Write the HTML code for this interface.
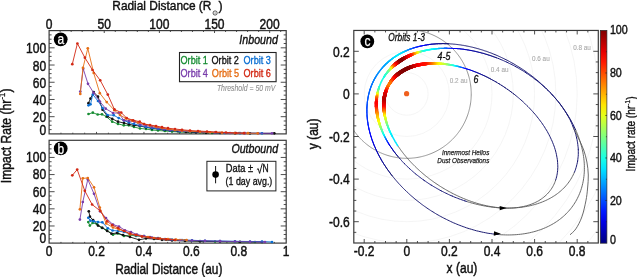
<!DOCTYPE html>
<html><head><meta charset="utf-8"><style>
html,body{margin:0;padding:0;background:#fff;}
svg{display:block;font-family:"Liberation Sans",sans-serif;will-change:transform;}
text{stroke-linejoin:round;}
</style></head><body>
<svg width="637" height="277" viewBox="0 0 637 277">
<rect width="637" height="277" fill="#fff"/>
<line x1="49.10" y1="129.60" x2="51.60" y2="129.60" stroke="#3a3a3a" stroke-width="0.9"/>
<line x1="286.20" y1="129.60" x2="283.70" y2="129.60" stroke="#3a3a3a" stroke-width="0.9"/>
<line x1="49.10" y1="125.29" x2="51.60" y2="125.29" stroke="#3a3a3a" stroke-width="0.9"/>
<line x1="286.20" y1="125.29" x2="283.70" y2="125.29" stroke="#3a3a3a" stroke-width="0.9"/>
<line x1="49.10" y1="120.99" x2="51.60" y2="120.99" stroke="#3a3a3a" stroke-width="0.9"/>
<line x1="286.20" y1="120.99" x2="283.70" y2="120.99" stroke="#3a3a3a" stroke-width="0.9"/>
<line x1="49.10" y1="116.68" x2="54.60" y2="116.68" stroke="#3a3a3a" stroke-width="0.9"/>
<line x1="286.20" y1="116.68" x2="280.70" y2="116.68" stroke="#3a3a3a" stroke-width="0.9"/>
<line x1="49.10" y1="112.38" x2="51.60" y2="112.38" stroke="#3a3a3a" stroke-width="0.9"/>
<line x1="286.20" y1="112.38" x2="283.70" y2="112.38" stroke="#3a3a3a" stroke-width="0.9"/>
<line x1="49.10" y1="108.08" x2="51.60" y2="108.08" stroke="#3a3a3a" stroke-width="0.9"/>
<line x1="286.20" y1="108.08" x2="283.70" y2="108.08" stroke="#3a3a3a" stroke-width="0.9"/>
<line x1="49.10" y1="103.77" x2="51.60" y2="103.77" stroke="#3a3a3a" stroke-width="0.9"/>
<line x1="286.20" y1="103.77" x2="283.70" y2="103.77" stroke="#3a3a3a" stroke-width="0.9"/>
<line x1="49.10" y1="99.47" x2="54.60" y2="99.47" stroke="#3a3a3a" stroke-width="0.9"/>
<line x1="286.20" y1="99.47" x2="280.70" y2="99.47" stroke="#3a3a3a" stroke-width="0.9"/>
<line x1="49.10" y1="95.16" x2="51.60" y2="95.16" stroke="#3a3a3a" stroke-width="0.9"/>
<line x1="286.20" y1="95.16" x2="283.70" y2="95.16" stroke="#3a3a3a" stroke-width="0.9"/>
<line x1="49.10" y1="90.86" x2="51.60" y2="90.86" stroke="#3a3a3a" stroke-width="0.9"/>
<line x1="286.20" y1="90.86" x2="283.70" y2="90.86" stroke="#3a3a3a" stroke-width="0.9"/>
<line x1="49.10" y1="86.55" x2="51.60" y2="86.55" stroke="#3a3a3a" stroke-width="0.9"/>
<line x1="286.20" y1="86.55" x2="283.70" y2="86.55" stroke="#3a3a3a" stroke-width="0.9"/>
<line x1="49.10" y1="82.25" x2="54.60" y2="82.25" stroke="#3a3a3a" stroke-width="0.9"/>
<line x1="286.20" y1="82.25" x2="280.70" y2="82.25" stroke="#3a3a3a" stroke-width="0.9"/>
<line x1="49.10" y1="77.95" x2="51.60" y2="77.95" stroke="#3a3a3a" stroke-width="0.9"/>
<line x1="286.20" y1="77.95" x2="283.70" y2="77.95" stroke="#3a3a3a" stroke-width="0.9"/>
<line x1="49.10" y1="73.64" x2="51.60" y2="73.64" stroke="#3a3a3a" stroke-width="0.9"/>
<line x1="286.20" y1="73.64" x2="283.70" y2="73.64" stroke="#3a3a3a" stroke-width="0.9"/>
<line x1="49.10" y1="69.34" x2="51.60" y2="69.34" stroke="#3a3a3a" stroke-width="0.9"/>
<line x1="286.20" y1="69.34" x2="283.70" y2="69.34" stroke="#3a3a3a" stroke-width="0.9"/>
<line x1="49.10" y1="65.03" x2="54.60" y2="65.03" stroke="#3a3a3a" stroke-width="0.9"/>
<line x1="286.20" y1="65.03" x2="280.70" y2="65.03" stroke="#3a3a3a" stroke-width="0.9"/>
<line x1="49.10" y1="60.73" x2="51.60" y2="60.73" stroke="#3a3a3a" stroke-width="0.9"/>
<line x1="286.20" y1="60.73" x2="283.70" y2="60.73" stroke="#3a3a3a" stroke-width="0.9"/>
<line x1="49.10" y1="56.42" x2="51.60" y2="56.42" stroke="#3a3a3a" stroke-width="0.9"/>
<line x1="286.20" y1="56.42" x2="283.70" y2="56.42" stroke="#3a3a3a" stroke-width="0.9"/>
<line x1="49.10" y1="52.12" x2="51.60" y2="52.12" stroke="#3a3a3a" stroke-width="0.9"/>
<line x1="286.20" y1="52.12" x2="283.70" y2="52.12" stroke="#3a3a3a" stroke-width="0.9"/>
<line x1="49.10" y1="47.82" x2="54.60" y2="47.82" stroke="#3a3a3a" stroke-width="0.9"/>
<line x1="286.20" y1="47.82" x2="280.70" y2="47.82" stroke="#3a3a3a" stroke-width="0.9"/>
<line x1="49.10" y1="43.51" x2="51.60" y2="43.51" stroke="#3a3a3a" stroke-width="0.9"/>
<line x1="286.20" y1="43.51" x2="283.70" y2="43.51" stroke="#3a3a3a" stroke-width="0.9"/>
<line x1="49.10" y1="39.21" x2="51.60" y2="39.21" stroke="#3a3a3a" stroke-width="0.9"/>
<line x1="286.20" y1="39.21" x2="283.70" y2="39.21" stroke="#3a3a3a" stroke-width="0.9"/>
<line x1="49.10" y1="34.90" x2="51.60" y2="34.90" stroke="#3a3a3a" stroke-width="0.9"/>
<line x1="286.20" y1="34.90" x2="283.70" y2="34.90" stroke="#3a3a3a" stroke-width="0.9"/>
<line x1="60.95" y1="133.90" x2="60.95" y2="132.70" stroke="#3a3a3a" stroke-width="0.9"/>
<line x1="72.81" y1="133.90" x2="72.81" y2="132.70" stroke="#3a3a3a" stroke-width="0.9"/>
<line x1="84.67" y1="133.90" x2="84.67" y2="132.70" stroke="#3a3a3a" stroke-width="0.9"/>
<line x1="96.52" y1="133.90" x2="96.52" y2="131.90" stroke="#3a3a3a" stroke-width="0.9"/>
<line x1="108.38" y1="133.90" x2="108.38" y2="132.70" stroke="#3a3a3a" stroke-width="0.9"/>
<line x1="120.23" y1="133.90" x2="120.23" y2="132.70" stroke="#3a3a3a" stroke-width="0.9"/>
<line x1="132.09" y1="133.90" x2="132.09" y2="132.70" stroke="#3a3a3a" stroke-width="0.9"/>
<line x1="143.94" y1="133.90" x2="143.94" y2="131.90" stroke="#3a3a3a" stroke-width="0.9"/>
<line x1="155.79" y1="133.90" x2="155.79" y2="132.70" stroke="#3a3a3a" stroke-width="0.9"/>
<line x1="167.65" y1="133.90" x2="167.65" y2="132.70" stroke="#3a3a3a" stroke-width="0.9"/>
<line x1="179.50" y1="133.90" x2="179.50" y2="132.70" stroke="#3a3a3a" stroke-width="0.9"/>
<line x1="191.36" y1="133.90" x2="191.36" y2="131.90" stroke="#3a3a3a" stroke-width="0.9"/>
<line x1="203.22" y1="133.90" x2="203.22" y2="132.70" stroke="#3a3a3a" stroke-width="0.9"/>
<line x1="215.07" y1="133.90" x2="215.07" y2="132.70" stroke="#3a3a3a" stroke-width="0.9"/>
<line x1="226.92" y1="133.90" x2="226.92" y2="132.70" stroke="#3a3a3a" stroke-width="0.9"/>
<line x1="238.78" y1="133.90" x2="238.78" y2="131.90" stroke="#3a3a3a" stroke-width="0.9"/>
<line x1="250.64" y1="133.90" x2="250.64" y2="132.70" stroke="#3a3a3a" stroke-width="0.9"/>
<line x1="262.49" y1="133.90" x2="262.49" y2="132.70" stroke="#3a3a3a" stroke-width="0.9"/>
<line x1="274.35" y1="133.90" x2="274.35" y2="132.70" stroke="#3a3a3a" stroke-width="0.9"/>
<rect x="49.10" y="30.60" width="237.10" height="103.30" fill="none" stroke="#3a3a3a" stroke-width="1.2"/>
<line x1="49.10" y1="238.82" x2="51.60" y2="238.82" stroke="#3a3a3a" stroke-width="0.9"/>
<line x1="286.20" y1="238.82" x2="283.70" y2="238.82" stroke="#3a3a3a" stroke-width="0.9"/>
<line x1="49.10" y1="234.53" x2="51.60" y2="234.53" stroke="#3a3a3a" stroke-width="0.9"/>
<line x1="286.20" y1="234.53" x2="283.70" y2="234.53" stroke="#3a3a3a" stroke-width="0.9"/>
<line x1="49.10" y1="230.25" x2="51.60" y2="230.25" stroke="#3a3a3a" stroke-width="0.9"/>
<line x1="286.20" y1="230.25" x2="283.70" y2="230.25" stroke="#3a3a3a" stroke-width="0.9"/>
<line x1="49.10" y1="225.97" x2="54.60" y2="225.97" stroke="#3a3a3a" stroke-width="0.9"/>
<line x1="286.20" y1="225.97" x2="280.70" y2="225.97" stroke="#3a3a3a" stroke-width="0.9"/>
<line x1="49.10" y1="221.68" x2="51.60" y2="221.68" stroke="#3a3a3a" stroke-width="0.9"/>
<line x1="286.20" y1="221.68" x2="283.70" y2="221.68" stroke="#3a3a3a" stroke-width="0.9"/>
<line x1="49.10" y1="217.40" x2="51.60" y2="217.40" stroke="#3a3a3a" stroke-width="0.9"/>
<line x1="286.20" y1="217.40" x2="283.70" y2="217.40" stroke="#3a3a3a" stroke-width="0.9"/>
<line x1="49.10" y1="213.12" x2="51.60" y2="213.12" stroke="#3a3a3a" stroke-width="0.9"/>
<line x1="286.20" y1="213.12" x2="283.70" y2="213.12" stroke="#3a3a3a" stroke-width="0.9"/>
<line x1="49.10" y1="208.83" x2="54.60" y2="208.83" stroke="#3a3a3a" stroke-width="0.9"/>
<line x1="286.20" y1="208.83" x2="280.70" y2="208.83" stroke="#3a3a3a" stroke-width="0.9"/>
<line x1="49.10" y1="204.55" x2="51.60" y2="204.55" stroke="#3a3a3a" stroke-width="0.9"/>
<line x1="286.20" y1="204.55" x2="283.70" y2="204.55" stroke="#3a3a3a" stroke-width="0.9"/>
<line x1="49.10" y1="200.27" x2="51.60" y2="200.27" stroke="#3a3a3a" stroke-width="0.9"/>
<line x1="286.20" y1="200.27" x2="283.70" y2="200.27" stroke="#3a3a3a" stroke-width="0.9"/>
<line x1="49.10" y1="195.98" x2="51.60" y2="195.98" stroke="#3a3a3a" stroke-width="0.9"/>
<line x1="286.20" y1="195.98" x2="283.70" y2="195.98" stroke="#3a3a3a" stroke-width="0.9"/>
<line x1="49.10" y1="191.70" x2="54.60" y2="191.70" stroke="#3a3a3a" stroke-width="0.9"/>
<line x1="286.20" y1="191.70" x2="280.70" y2="191.70" stroke="#3a3a3a" stroke-width="0.9"/>
<line x1="49.10" y1="187.42" x2="51.60" y2="187.42" stroke="#3a3a3a" stroke-width="0.9"/>
<line x1="286.20" y1="187.42" x2="283.70" y2="187.42" stroke="#3a3a3a" stroke-width="0.9"/>
<line x1="49.10" y1="183.13" x2="51.60" y2="183.13" stroke="#3a3a3a" stroke-width="0.9"/>
<line x1="286.20" y1="183.13" x2="283.70" y2="183.13" stroke="#3a3a3a" stroke-width="0.9"/>
<line x1="49.10" y1="178.85" x2="51.60" y2="178.85" stroke="#3a3a3a" stroke-width="0.9"/>
<line x1="286.20" y1="178.85" x2="283.70" y2="178.85" stroke="#3a3a3a" stroke-width="0.9"/>
<line x1="49.10" y1="174.57" x2="54.60" y2="174.57" stroke="#3a3a3a" stroke-width="0.9"/>
<line x1="286.20" y1="174.57" x2="280.70" y2="174.57" stroke="#3a3a3a" stroke-width="0.9"/>
<line x1="49.10" y1="170.28" x2="51.60" y2="170.28" stroke="#3a3a3a" stroke-width="0.9"/>
<line x1="286.20" y1="170.28" x2="283.70" y2="170.28" stroke="#3a3a3a" stroke-width="0.9"/>
<line x1="49.10" y1="166.00" x2="51.60" y2="166.00" stroke="#3a3a3a" stroke-width="0.9"/>
<line x1="286.20" y1="166.00" x2="283.70" y2="166.00" stroke="#3a3a3a" stroke-width="0.9"/>
<line x1="49.10" y1="161.72" x2="51.60" y2="161.72" stroke="#3a3a3a" stroke-width="0.9"/>
<line x1="286.20" y1="161.72" x2="283.70" y2="161.72" stroke="#3a3a3a" stroke-width="0.9"/>
<line x1="49.10" y1="157.43" x2="54.60" y2="157.43" stroke="#3a3a3a" stroke-width="0.9"/>
<line x1="286.20" y1="157.43" x2="280.70" y2="157.43" stroke="#3a3a3a" stroke-width="0.9"/>
<line x1="49.10" y1="153.15" x2="51.60" y2="153.15" stroke="#3a3a3a" stroke-width="0.9"/>
<line x1="286.20" y1="153.15" x2="283.70" y2="153.15" stroke="#3a3a3a" stroke-width="0.9"/>
<line x1="49.10" y1="148.87" x2="51.60" y2="148.87" stroke="#3a3a3a" stroke-width="0.9"/>
<line x1="286.20" y1="148.87" x2="283.70" y2="148.87" stroke="#3a3a3a" stroke-width="0.9"/>
<line x1="49.10" y1="144.58" x2="51.60" y2="144.58" stroke="#3a3a3a" stroke-width="0.9"/>
<line x1="286.20" y1="144.58" x2="283.70" y2="144.58" stroke="#3a3a3a" stroke-width="0.9"/>
<line x1="60.95" y1="243.10" x2="60.95" y2="241.90" stroke="#3a3a3a" stroke-width="0.9"/>
<line x1="72.81" y1="243.10" x2="72.81" y2="241.90" stroke="#3a3a3a" stroke-width="0.9"/>
<line x1="84.67" y1="243.10" x2="84.67" y2="241.90" stroke="#3a3a3a" stroke-width="0.9"/>
<line x1="96.52" y1="243.10" x2="96.52" y2="241.10" stroke="#3a3a3a" stroke-width="0.9"/>
<line x1="108.38" y1="243.10" x2="108.38" y2="241.90" stroke="#3a3a3a" stroke-width="0.9"/>
<line x1="120.23" y1="243.10" x2="120.23" y2="241.90" stroke="#3a3a3a" stroke-width="0.9"/>
<line x1="132.09" y1="243.10" x2="132.09" y2="241.90" stroke="#3a3a3a" stroke-width="0.9"/>
<line x1="143.94" y1="243.10" x2="143.94" y2="241.10" stroke="#3a3a3a" stroke-width="0.9"/>
<line x1="155.79" y1="243.10" x2="155.79" y2="241.90" stroke="#3a3a3a" stroke-width="0.9"/>
<line x1="167.65" y1="243.10" x2="167.65" y2="241.90" stroke="#3a3a3a" stroke-width="0.9"/>
<line x1="179.50" y1="243.10" x2="179.50" y2="241.90" stroke="#3a3a3a" stroke-width="0.9"/>
<line x1="191.36" y1="243.10" x2="191.36" y2="241.10" stroke="#3a3a3a" stroke-width="0.9"/>
<line x1="203.22" y1="243.10" x2="203.22" y2="241.90" stroke="#3a3a3a" stroke-width="0.9"/>
<line x1="215.07" y1="243.10" x2="215.07" y2="241.90" stroke="#3a3a3a" stroke-width="0.9"/>
<line x1="226.92" y1="243.10" x2="226.92" y2="241.90" stroke="#3a3a3a" stroke-width="0.9"/>
<line x1="238.78" y1="243.10" x2="238.78" y2="241.10" stroke="#3a3a3a" stroke-width="0.9"/>
<line x1="250.64" y1="243.10" x2="250.64" y2="241.90" stroke="#3a3a3a" stroke-width="0.9"/>
<line x1="262.49" y1="243.10" x2="262.49" y2="241.90" stroke="#3a3a3a" stroke-width="0.9"/>
<line x1="274.35" y1="243.10" x2="274.35" y2="241.90" stroke="#3a3a3a" stroke-width="0.9"/>
<rect x="49.10" y="140.30" width="237.10" height="102.80" fill="none" stroke="#3a3a3a" stroke-width="1.2"/>
<line x1="60.13" y1="30.60" x2="60.13" y2="32.00" stroke="#3a3a3a" stroke-width="0.9"/>
<line x1="71.16" y1="30.60" x2="71.16" y2="32.00" stroke="#3a3a3a" stroke-width="0.9"/>
<line x1="82.18" y1="30.60" x2="82.18" y2="32.00" stroke="#3a3a3a" stroke-width="0.9"/>
<line x1="93.21" y1="30.60" x2="93.21" y2="32.00" stroke="#3a3a3a" stroke-width="0.9"/>
<line x1="104.24" y1="30.60" x2="104.24" y2="33.00" stroke="#3a3a3a" stroke-width="0.9"/>
<line x1="115.27" y1="30.60" x2="115.27" y2="32.00" stroke="#3a3a3a" stroke-width="0.9"/>
<line x1="126.30" y1="30.60" x2="126.30" y2="32.00" stroke="#3a3a3a" stroke-width="0.9"/>
<line x1="137.32" y1="30.60" x2="137.32" y2="32.00" stroke="#3a3a3a" stroke-width="0.9"/>
<line x1="148.35" y1="30.60" x2="148.35" y2="32.00" stroke="#3a3a3a" stroke-width="0.9"/>
<line x1="159.38" y1="30.60" x2="159.38" y2="33.00" stroke="#3a3a3a" stroke-width="0.9"/>
<line x1="170.41" y1="30.60" x2="170.41" y2="32.00" stroke="#3a3a3a" stroke-width="0.9"/>
<line x1="181.43" y1="30.60" x2="181.43" y2="32.00" stroke="#3a3a3a" stroke-width="0.9"/>
<line x1="192.46" y1="30.60" x2="192.46" y2="32.00" stroke="#3a3a3a" stroke-width="0.9"/>
<line x1="203.49" y1="30.60" x2="203.49" y2="32.00" stroke="#3a3a3a" stroke-width="0.9"/>
<line x1="214.52" y1="30.60" x2="214.52" y2="33.00" stroke="#3a3a3a" stroke-width="0.9"/>
<line x1="225.55" y1="30.60" x2="225.55" y2="32.00" stroke="#3a3a3a" stroke-width="0.9"/>
<line x1="236.57" y1="30.60" x2="236.57" y2="32.00" stroke="#3a3a3a" stroke-width="0.9"/>
<line x1="247.60" y1="30.60" x2="247.60" y2="32.00" stroke="#3a3a3a" stroke-width="0.9"/>
<line x1="258.63" y1="30.60" x2="258.63" y2="32.00" stroke="#3a3a3a" stroke-width="0.9"/>
<line x1="269.66" y1="30.60" x2="269.66" y2="33.00" stroke="#3a3a3a" stroke-width="0.9"/>
<line x1="280.69" y1="30.60" x2="280.69" y2="32.00" stroke="#3a3a3a" stroke-width="0.9"/>
<text x="49.10" y="28.80" font-size="14" text-anchor="middle" textLength="6.70" lengthAdjust="spacingAndGlyphs" fill="#111" stroke="#111" stroke-width="0.45" style="">0</text>
<text x="104.24" y="28.80" font-size="14" text-anchor="middle" textLength="13.39" lengthAdjust="spacingAndGlyphs" fill="#111" stroke="#111" stroke-width="0.45" style="">50</text>
<text x="159.38" y="28.80" font-size="14" text-anchor="middle" textLength="20.09" lengthAdjust="spacingAndGlyphs" fill="#111" stroke="#111" stroke-width="0.45" style="">100</text>
<text x="214.52" y="28.80" font-size="14" text-anchor="middle" textLength="20.09" lengthAdjust="spacingAndGlyphs" fill="#111" stroke="#111" stroke-width="0.45" style="">150</text>
<text x="269.66" y="28.80" font-size="14" text-anchor="middle" textLength="20.09" lengthAdjust="spacingAndGlyphs" fill="#111" stroke="#111" stroke-width="0.45" style="">200</text>
<text x="112.30" y="10.40" font-size="13.6" text-anchor="start" textLength="99.09" lengthAdjust="spacingAndGlyphs" fill="#111" stroke="#111" stroke-width="0.44" style="">Radial Distance (R</text>
<circle cx="215.1" cy="13.0" r="2.1" fill="none" stroke="#111" stroke-width="0.7"/><circle cx="215.1" cy="13.0" r="0.55" fill="#111"/>
<text x="218.60" y="10.40" font-size="13.6" text-anchor="start" textLength="4.08" lengthAdjust="spacingAndGlyphs" fill="#111" stroke="#111" stroke-width="0.44" style="">)</text>
<text x="46.20" y="122.28" font-size="14" text-anchor="end" textLength="13.39" lengthAdjust="spacingAndGlyphs" fill="#111" stroke="#111" stroke-width="0.45" style="">20</text>
<text x="46.20" y="105.07" font-size="14" text-anchor="end" textLength="13.39" lengthAdjust="spacingAndGlyphs" fill="#111" stroke="#111" stroke-width="0.45" style="">40</text>
<text x="46.20" y="87.85" font-size="14" text-anchor="end" textLength="13.39" lengthAdjust="spacingAndGlyphs" fill="#111" stroke="#111" stroke-width="0.45" style="">60</text>
<text x="46.20" y="70.63" font-size="14" text-anchor="end" textLength="13.39" lengthAdjust="spacingAndGlyphs" fill="#111" stroke="#111" stroke-width="0.45" style="">80</text>
<text x="46.20" y="53.42" font-size="14" text-anchor="end" textLength="20.09" lengthAdjust="spacingAndGlyphs" fill="#111" stroke="#111" stroke-width="0.45" style="">100</text>
<text x="46.20" y="134.70" font-size="14" text-anchor="end" textLength="6.70" lengthAdjust="spacingAndGlyphs" fill="#111" stroke="#111" stroke-width="0.45" style="">0</text>
<text x="46.20" y="230.87" font-size="14" text-anchor="end" textLength="13.39" lengthAdjust="spacingAndGlyphs" fill="#111" stroke="#111" stroke-width="0.45" style="">20</text>
<text x="46.20" y="213.73" font-size="14" text-anchor="end" textLength="13.39" lengthAdjust="spacingAndGlyphs" fill="#111" stroke="#111" stroke-width="0.45" style="">40</text>
<text x="46.20" y="196.60" font-size="14" text-anchor="end" textLength="13.39" lengthAdjust="spacingAndGlyphs" fill="#111" stroke="#111" stroke-width="0.45" style="">60</text>
<text x="46.20" y="179.47" font-size="14" text-anchor="end" textLength="13.39" lengthAdjust="spacingAndGlyphs" fill="#111" stroke="#111" stroke-width="0.45" style="">80</text>
<text x="46.20" y="162.33" font-size="14" text-anchor="end" textLength="20.09" lengthAdjust="spacingAndGlyphs" fill="#111" stroke="#111" stroke-width="0.45" style="">100</text>
<text x="46.20" y="242.80" font-size="14" text-anchor="end" textLength="6.70" lengthAdjust="spacingAndGlyphs" fill="#111" stroke="#111" stroke-width="0.45" style="">0</text>
<text x="49.10" y="256.30" font-size="14" text-anchor="middle" textLength="6.70" lengthAdjust="spacingAndGlyphs" fill="#111" stroke="#111" stroke-width="0.45" style="">0</text>
<text x="96.52" y="256.30" font-size="14" text-anchor="middle" textLength="16.74" lengthAdjust="spacingAndGlyphs" fill="#111" stroke="#111" stroke-width="0.45" style="">0.2</text>
<text x="143.94" y="256.30" font-size="14" text-anchor="middle" textLength="16.74" lengthAdjust="spacingAndGlyphs" fill="#111" stroke="#111" stroke-width="0.45" style="">0.4</text>
<text x="191.36" y="256.30" font-size="14" text-anchor="middle" textLength="16.74" lengthAdjust="spacingAndGlyphs" fill="#111" stroke="#111" stroke-width="0.45" style="">0.6</text>
<text x="238.78" y="256.30" font-size="14" text-anchor="middle" textLength="16.74" lengthAdjust="spacingAndGlyphs" fill="#111" stroke="#111" stroke-width="0.45" style="">0.8</text>
<text x="286.20" y="256.30" font-size="14" text-anchor="middle" textLength="6.70" lengthAdjust="spacingAndGlyphs" fill="#111" stroke="#111" stroke-width="0.45" style="">1</text>
<text x="115.20" y="274.00" font-size="14" text-anchor="start" textLength="107.17" lengthAdjust="spacingAndGlyphs" fill="#111" stroke="#111" stroke-width="0.45" style="">Radial Distance (au)</text>
<g transform="translate(10.8,183.2) rotate(-90)">
<text x="0.00" y="0.00" font-size="14" text-anchor="start" textLength="83.45" lengthAdjust="spacingAndGlyphs" fill="#111" stroke="#111" stroke-width="0.45" style="">Impact Rate (hr</text>
<text x="83.65" y="-5.88" font-size="8.68" text-anchor="start" textLength="6.68" lengthAdjust="spacingAndGlyphs" fill="#111" stroke="#111" stroke-width="0.28" style="">-1</text>
<text x="90.72" y="0.00" font-size="14" text-anchor="start" textLength="4.03" lengthAdjust="spacingAndGlyphs" fill="#111" stroke="#111" stroke-width="0.45" style="">)</text>
</g>
<circle cx="60.7" cy="39.3" r="6.9" fill="#000"/>
<text x="60.80" y="43.60" font-size="15" text-anchor="middle" textLength="6.67" lengthAdjust="spacingAndGlyphs" fill="#fff" stroke="#fff" stroke-width="0.25" style="">a</text>
<circle cx="60.7" cy="148.4" r="6.9" fill="#000"/>
<text x="60.80" y="153.70" font-size="15" text-anchor="middle" textLength="6.67" lengthAdjust="spacingAndGlyphs" fill="#fff" stroke="#fff" stroke-width="0.25" style="">b</text>
<circle cx="367.3" cy="41.4" r="6.9" fill="#000"/>
<text x="367.40" y="45.80" font-size="15" text-anchor="middle" textLength="6.00" lengthAdjust="spacingAndGlyphs" fill="#fff" stroke="#fff" stroke-width="0.25" style="">c</text>
<text x="239.30" y="44.00" font-size="12.0" text-anchor="start" textLength="38.60" lengthAdjust="spacingAndGlyphs" fill="#111" stroke="#111" stroke-width="0.38" style="font-style:italic;">Inbound</text>
<text x="231.40" y="152.80" font-size="12.0" text-anchor="start" textLength="46.65" lengthAdjust="spacingAndGlyphs" fill="#111" stroke="#111" stroke-width="0.38" style="font-style:italic;">Outbound</text>
<rect x="179.5" y="52.5" width="96.6" height="29.2" fill="#fff" stroke="#222" stroke-width="1.1"/>
<text x="180.50" y="63.70" font-size="11.4" text-anchor="start" textLength="27.37" lengthAdjust="spacingAndGlyphs" fill="#168c32" stroke="#168c32" stroke-width="0.36" style="">Orbit 1</text>
<text x="211.50" y="63.70" font-size="11.4" text-anchor="start" textLength="27.37" lengthAdjust="spacingAndGlyphs" fill="#111111" stroke="#111111" stroke-width="0.36" style="">Orbit 2</text>
<text x="243.50" y="63.70" font-size="11.4" text-anchor="start" textLength="27.37" lengthAdjust="spacingAndGlyphs" fill="#0a6ed2" stroke="#0a6ed2" stroke-width="0.36" style="">Orbit 3</text>
<text x="180.50" y="77.40" font-size="11.4" text-anchor="start" textLength="27.37" lengthAdjust="spacingAndGlyphs" fill="#783caa" stroke="#783caa" stroke-width="0.36" style="">Orbit 4</text>
<text x="211.80" y="77.40" font-size="11.4" text-anchor="start" textLength="27.37" lengthAdjust="spacingAndGlyphs" fill="#e66e14" stroke="#e66e14" stroke-width="0.36" style="">Orbit 5</text>
<text x="243.50" y="77.40" font-size="11.4" text-anchor="start" textLength="27.37" lengthAdjust="spacingAndGlyphs" fill="#d22814" stroke="#d22814" stroke-width="0.36" style="">Orbit 6</text>
<text x="275.30" y="90.90" font-size="8.2" text-anchor="end" textLength="58.38" lengthAdjust="spacingAndGlyphs" fill="#8c8c8c" stroke="#8c8c8c" stroke-width="0.08" style="font-style:italic;">Threshold = 50 mV</text>
<rect x="206.9" y="161.3" width="69.0" height="29.6" fill="#fff" stroke="#222" stroke-width="1"/>
<line x1="215.60" y1="166.00" x2="215.60" y2="183.30" stroke="#111" stroke-width="1"/>
<circle cx="215.6" cy="174.6" r="3.3" fill="#000"/>
<text x="225.80" y="171.70" font-size="10.6" text-anchor="start" textLength="27.28" lengthAdjust="spacingAndGlyphs" fill="#111" stroke="#111" stroke-width="0.34" style="">Data ± </text>
<polyline points="256.9,169.6 258.2,168.6 259.6,173.4 262.4,163.3" fill="none" stroke="#111" stroke-width="0.95" stroke-linejoin="miter"/>
<text x="262.40" y="171.70" font-size="10.6" text-anchor="start" textLength="6.12" lengthAdjust="spacingAndGlyphs" fill="#111" stroke="#111" stroke-width="0.34" style="">N</text>
<text x="225.60" y="184.60" font-size="10.6" text-anchor="start" textLength="46.73" lengthAdjust="spacingAndGlyphs" fill="#111" stroke="#111" stroke-width="0.34" style="">(1 day avg.)</text>
<polyline points="88.5,114.0 92.8,112.7 97.7,114.5 102.0,114.3 106.4,116.7 112.2,121.7 118.0,123.9 123.8,125.3 128.8,125.3 134.0,127.0 140.0,128.5 146.0,129.0 152.0,130.0 158.0,130.5 165.0,131.0 172.0,131.6 180.0,132.0 190.0,132.4 200.0,132.6 212.0,133.0" fill="none" stroke="#168c32" stroke-width="0.9" stroke-linejoin="round"/>
<circle cx="88.5" cy="114.0" r="1.35" fill="#168c32"/>
<circle cx="92.8" cy="112.7" r="1.35" fill="#168c32"/>
<circle cx="97.7" cy="114.5" r="1.35" fill="#168c32"/>
<circle cx="102.0" cy="114.3" r="1.35" fill="#168c32"/>
<circle cx="106.4" cy="116.7" r="1.35" fill="#168c32"/>
<circle cx="112.2" cy="121.7" r="1.35" fill="#168c32"/>
<circle cx="118.0" cy="123.9" r="1.35" fill="#168c32"/>
<circle cx="123.8" cy="125.3" r="1.35" fill="#168c32"/>
<circle cx="128.8" cy="125.3" r="1.35" fill="#168c32"/>
<circle cx="134.0" cy="127.0" r="1.35" fill="#168c32"/>
<circle cx="140.0" cy="128.5" r="1.35" fill="#168c32"/>
<circle cx="146.0" cy="129.0" r="1.35" fill="#168c32"/>
<circle cx="152.0" cy="130.0" r="1.35" fill="#168c32"/>
<circle cx="158.0" cy="130.5" r="1.35" fill="#168c32"/>
<circle cx="165.0" cy="131.0" r="1.35" fill="#168c32"/>
<circle cx="172.0" cy="131.6" r="1.35" fill="#168c32"/>
<circle cx="180.0" cy="132.0" r="1.35" fill="#168c32"/>
<circle cx="190.0" cy="132.4" r="1.35" fill="#168c32"/>
<circle cx="200.0" cy="132.6" r="1.35" fill="#168c32"/>
<circle cx="212.0" cy="133.0" r="1.35" fill="#168c32"/>
<polyline points="88.5,103.2 90.5,98.6 93.7,92.1 98.0,96.7 102.6,109.7 107.5,116.4 112.2,118.8 118.0,121.7 124.0,123.0 129.0,124.3 133.9,125.3 139.7,126.0 146.0,127.3 152.0,128.5 158.0,129.0 164.0,130.0 170.0,130.6 178.0,131.2 186.0,132.0 196.0,132.4 206.0,132.8 220.0,133.0 235.0,133.2 250.0,133.3 274.3,133.3" fill="none" stroke="#111111" stroke-width="0.9" stroke-linejoin="round"/>
<circle cx="88.5" cy="103.2" r="1.35" fill="#111111"/>
<circle cx="90.5" cy="98.6" r="1.35" fill="#111111"/>
<circle cx="93.7" cy="92.1" r="1.35" fill="#111111"/>
<circle cx="98.0" cy="96.7" r="1.35" fill="#111111"/>
<circle cx="102.6" cy="109.7" r="1.35" fill="#111111"/>
<circle cx="107.5" cy="116.4" r="1.35" fill="#111111"/>
<circle cx="112.2" cy="118.8" r="1.35" fill="#111111"/>
<circle cx="118.0" cy="121.7" r="1.35" fill="#111111"/>
<circle cx="124.0" cy="123.0" r="1.35" fill="#111111"/>
<circle cx="129.0" cy="124.3" r="1.35" fill="#111111"/>
<circle cx="133.9" cy="125.3" r="1.35" fill="#111111"/>
<circle cx="139.7" cy="126.0" r="1.35" fill="#111111"/>
<circle cx="146.0" cy="127.3" r="1.35" fill="#111111"/>
<circle cx="152.0" cy="128.5" r="1.35" fill="#111111"/>
<circle cx="158.0" cy="129.0" r="1.35" fill="#111111"/>
<circle cx="164.0" cy="130.0" r="1.35" fill="#111111"/>
<circle cx="170.0" cy="130.6" r="1.35" fill="#111111"/>
<circle cx="178.0" cy="131.2" r="1.35" fill="#111111"/>
<circle cx="186.0" cy="132.0" r="1.35" fill="#111111"/>
<circle cx="196.0" cy="132.4" r="1.35" fill="#111111"/>
<circle cx="206.0" cy="132.8" r="1.35" fill="#111111"/>
<circle cx="220.0" cy="133.0" r="1.35" fill="#111111"/>
<circle cx="235.0" cy="133.2" r="1.35" fill="#111111"/>
<circle cx="250.0" cy="133.3" r="1.35" fill="#111111"/>
<circle cx="274.3" cy="133.3" r="1.35" fill="#111111"/>
<polyline points="88.5,105.3 90.5,104.3 92.8,94.5 98.0,101.0 102.6,108.0 107.5,115.0 113.7,115.2 118.7,118.1 124.0,120.5 128.8,122.4 134.0,124.0 140.0,125.5 146.0,127.0 152.0,128.0 158.0,128.8 164.0,129.5 170.0,130.5 180.0,131.2 190.0,131.6 200.0,132.0 210.0,132.5 225.0,133.0 240.0,133.2 262.0,133.3" fill="none" stroke="#0a6ed2" stroke-width="0.9" stroke-linejoin="round"/>
<circle cx="88.5" cy="105.3" r="1.35" fill="#0a6ed2"/>
<circle cx="90.5" cy="104.3" r="1.35" fill="#0a6ed2"/>
<circle cx="92.8" cy="94.5" r="1.35" fill="#0a6ed2"/>
<circle cx="98.0" cy="101.0" r="1.35" fill="#0a6ed2"/>
<circle cx="102.6" cy="108.0" r="1.35" fill="#0a6ed2"/>
<circle cx="107.5" cy="115.0" r="1.35" fill="#0a6ed2"/>
<circle cx="113.7" cy="115.2" r="1.35" fill="#0a6ed2"/>
<circle cx="118.7" cy="118.1" r="1.35" fill="#0a6ed2"/>
<circle cx="124.0" cy="120.5" r="1.35" fill="#0a6ed2"/>
<circle cx="128.8" cy="122.4" r="1.35" fill="#0a6ed2"/>
<circle cx="134.0" cy="124.0" r="1.35" fill="#0a6ed2"/>
<circle cx="140.0" cy="125.5" r="1.35" fill="#0a6ed2"/>
<circle cx="146.0" cy="127.0" r="1.35" fill="#0a6ed2"/>
<circle cx="152.0" cy="128.0" r="1.35" fill="#0a6ed2"/>
<circle cx="158.0" cy="128.8" r="1.35" fill="#0a6ed2"/>
<circle cx="164.0" cy="129.5" r="1.35" fill="#0a6ed2"/>
<circle cx="170.0" cy="130.5" r="1.35" fill="#0a6ed2"/>
<circle cx="180.0" cy="131.2" r="1.35" fill="#0a6ed2"/>
<circle cx="190.0" cy="131.6" r="1.35" fill="#0a6ed2"/>
<circle cx="200.0" cy="132.0" r="1.35" fill="#0a6ed2"/>
<circle cx="210.0" cy="132.5" r="1.35" fill="#0a6ed2"/>
<circle cx="225.0" cy="133.0" r="1.35" fill="#0a6ed2"/>
<circle cx="240.0" cy="133.2" r="1.35" fill="#0a6ed2"/>
<circle cx="262.0" cy="133.3" r="1.35" fill="#0a6ed2"/>
<polyline points="80.3,91.6 83.2,68.8 88.0,83.8 93.7,92.9 99.9,101.5 105.7,108.7 113.0,113.0 118.7,113.0 123.8,120.3 129.0,121.0 134.6,121.7 140.0,124.5 146.0,125.5 152.0,127.0 158.0,128.0 164.0,129.0 170.0,130.0 180.0,130.8 190.0,131.4 200.0,132.0 215.0,132.5 230.0,133.0 245.0,133.2 258.0,133.3 272.0,133.3" fill="none" stroke="#783caa" stroke-width="0.9" stroke-linejoin="round"/>
<circle cx="80.3" cy="91.6" r="1.35" fill="#783caa"/>
<circle cx="83.2" cy="68.8" r="1.35" fill="#783caa"/>
<circle cx="88.0" cy="83.8" r="1.35" fill="#783caa"/>
<circle cx="93.7" cy="92.9" r="1.35" fill="#783caa"/>
<circle cx="99.9" cy="101.5" r="1.35" fill="#783caa"/>
<circle cx="105.7" cy="108.7" r="1.35" fill="#783caa"/>
<circle cx="113.0" cy="113.0" r="1.35" fill="#783caa"/>
<circle cx="118.7" cy="113.0" r="1.35" fill="#783caa"/>
<circle cx="123.8" cy="120.3" r="1.35" fill="#783caa"/>
<circle cx="129.0" cy="121.0" r="1.35" fill="#783caa"/>
<circle cx="134.6" cy="121.7" r="1.35" fill="#783caa"/>
<circle cx="140.0" cy="124.5" r="1.35" fill="#783caa"/>
<circle cx="146.0" cy="125.5" r="1.35" fill="#783caa"/>
<circle cx="152.0" cy="127.0" r="1.35" fill="#783caa"/>
<circle cx="158.0" cy="128.0" r="1.35" fill="#783caa"/>
<circle cx="164.0" cy="129.0" r="1.35" fill="#783caa"/>
<circle cx="170.0" cy="130.0" r="1.35" fill="#783caa"/>
<circle cx="180.0" cy="130.8" r="1.35" fill="#783caa"/>
<circle cx="190.0" cy="131.4" r="1.35" fill="#783caa"/>
<circle cx="200.0" cy="132.0" r="1.35" fill="#783caa"/>
<circle cx="215.0" cy="132.5" r="1.35" fill="#783caa"/>
<circle cx="230.0" cy="133.0" r="1.35" fill="#783caa"/>
<circle cx="245.0" cy="133.2" r="1.35" fill="#783caa"/>
<circle cx="258.0" cy="133.3" r="1.35" fill="#783caa"/>
<circle cx="272.0" cy="133.3" r="1.35" fill="#783caa"/>
<polyline points="80.3,93.9 83.0,67.8 87.8,48.3 93.7,73.0 99.8,93.2 106.7,102.1 114.4,110.2 120.0,115.0 126.0,118.5 132.0,120.5 138.0,122.5 144.0,124.0 150.0,125.5 156.0,126.8 162.0,128.0 168.0,129.0 175.0,130.0 182.0,130.6 190.0,131.2 200.0,131.8 210.0,132.3 222.0,132.7 235.0,133.0 248.0,133.2 257.7,133.3" fill="none" stroke="#e66e14" stroke-width="0.9" stroke-linejoin="round"/>
<circle cx="80.3" cy="93.9" r="1.35" fill="#e66e14"/>
<circle cx="83.0" cy="67.8" r="1.35" fill="#e66e14"/>
<circle cx="87.8" cy="48.3" r="1.35" fill="#e66e14"/>
<circle cx="93.7" cy="73.0" r="1.35" fill="#e66e14"/>
<circle cx="99.8" cy="93.2" r="1.35" fill="#e66e14"/>
<circle cx="106.7" cy="102.1" r="1.35" fill="#e66e14"/>
<circle cx="114.4" cy="110.2" r="1.35" fill="#e66e14"/>
<circle cx="120.0" cy="115.0" r="1.35" fill="#e66e14"/>
<circle cx="126.0" cy="118.5" r="1.35" fill="#e66e14"/>
<circle cx="132.0" cy="120.5" r="1.35" fill="#e66e14"/>
<circle cx="138.0" cy="122.5" r="1.35" fill="#e66e14"/>
<circle cx="144.0" cy="124.0" r="1.35" fill="#e66e14"/>
<circle cx="150.0" cy="125.5" r="1.35" fill="#e66e14"/>
<circle cx="156.0" cy="126.8" r="1.35" fill="#e66e14"/>
<circle cx="162.0" cy="128.0" r="1.35" fill="#e66e14"/>
<circle cx="168.0" cy="129.0" r="1.35" fill="#e66e14"/>
<circle cx="175.0" cy="130.0" r="1.35" fill="#e66e14"/>
<circle cx="182.0" cy="130.6" r="1.35" fill="#e66e14"/>
<circle cx="190.0" cy="131.2" r="1.35" fill="#e66e14"/>
<circle cx="200.0" cy="131.8" r="1.35" fill="#e66e14"/>
<circle cx="210.0" cy="132.3" r="1.35" fill="#e66e14"/>
<circle cx="222.0" cy="132.7" r="1.35" fill="#e66e14"/>
<circle cx="235.0" cy="133.0" r="1.35" fill="#e66e14"/>
<circle cx="248.0" cy="133.2" r="1.35" fill="#e66e14"/>
<circle cx="257.7" cy="133.3" r="1.35" fill="#e66e14"/>
<polyline points="72.3,64.2 77.4,43.5 84.9,57.7 92.5,70.0 100.2,80.3 107.8,94.6 114.4,109.4 121.2,112.6 126.7,118.1 133.2,120.3 139.7,121.7 144.0,124.0 150.0,125.0 156.0,126.0 162.0,127.2 168.0,128.2 175.0,129.0 182.0,129.8 190.0,130.5 198.0,131.0 207.0,131.5 216.0,132.0 226.0,132.5 236.0,133.0 244.0,133.2" fill="none" stroke="#d22814" stroke-width="0.9" stroke-linejoin="round"/>
<circle cx="72.3" cy="64.2" r="1.35" fill="#d22814"/>
<circle cx="77.4" cy="43.5" r="1.35" fill="#d22814"/>
<circle cx="84.9" cy="57.7" r="1.35" fill="#d22814"/>
<circle cx="92.5" cy="70.0" r="1.35" fill="#d22814"/>
<circle cx="100.2" cy="80.3" r="1.35" fill="#d22814"/>
<circle cx="107.8" cy="94.6" r="1.35" fill="#d22814"/>
<circle cx="114.4" cy="109.4" r="1.35" fill="#d22814"/>
<circle cx="121.2" cy="112.6" r="1.35" fill="#d22814"/>
<circle cx="126.7" cy="118.1" r="1.35" fill="#d22814"/>
<circle cx="133.2" cy="120.3" r="1.35" fill="#d22814"/>
<circle cx="139.7" cy="121.7" r="1.35" fill="#d22814"/>
<circle cx="144.0" cy="124.0" r="1.35" fill="#d22814"/>
<circle cx="150.0" cy="125.0" r="1.35" fill="#d22814"/>
<circle cx="156.0" cy="126.0" r="1.35" fill="#d22814"/>
<circle cx="162.0" cy="127.2" r="1.35" fill="#d22814"/>
<circle cx="168.0" cy="128.2" r="1.35" fill="#d22814"/>
<circle cx="175.0" cy="129.0" r="1.35" fill="#d22814"/>
<circle cx="182.0" cy="129.8" r="1.35" fill="#d22814"/>
<circle cx="190.0" cy="130.5" r="1.35" fill="#d22814"/>
<circle cx="198.0" cy="131.0" r="1.35" fill="#d22814"/>
<circle cx="207.0" cy="131.5" r="1.35" fill="#d22814"/>
<circle cx="216.0" cy="132.0" r="1.35" fill="#d22814"/>
<circle cx="226.0" cy="132.5" r="1.35" fill="#d22814"/>
<circle cx="236.0" cy="133.0" r="1.35" fill="#d22814"/>
<circle cx="244.0" cy="133.2" r="1.35" fill="#d22814"/>
<polyline points="88.3,222.1 89.9,225.6 92.6,222.9 96.9,224.0 101.8,227.8 106.7,230.0 113.0,234.7 118.0,233.5 124.0,236.0 130.0,235.0 136.0,236.0 144.0,236.1 150.0,237.5 158.0,238.5 166.0,239.5 175.0,240.0 185.0,240.5 200.0,241.0 215.0,241.5 235.0,241.8 255.0,242.0" fill="none" stroke="#168c32" stroke-width="0.9" stroke-linejoin="round"/>
<circle cx="88.3" cy="222.1" r="1.35" fill="#168c32"/>
<circle cx="89.9" cy="225.6" r="1.35" fill="#168c32"/>
<circle cx="92.6" cy="222.9" r="1.35" fill="#168c32"/>
<circle cx="96.9" cy="224.0" r="1.35" fill="#168c32"/>
<circle cx="101.8" cy="227.8" r="1.35" fill="#168c32"/>
<circle cx="106.7" cy="230.0" r="1.35" fill="#168c32"/>
<circle cx="113.0" cy="234.7" r="1.35" fill="#168c32"/>
<circle cx="118.0" cy="233.5" r="1.35" fill="#168c32"/>
<circle cx="124.0" cy="236.0" r="1.35" fill="#168c32"/>
<circle cx="130.0" cy="235.0" r="1.35" fill="#168c32"/>
<circle cx="136.0" cy="236.0" r="1.35" fill="#168c32"/>
<circle cx="144.0" cy="236.1" r="1.35" fill="#168c32"/>
<circle cx="150.0" cy="237.5" r="1.35" fill="#168c32"/>
<circle cx="158.0" cy="238.5" r="1.35" fill="#168c32"/>
<circle cx="166.0" cy="239.5" r="1.35" fill="#168c32"/>
<circle cx="175.0" cy="240.0" r="1.35" fill="#168c32"/>
<circle cx="185.0" cy="240.5" r="1.35" fill="#168c32"/>
<circle cx="200.0" cy="241.0" r="1.35" fill="#168c32"/>
<circle cx="215.0" cy="241.5" r="1.35" fill="#168c32"/>
<circle cx="235.0" cy="241.8" r="1.35" fill="#168c32"/>
<circle cx="255.0" cy="242.0" r="1.35" fill="#168c32"/>
<polyline points="88.8,211.3 89.9,216.7 93.1,220.2 98.0,225.6 102.3,227.8 107.2,231.0 111.5,233.7 117.0,233.0 123.0,235.0 130.0,237.0 139.0,239.8 146.0,238.5 154.0,239.0 162.0,239.8 172.0,240.5 185.0,241.0 200.0,241.3 220.0,241.6 240.0,241.8 262.0,242.0" fill="none" stroke="#111111" stroke-width="0.9" stroke-linejoin="round"/>
<circle cx="88.8" cy="211.3" r="1.35" fill="#111111"/>
<circle cx="89.9" cy="216.7" r="1.35" fill="#111111"/>
<circle cx="93.1" cy="220.2" r="1.35" fill="#111111"/>
<circle cx="98.0" cy="225.6" r="1.35" fill="#111111"/>
<circle cx="102.3" cy="227.8" r="1.35" fill="#111111"/>
<circle cx="107.2" cy="231.0" r="1.35" fill="#111111"/>
<circle cx="111.5" cy="233.7" r="1.35" fill="#111111"/>
<circle cx="117.0" cy="233.0" r="1.35" fill="#111111"/>
<circle cx="123.0" cy="235.0" r="1.35" fill="#111111"/>
<circle cx="130.0" cy="237.0" r="1.35" fill="#111111"/>
<circle cx="139.0" cy="239.8" r="1.35" fill="#111111"/>
<circle cx="146.0" cy="238.5" r="1.35" fill="#111111"/>
<circle cx="154.0" cy="239.0" r="1.35" fill="#111111"/>
<circle cx="162.0" cy="239.8" r="1.35" fill="#111111"/>
<circle cx="172.0" cy="240.5" r="1.35" fill="#111111"/>
<circle cx="185.0" cy="241.0" r="1.35" fill="#111111"/>
<circle cx="200.0" cy="241.3" r="1.35" fill="#111111"/>
<circle cx="220.0" cy="241.6" r="1.35" fill="#111111"/>
<circle cx="240.0" cy="241.8" r="1.35" fill="#111111"/>
<circle cx="262.0" cy="242.0" r="1.35" fill="#111111"/>
<polyline points="88.3,217.8 90.4,220.7 93.7,221.3 98.0,222.1 102.3,222.3 107.8,228.3 112.6,230.5 118.0,231.0 124.0,232.0 130.0,234.0 136.0,235.5 142.0,236.5 150.0,237.2 158.0,238.0 165.0,239.0 172.0,239.5 182.0,240.0 192.0,240.3 205.0,240.8 220.0,241.0 235.0,241.3 250.0,241.5 262.0,241.5 272.0,242.0" fill="none" stroke="#0a6ed2" stroke-width="0.9" stroke-linejoin="round"/>
<circle cx="88.3" cy="217.8" r="1.35" fill="#0a6ed2"/>
<circle cx="90.4" cy="220.7" r="1.35" fill="#0a6ed2"/>
<circle cx="93.7" cy="221.3" r="1.35" fill="#0a6ed2"/>
<circle cx="98.0" cy="222.1" r="1.35" fill="#0a6ed2"/>
<circle cx="102.3" cy="222.3" r="1.35" fill="#0a6ed2"/>
<circle cx="107.8" cy="228.3" r="1.35" fill="#0a6ed2"/>
<circle cx="112.6" cy="230.5" r="1.35" fill="#0a6ed2"/>
<circle cx="118.0" cy="231.0" r="1.35" fill="#0a6ed2"/>
<circle cx="124.0" cy="232.0" r="1.35" fill="#0a6ed2"/>
<circle cx="130.0" cy="234.0" r="1.35" fill="#0a6ed2"/>
<circle cx="136.0" cy="235.5" r="1.35" fill="#0a6ed2"/>
<circle cx="142.0" cy="236.5" r="1.35" fill="#0a6ed2"/>
<circle cx="150.0" cy="237.2" r="1.35" fill="#0a6ed2"/>
<circle cx="158.0" cy="238.0" r="1.35" fill="#0a6ed2"/>
<circle cx="165.0" cy="239.0" r="1.35" fill="#0a6ed2"/>
<circle cx="172.0" cy="239.5" r="1.35" fill="#0a6ed2"/>
<circle cx="182.0" cy="240.0" r="1.35" fill="#0a6ed2"/>
<circle cx="192.0" cy="240.3" r="1.35" fill="#0a6ed2"/>
<circle cx="205.0" cy="240.8" r="1.35" fill="#0a6ed2"/>
<circle cx="220.0" cy="241.0" r="1.35" fill="#0a6ed2"/>
<circle cx="235.0" cy="241.3" r="1.35" fill="#0a6ed2"/>
<circle cx="250.0" cy="241.5" r="1.35" fill="#0a6ed2"/>
<circle cx="262.0" cy="241.5" r="1.35" fill="#0a6ed2"/>
<circle cx="272.0" cy="242.0" r="1.35" fill="#0a6ed2"/>
<polyline points="79.9,219.6 82.8,202.0 87.8,179.4 94.0,193.8 100.1,211.3 106.0,218.0 113.0,224.6 119.0,226.5 125.0,230.3 131.0,232.0 137.0,234.5 144.0,236.0 152.0,237.5 160.0,238.5 170.0,239.5 180.0,240.0 192.0,240.5 205.0,240.8 220.0,241.2 235.0,241.5 250.0,241.8 265.0,242.0" fill="none" stroke="#783caa" stroke-width="0.9" stroke-linejoin="round"/>
<circle cx="79.9" cy="219.6" r="1.35" fill="#783caa"/>
<circle cx="82.8" cy="202.0" r="1.35" fill="#783caa"/>
<circle cx="87.8" cy="179.4" r="1.35" fill="#783caa"/>
<circle cx="94.0" cy="193.8" r="1.35" fill="#783caa"/>
<circle cx="100.1" cy="211.3" r="1.35" fill="#783caa"/>
<circle cx="106.0" cy="218.0" r="1.35" fill="#783caa"/>
<circle cx="113.0" cy="224.6" r="1.35" fill="#783caa"/>
<circle cx="119.0" cy="226.5" r="1.35" fill="#783caa"/>
<circle cx="125.0" cy="230.3" r="1.35" fill="#783caa"/>
<circle cx="131.0" cy="232.0" r="1.35" fill="#783caa"/>
<circle cx="137.0" cy="234.5" r="1.35" fill="#783caa"/>
<circle cx="144.0" cy="236.0" r="1.35" fill="#783caa"/>
<circle cx="152.0" cy="237.5" r="1.35" fill="#783caa"/>
<circle cx="160.0" cy="238.5" r="1.35" fill="#783caa"/>
<circle cx="170.0" cy="239.5" r="1.35" fill="#783caa"/>
<circle cx="180.0" cy="240.0" r="1.35" fill="#783caa"/>
<circle cx="192.0" cy="240.5" r="1.35" fill="#783caa"/>
<circle cx="205.0" cy="240.8" r="1.35" fill="#783caa"/>
<circle cx="220.0" cy="241.2" r="1.35" fill="#783caa"/>
<circle cx="235.0" cy="241.5" r="1.35" fill="#783caa"/>
<circle cx="250.0" cy="241.8" r="1.35" fill="#783caa"/>
<circle cx="265.0" cy="242.0" r="1.35" fill="#783caa"/>
<polyline points="79.9,209.3 82.8,178.3 87.8,178.0 94.0,187.3 99.8,207.5 106.1,223.4 113.0,227.5 119.0,229.5 124.0,231.0 130.0,234.4 136.0,235.0 142.0,236.5 148.0,237.0 154.0,238.0 160.0,238.6 168.0,239.0 176.0,239.5 186.6,240.0" fill="none" stroke="#e66e14" stroke-width="0.9" stroke-linejoin="round"/>
<circle cx="79.9" cy="209.3" r="1.35" fill="#e66e14"/>
<circle cx="82.8" cy="178.3" r="1.35" fill="#e66e14"/>
<circle cx="87.8" cy="178.0" r="1.35" fill="#e66e14"/>
<circle cx="94.0" cy="187.3" r="1.35" fill="#e66e14"/>
<circle cx="99.8" cy="207.5" r="1.35" fill="#e66e14"/>
<circle cx="106.1" cy="223.4" r="1.35" fill="#e66e14"/>
<circle cx="113.0" cy="227.5" r="1.35" fill="#e66e14"/>
<circle cx="119.0" cy="229.5" r="1.35" fill="#e66e14"/>
<circle cx="124.0" cy="231.0" r="1.35" fill="#e66e14"/>
<circle cx="130.0" cy="234.4" r="1.35" fill="#e66e14"/>
<circle cx="136.0" cy="235.0" r="1.35" fill="#e66e14"/>
<circle cx="142.0" cy="236.5" r="1.35" fill="#e66e14"/>
<circle cx="148.0" cy="237.0" r="1.35" fill="#e66e14"/>
<circle cx="154.0" cy="238.0" r="1.35" fill="#e66e14"/>
<circle cx="160.0" cy="238.6" r="1.35" fill="#e66e14"/>
<circle cx="168.0" cy="239.0" r="1.35" fill="#e66e14"/>
<circle cx="176.0" cy="239.5" r="1.35" fill="#e66e14"/>
<circle cx="186.6" cy="240.0" r="1.35" fill="#e66e14"/>
<polyline points="72.3,175.3 77.2,169.6 84.8,190.8 92.1,204.5 100.1,210.8 107.2,221.3 112.1,225.0 118.0,228.0 124.0,231.0 130.0,233.5 136.0,235.0 142.0,236.5 150.0,237.5 158.0,238.5 166.0,239.3 175.0,240.0" fill="none" stroke="#d22814" stroke-width="0.9" stroke-linejoin="round"/>
<circle cx="72.3" cy="175.3" r="1.35" fill="#d22814"/>
<circle cx="77.2" cy="169.6" r="1.35" fill="#d22814"/>
<circle cx="84.8" cy="190.8" r="1.35" fill="#d22814"/>
<circle cx="92.1" cy="204.5" r="1.35" fill="#d22814"/>
<circle cx="100.1" cy="210.8" r="1.35" fill="#d22814"/>
<circle cx="107.2" cy="221.3" r="1.35" fill="#d22814"/>
<circle cx="112.1" cy="225.0" r="1.35" fill="#d22814"/>
<circle cx="118.0" cy="228.0" r="1.35" fill="#d22814"/>
<circle cx="124.0" cy="231.0" r="1.35" fill="#d22814"/>
<circle cx="130.0" cy="233.5" r="1.35" fill="#d22814"/>
<circle cx="136.0" cy="235.0" r="1.35" fill="#d22814"/>
<circle cx="142.0" cy="236.5" r="1.35" fill="#d22814"/>
<circle cx="150.0" cy="237.5" r="1.35" fill="#d22814"/>
<circle cx="158.0" cy="238.5" r="1.35" fill="#d22814"/>
<circle cx="166.0" cy="239.3" r="1.35" fill="#d22814"/>
<circle cx="175.0" cy="240.0" r="1.35" fill="#d22814"/>
<defs><clipPath id="cc"><rect x="353.8" y="30.45" width="244.49999999999994" height="212.55"/></clipPath></defs>
<g clip-path="url(#cc)">
<circle cx="406.8" cy="93.9" r="21.30" fill="none" stroke="#f1f1f1" stroke-width="0.7"/>
<circle cx="406.8" cy="93.9" r="42.60" fill="none" stroke="#f1f1f1" stroke-width="0.7"/>
<circle cx="406.8" cy="93.9" r="85.20" fill="none" stroke="#f1f1f1" stroke-width="0.7"/>
<circle cx="406.8" cy="93.9" r="106.50" fill="none" stroke="#f1f1f1" stroke-width="0.7"/>
<circle cx="406.8" cy="93.9" r="127.80" fill="none" stroke="#f1f1f1" stroke-width="0.7"/>
<circle cx="406.8" cy="93.9" r="149.10" fill="none" stroke="#f1f1f1" stroke-width="0.7"/>
<circle cx="406.8" cy="93.9" r="170.40" fill="none" stroke="#f1f1f1" stroke-width="0.7"/>
<circle cx="406.8" cy="93.9" r="191.70" fill="none" stroke="#f1f1f1" stroke-width="0.7"/>
<circle cx="406.8" cy="93.9" r="213.00" fill="none" stroke="#f1f1f1" stroke-width="0.7"/>
<circle cx="406.8" cy="93.9" r="234.30" fill="none" stroke="#f1f1f1" stroke-width="0.7"/>
<polyline points="342.37,93.90 342.38,95.02 342.41,96.15 342.46,97.27 342.52,98.39 342.61,99.52 342.72,100.64 342.85,101.75 342.99,102.87 343.16,103.98 343.35,105.09 343.55,106.19 343.78,107.30 344.02,108.39 344.28,109.49 344.56,110.58 344.86,111.66 345.18,112.74 345.52,113.81 345.88,114.88 346.25,115.94 346.65,116.99 347.06,118.04 347.49,119.08 347.94,120.11 348.40,121.13 348.89,122.15 349.39,123.15 349.91,124.15 350.45,125.14 351.00,126.12 351.57,127.09 352.16,128.04 352.76,128.99 353.38,129.93 354.02,130.86 354.67,131.77 355.34,132.68 356.03,133.57 356.73,134.45 357.44,135.32 358.17,136.17 358.92,137.01 359.68,137.84 360.45,138.66 361.24,139.46 362.04,140.25 362.86,141.02 363.69,141.78 364.53,142.53 365.38,143.26 366.25,143.97 367.13,144.67 368.02,145.36 368.93,146.03 369.84,146.68 370.77,147.32 371.71,147.94 372.66,148.54 373.61,149.13 374.58,149.70 375.56,150.25 376.55,150.79 377.55,151.31 378.55,151.81 379.57,152.30 380.59,152.76 381.62,153.21 382.66,153.64 383.71,154.05 384.76,154.45 385.82,154.82 386.89,155.18 387.96,155.52 389.04,155.84 390.12,156.14 391.21,156.42 392.31,156.68 393.40,156.92 394.51,157.15 395.61,157.35 396.72,157.54 397.83,157.71 398.95,157.85 400.06,157.98 401.18,158.09 402.31,158.18 403.43,158.24 404.55,158.29 405.68,158.32 406.80,158.33 407.92,158.32 409.05,158.29 410.17,158.24 411.29,158.18 412.42,158.09 413.54,157.98 414.65,157.85 415.77,157.71 416.88,157.54 417.99,157.35 419.09,157.15 420.20,156.92 421.29,156.68 422.39,156.42 423.48,156.14 424.56,155.84 425.64,155.52 426.71,155.18 427.78,154.82 428.84,154.45 429.89,154.05 430.94,153.64 431.98,153.21 433.01,152.76 434.03,152.30 435.05,151.81 436.05,151.31 437.05,150.79 438.04,150.25 439.02,149.70 439.99,149.13 440.94,148.54 441.89,147.94 442.83,147.32 443.76,146.68 444.67,146.03 445.58,145.36 446.47,144.67 447.35,143.97 448.22,143.26 449.07,142.53 449.91,141.78 450.74,141.02 451.56,140.25 452.36,139.46 453.15,138.66 453.92,137.84 454.68,137.01 455.43,136.17 456.16,135.32 456.87,134.45 457.57,133.57 458.26,132.68 458.93,131.77 459.58,130.86 460.22,129.93 460.84,128.99 461.44,128.04 462.03,127.09 462.60,126.12 463.15,125.14 463.69,124.15 464.21,123.15 464.71,122.15 465.20,121.13 465.66,120.11 466.11,119.08 466.54,118.04 466.95,116.99 467.35,115.94 467.72,114.88 468.08,113.81 468.42,112.74 468.74,111.66 469.04,110.58 469.32,109.49 469.58,108.39 469.82,107.30 470.05,106.19 470.25,105.09 470.44,103.98 470.61,102.87 470.75,101.75 470.88,100.64 470.99,99.52 471.08,98.39 471.14,97.27 471.19,96.15 471.22,95.02 471.23,93.90 471.22,92.78 471.19,91.65 471.14,90.53 471.08,89.41 470.99,88.28 470.88,87.16 470.75,86.05 470.61,84.93 470.44,83.82 470.25,82.71 470.05,81.61 469.82,80.50 469.58,79.41 469.32,78.31 469.04,77.22 468.74,76.14 468.42,75.06 468.08,73.99 467.72,72.92 467.35,71.86 466.95,70.81 466.54,69.76 466.11,68.72 465.66,67.69 465.20,66.67 464.71,65.65 464.21,64.65 463.69,63.65 463.15,62.66 462.60,61.68 462.03,60.71 461.44,59.76 460.84,58.81 460.22,57.87 459.58,56.94 458.93,56.03 458.26,55.12 457.57,54.23 456.87,53.35 456.16,52.48 455.43,51.63 454.68,50.79 453.92,49.96 453.15,49.14 452.36,48.34 451.56,47.55 450.74,46.78 449.91,46.02 449.07,45.27 448.22,44.54 447.35,43.83 446.47,43.13 445.58,42.44 444.67,41.77 443.76,41.12 442.83,40.48 441.89,39.86 440.94,39.26 439.99,38.67 439.02,38.10 438.04,37.55 437.05,37.01 436.05,36.49 435.05,35.99 434.03,35.50 433.01,35.04 431.98,34.59 430.94,34.16 429.89,33.75 428.84,33.35 427.78,32.98 426.71,32.62 425.64,32.28 424.56,31.96 423.48,31.66 422.39,31.38 421.29,31.12 420.20,30.88 419.09,30.65 417.99,30.45" fill="none" stroke="#8a8a8a" stroke-width="0.9"/>
<text x="449.80" y="83.00" font-size="7.4" text-anchor="start" textLength="17.69" lengthAdjust="spacingAndGlyphs" fill="#ababab" stroke="#ababab" stroke-width="0.12" style="">0.2 au</text>
<text x="490.80" y="72.00" font-size="7.4" text-anchor="start" textLength="17.69" lengthAdjust="spacingAndGlyphs" fill="#ababab" stroke="#ababab" stroke-width="0.12" style="">0.4 au</text>
<text x="532.00" y="61.20" font-size="7.4" text-anchor="start" textLength="17.69" lengthAdjust="spacingAndGlyphs" fill="#ababab" stroke="#ababab" stroke-width="0.12" style="">0.6 au</text>
<text x="573.20" y="50.40" font-size="7.4" text-anchor="start" textLength="17.69" lengthAdjust="spacingAndGlyphs" fill="#ababab" stroke="#ababab" stroke-width="0.12" style="">0.8 au</text>
<polyline points="498.10,234.49 499.95,234.64 501.81,234.76 503.67,234.85 505.53,234.91 507.40,234.94 509.27,234.94 511.14,234.91 513.01,234.84 514.87,234.75 516.74,234.62 518.60,234.45 520.46,234.26 522.31,234.03 524.16,233.76 525.99,233.46 527.82,233.12 529.64,232.75 531.45,232.34 533.25,231.89 535.03,231.41 536.80,230.89 538.55,230.33 540.28,229.74 542.00,229.10 543.70,228.43 545.38,227.72 547.03,226.97 548.66,226.19 550.27,225.37 551.85,224.51 553.41,223.61 554.94,222.68 556.44,221.70 557.91,220.69 559.35,219.65 560.75,218.57 562.13,217.45 563.47,216.30 564.77,215.11 566.04,213.89 567.27,212.64 568.46,211.35 569.62,210.04 570.73,208.69 571.80,207.30 572.84,205.89 573.83,204.45 574.78,202.99 575.69,201.49 576.55,199.97 577.37,198.42 578.14,196.85 578.87,195.26 579.56,193.64 580.20,192.00 580.79,190.35 581.34,188.67 581.85,186.97 582.31,185.26 582.72,183.53 583.08,181.79 583.40,180.04 583.68,178.27 583.91,176.49 584.09,174.70 584.24,172.90 584.33,171.09 584.38,169.28 584.39,167.46 584.36,165.64 584.28,163.81 584.16,161.98 584.00,160.15 583.80,158.32 583.55,156.49 583.27,154.66 582.95,152.84 582.59,151.02 582.20,149.20 581.76,147.39 581.30,145.59 580.79,143.79 580.26,142.00 579.68,140.22 579.08,138.45 578.45,136.70 577.78,134.95 577.09,133.21 576.36,131.49 575.61,129.78" fill="none" stroke="#5a5a5a" stroke-width="0.9"/>
<g fill="none" stroke-linecap="round" stroke-linejoin="round">
<polyline points="575.6,129.8 574.8,128.1 574.0,126.4 573.2,124.7 572.3,123.1 571.5,121.5 570.6,119.8 569.6,118.2 568.7,116.7 567.7,115.1 566.7,113.5 565.7,112.0 564.7,110.5 563.7,109.0 562.6,107.5 561.6,106.1 560.5,104.6 559.4,103.2 558.3,101.8 557.2,100.5 556.1,99.1 554.9,97.8 553.8,96.5 552.6,95.2 551.4,93.9 550.3,92.6 549.1,91.4 547.9,90.2 546.7,89.0 545.5,87.8 544.3,86.7 543.1,85.6 541.9,84.5 540.7,83.4 539.5,82.3 538.3,81.2 537.0,80.2 535.8,79.2 534.6,78.2 533.4,77.2 532.2,76.3 530.9,75.3 529.7,74.4 528.5,73.5 527.3,72.7 526.1,71.8 524.9,70.9 523.7,70.1 522.5,69.3 521.3,68.5 520.1,67.8 518.9,67.0 517.7,66.3 516.5,65.5 515.3,64.8 514.1,64.1 513.0,63.5 511.8,62.8 510.6,62.2 509.5,61.5 508.3,60.9 507.2,60.3 506.0,59.7 504.9,59.2 503.8,58.6 502.7,58.1 501.5,57.5 500.4,57.0 499.3,56.5 498.2,56.0 497.2,55.5 496.1,55.1 495.0,54.6 493.9,54.2 492.9,53.8 491.8,53.3 490.8,52.9 489.7,52.6 488.7,52.2 487.7,51.8 486.7,51.4 485.6,51.1 484.6,50.8 483.6,50.4 482.7,50.1 481.7,49.8 480.7,49.5 479.7,49.2 478.8,48.9 477.8,48.7 476.9,48.4 475.9,48.1 475.0,47.9 474.1,47.7 473.2,47.4 472.3,47.2 471.4,47.0 470.5,46.8 469.6,46.6 468.7,46.4 467.8,46.2 467.0,46.1 466.1,45.9 465.2,45.7 464.4,45.6 463.6,45.4 462.7,45.3 461.9,45.2 461.1,45.0 460.3,44.9 459.5,44.8 458.7,44.7 457.9,44.6 457.1,44.5 456.3,44.4 455.5,44.3 454.8,44.2 454.0,44.2 453.2,44.1 452.5,44.0 451.8,44.0 451.0,43.9 450.3,43.9 449.6,43.8 448.8,43.8" stroke="#12126c" stroke-width="0.95"/>
<polyline points="448.8,43.8 448.1,43.8" stroke="#11116d" stroke-width="0.95"/>
<polyline points="448.1,43.8 447.4,43.7" stroke="#11116f" stroke-width="0.95"/>
<polyline points="447.4,43.7 446.7,43.7" stroke="#101071" stroke-width="0.95"/>
<polyline points="446.7,43.7 446.0,43.7" stroke="#101073" stroke-width="0.95"/>
<polyline points="446.0,43.7 445.3,43.7" stroke="#0f0f76" stroke-width="0.95"/>
<polyline points="445.3,43.7 444.7,43.7" stroke="#0f0f78" stroke-width="0.95"/>
<polyline points="444.7,43.7 444.0,43.6" stroke="#0e0e7a" stroke-width="0.95"/>
<polyline points="444.0,43.6 443.3,43.6" stroke="#0e0e7c" stroke-width="0.95"/>
<polyline points="443.3,43.6 442.6,43.6" stroke="#0d0d7e" stroke-width="0.95"/>
<polyline points="442.6,43.6 442.0,43.6" stroke="#0d0d81" stroke-width="0.95"/>
<polyline points="442.0,43.6 441.3,43.7" stroke="#0c0c83" stroke-width="0.95"/>
<polyline points="441.3,43.7 440.7,43.7" stroke="#0c0c85" stroke-width="0.96"/>
<polyline points="440.7,43.7 440.0,43.7" stroke="#0b0b87" stroke-width="0.96"/>
<polyline points="440.0,43.7 439.4,43.7" stroke="#0b0b8a" stroke-width="0.96"/>
<polyline points="439.4,43.7 438.8,43.7" stroke="#0a0a8c" stroke-width="0.96"/>
<polyline points="438.8,43.7 438.1,43.7" stroke="#0a0a8e" stroke-width="0.96"/>
<polyline points="438.1,43.7 437.5,43.8" stroke="#090990" stroke-width="0.96"/>
<polyline points="437.5,43.8 436.9,43.8" stroke="#090992" stroke-width="0.96"/>
<polyline points="436.9,43.8 436.3,43.8" stroke="#080895" stroke-width="0.96"/>
<polyline points="436.3,43.8 435.7,43.9" stroke="#080897" stroke-width="0.96"/>
<polyline points="435.7,43.9 435.1,43.9" stroke="#070799" stroke-width="0.96"/>
<polyline points="435.1,43.9 434.5,44.0" stroke="#07079b" stroke-width="0.96"/>
<polyline points="434.5,44.0 433.9,44.0" stroke="#06069e" stroke-width="0.96"/>
<polyline points="433.9,44.0 433.3,44.1" stroke="#0606a0" stroke-width="0.97"/>
<polyline points="433.3,44.1 432.7,44.1" stroke="#0505a4" stroke-width="0.97"/>
<polyline points="432.7,44.1 432.1,44.2" stroke="#0404a9" stroke-width="0.97"/>
<polyline points="432.1,44.2 431.6,44.2" stroke="#0202ae" stroke-width="0.97"/>
<polyline points="431.6,44.2 431.0,44.3" stroke="#0101b4" stroke-width="0.98"/>
<polyline points="431.0,44.3 430.4,44.4" stroke="#0000b9" stroke-width="0.98"/>
<polyline points="430.4,44.4 429.9,44.4" stroke="#0000be" stroke-width="0.98"/>
<polyline points="429.9,44.4 429.3,44.5" stroke="#0000c2" stroke-width="0.99"/>
<polyline points="429.3,44.5 428.8,44.6" stroke="#0000c6" stroke-width="0.99"/>
<polyline points="428.8,44.6 428.2,44.7" stroke="#0000ca" stroke-width="0.99"/>
<polyline points="428.2,44.7 427.7,44.7" stroke="#0000cf" stroke-width="1.0"/>
<polyline points="427.7,44.7 427.1,44.8" stroke="#0000d3" stroke-width="1.0"/>
<polyline points="427.1,44.8 426.6,44.9" stroke="#0000d7" stroke-width="1.01"/>
<polyline points="426.6,44.9 426.1,45.0" stroke="#0000db" stroke-width="1.01"/>
<polyline points="426.1,45.0 425.5,45.1" stroke="#0000df" stroke-width="1.01"/>
<polyline points="425.5,45.1 425.0,45.2" stroke="#0000e3" stroke-width="1.02"/>
<polyline points="425.0,45.2 424.5,45.3" stroke="#0000e7" stroke-width="1.02"/>
<polyline points="424.5,45.3 424.0,45.4" stroke="#0000eb" stroke-width="1.03"/>
<polyline points="424.0,45.4 423.5,45.5" stroke="#0000ef" stroke-width="1.03"/>
<polyline points="423.5,45.5 423.0,45.6" stroke="#0000f3" stroke-width="1.04"/>
<polyline points="423.0,45.6 422.5,45.7" stroke="#0000f7" stroke-width="1.04"/>
<polyline points="422.5,45.7 422.0,45.8" stroke="#0000fb" stroke-width="1.05"/>
<polyline points="422.0,45.8 421.5,45.9" stroke="#0000fe" stroke-width="1.05"/>
<polyline points="421.5,45.9 421.0,46.0" stroke="#0002ff" stroke-width="1.06"/>
<polyline points="421.0,46.0 420.5,46.1" stroke="#0005ff" stroke-width="1.06"/>
<polyline points="420.5,46.1 420.0,46.2" stroke="#0008ff" stroke-width="1.06"/>
<polyline points="420.0,46.2 419.6,46.3" stroke="#000bff" stroke-width="1.07"/>
<polyline points="419.6,46.3 419.1,46.4" stroke="#000eff" stroke-width="1.07"/>
<polyline points="419.1,46.4 418.6,46.5" stroke="#0011ff" stroke-width="1.08"/>
<polyline points="418.6,46.5 418.1,46.7" stroke="#0014ff" stroke-width="1.08"/>
<polyline points="418.1,46.7 417.7,46.8" stroke="#0017ff" stroke-width="1.08"/>
<polyline points="417.7,46.8 417.2,46.9" stroke="#001bff" stroke-width="1.09"/>
<polyline points="417.2,46.9 416.8,47.0" stroke="#001eff" stroke-width="1.09"/>
<polyline points="416.8,47.0 416.3,47.2" stroke="#0021ff" stroke-width="1.1"/>
<polyline points="416.3,47.2 415.9,47.3" stroke="#0024ff" stroke-width="1.1"/>
<polyline points="415.9,47.3 415.4,47.4" stroke="#0027ff" stroke-width="1.11"/>
<polyline points="415.4,47.4 415.0,47.5" stroke="#002aff" stroke-width="1.11"/>
<polyline points="415.0,47.5 414.5,47.7" stroke="#002dff" stroke-width="1.12"/>
<polyline points="414.5,47.7 414.1,47.8" stroke="#0030ff" stroke-width="1.12"/>
<polyline points="414.1,47.8 413.7,47.9" stroke="#0033ff" stroke-width="1.13"/>
<polyline points="413.7,47.9 413.2,48.1" stroke="#0036ff" stroke-width="1.13"/>
<polyline points="413.2,48.1 412.8,48.2" stroke="#003bff" stroke-width="1.14"/>
<polyline points="412.8,48.2 412.4,48.4" stroke="#0041ff" stroke-width="1.15"/>
<polyline points="412.4,48.4 412.0,48.5" stroke="#0048ff" stroke-width="1.16"/>
<polyline points="412.0,48.5 411.6,48.6" stroke="#004eff" stroke-width="1.17"/>
<polyline points="411.6,48.6 411.1,48.8" stroke="#0054ff" stroke-width="1.18"/>
<polyline points="411.1,48.8 410.7,48.9" stroke="#005bff" stroke-width="1.19"/>
<polyline points="410.7,48.9 410.3,49.1" stroke="#0061ff" stroke-width="1.2"/>
<polyline points="410.3,49.1 409.9,49.2" stroke="#0067ff" stroke-width="1.22"/>
<polyline points="409.9,49.2 409.5,49.4" stroke="#006eff" stroke-width="1.23"/>
<polyline points="409.5,49.4 409.1,49.5" stroke="#0074ff" stroke-width="1.24"/>
<polyline points="409.1,49.5 408.7,49.7" stroke="#007bff" stroke-width="1.25"/>
<polyline points="408.7,49.7 408.3,49.8" stroke="#0081ff" stroke-width="1.26"/>
<polyline points="408.3,49.8 407.9,50.0" stroke="#0087ff" stroke-width="1.28"/>
<polyline points="407.9,50.0 407.6,50.2" stroke="#008eff" stroke-width="1.29"/>
<polyline points="407.6,50.2 407.2,50.3" stroke="#0094ff" stroke-width="1.3"/>
<polyline points="407.2,50.3 406.8,50.5" stroke="#009aff" stroke-width="1.32"/>
<polyline points="406.8,50.5 406.4,50.6" stroke="#00a0ff" stroke-width="1.33"/>
<polyline points="406.4,50.6 406.0,50.8" stroke="#00a5ff" stroke-width="1.34"/>
<polyline points="406.0,50.8 405.7,51.0" stroke="#00aaff" stroke-width="1.35"/>
<polyline points="405.7,51.0 405.3,51.1" stroke="#00afff" stroke-width="1.36"/>
<polyline points="405.3,51.1 404.9,51.3" stroke="#00b5ff" stroke-width="1.37"/>
<polyline points="404.9,51.3 404.6,51.5" stroke="#00baff" stroke-width="1.38"/>
<polyline points="404.6,51.5 404.2,51.6" stroke="#00bfff" stroke-width="1.39"/>
<polyline points="404.2,51.6 403.9,51.8" stroke="#00c4ff" stroke-width="1.4"/>
<polyline points="403.9,51.8 403.5,52.0" stroke="#00c9ff" stroke-width="1.42"/>
<polyline points="403.5,52.0 403.1,52.1" stroke="#00ceff" stroke-width="1.43"/>
<polyline points="403.1,52.1 402.8,52.3" stroke="#00d3ff" stroke-width="1.44"/>
<polyline points="402.8,52.3 402.4,52.5" stroke="#00d8ff" stroke-width="1.45"/>
<polyline points="402.4,52.5 402.1,52.6" stroke="#00dbff" stroke-width="1.46"/>
<polyline points="402.1,52.6 401.8,52.8" stroke="#00dcff" stroke-width="1.46"/>
<polyline points="401.8,52.8 401.4,53.0" stroke="#00deff" stroke-width="1.46"/>
<polyline points="401.4,53.0 401.1,53.2" stroke="#00dfff" stroke-width="1.47"/>
<polyline points="401.1,53.2 400.7,53.4" stroke="#00e0ff" stroke-width="1.47"/>
<polyline points="400.7,53.4 400.4,53.5" stroke="#00e1ff" stroke-width="1.47"/>
<polyline points="400.4,53.5 400.1,53.7" stroke="#00e2ff" stroke-width="1.47"/>
<polyline points="400.1,53.7 399.7,53.9" stroke="#00e3ff" stroke-width="1.48"/>
<polyline points="399.7,53.9 399.4,54.1" stroke="#00e4ff" stroke-width="1.48"/>
<polyline points="399.4,54.1 399.1,54.3" stroke="#00e6ff" stroke-width="1.48"/>
<polyline points="399.1,54.3 398.8,54.4" stroke="#00e7ff" stroke-width="1.49"/>
<polyline points="398.8,54.4 398.5,54.6" stroke="#00e8ff" stroke-width="1.49"/>
<polyline points="398.5,54.6 398.1,54.8" stroke="#00e9ff" stroke-width="1.49"/>
<polyline points="398.1,54.8 397.8,55.0" stroke="#00eaff" stroke-width="1.49"/>
<polyline points="397.8,55.0 397.5,55.2" stroke="#00ebff" stroke-width="1.5"/>
<polyline points="397.5,55.2 397.2,55.4" stroke="#00ecff" stroke-width="1.5"/>
<polyline points="397.2,55.4 396.9,55.6" stroke="#00eeff" stroke-width="1.5"/>
<polyline points="396.9,55.6 396.6,55.8" stroke="#00efff" stroke-width="1.5"/>
<polyline points="396.6,55.8 396.3,55.9" stroke="#00eeff" stroke-width="1.5"/>
<polyline points="396.3,55.9 396.0,56.1" stroke="#00ecff" stroke-width="1.5"/>
<polyline points="396.0,56.1 395.7,56.3" stroke="#00eaff" stroke-width="1.49"/>
<polyline points="395.7,56.3 395.4,56.5" stroke="#00e8ff" stroke-width="1.49"/>
<polyline points="395.4,56.5 395.1,56.7" stroke="#00e6ff" stroke-width="1.48"/>
<polyline points="395.1,56.7 394.8,56.9" stroke="#00e4ff" stroke-width="1.48"/>
<polyline points="394.8,56.9 394.5,57.1" stroke="#00e2ff" stroke-width="1.47"/>
<polyline points="394.5,57.1 394.2,57.3" stroke="#00e0ff" stroke-width="1.47"/>
<polyline points="394.2,57.3 393.9,57.5" stroke="#00deff" stroke-width="1.46"/>
<polyline points="393.9,57.5 393.6,57.7" stroke="#00dcff" stroke-width="1.46"/>
<polyline points="393.6,57.7 393.3,57.9" stroke="#00daff" stroke-width="1.45"/>
<polyline points="393.3,57.9 393.1,58.1" stroke="#00d8ff" stroke-width="1.45"/>
<polyline points="393.1,58.1 392.8,58.3" stroke="#00d6ff" stroke-width="1.45"/>
<polyline points="392.8,58.3 392.5,58.5" stroke="#00d4ff" stroke-width="1.44"/>
<polyline points="392.5,58.5 392.2,58.7" stroke="#00d2ff" stroke-width="1.44"/>
<polyline points="392.2,58.7 392.0,58.9" stroke="#00d0ff" stroke-width="1.43"/>
<polyline points="392.0,58.9 391.7,59.1" stroke="#00ceff" stroke-width="1.43"/>
<polyline points="391.7,59.1 391.4,59.3" stroke="#00ccff" stroke-width="1.42"/>
<polyline points="391.4,59.3 391.1,59.5" stroke="#00c9ff" stroke-width="1.42"/>
<polyline points="391.1,59.5 390.9,59.7" stroke="#00c7ff" stroke-width="1.41"/>
<polyline points="390.9,59.7 390.6,59.9" stroke="#00c6ff" stroke-width="1.41"/>
<polyline points="390.6,59.9 390.3,60.2" stroke="#00c4ff" stroke-width="1.41"/>
<polyline points="390.3,60.2 390.1,60.4" stroke="#00c3ff" stroke-width="1.4"/>
<polyline points="390.1,60.4 389.8,60.6" stroke="#00c2ff" stroke-width="1.4"/>
<polyline points="389.8,60.6 389.6,60.8" stroke="#00c0ff" stroke-width="1.4"/>
<polyline points="389.6,60.8 389.3,61.0" stroke="#00bfff" stroke-width="1.39"/>
<polyline points="389.3,61.0 389.1,61.2" stroke="#00beff" stroke-width="1.39"/>
<polyline points="389.1,61.2 388.8,61.4" stroke="#00bcff" stroke-width="1.39"/>
<polyline points="388.8,61.4 388.5,61.6" stroke="#00bbff" stroke-width="1.38"/>
<polyline points="388.5,61.6 388.3,61.9" stroke="#00b9ff" stroke-width="1.38"/>
<polyline points="388.3,61.9 388.1,62.1" stroke="#00b8ff" stroke-width="1.38"/>
<polyline points="388.1,62.1 387.8,62.3" stroke="#00b7ff" stroke-width="1.38"/>
<polyline points="387.8,62.3 387.6,62.5" stroke="#00b5ff" stroke-width="1.37"/>
<polyline points="387.6,62.5 387.3,62.7" stroke="#00b4ff" stroke-width="1.37"/>
<polyline points="387.3,62.7 387.1,62.9" stroke="#00b3ff" stroke-width="1.37"/>
<polyline points="387.1,62.9 386.8,63.2" stroke="#00b1ff" stroke-width="1.36"/>
<polyline points="386.8,63.2 386.6,63.4" stroke="#00b0ff" stroke-width="1.36"/>
<polyline points="386.6,63.4 386.4,63.6" stroke="#00afff" stroke-width="1.36"/>
<polyline points="386.4,63.6 386.1,63.8" stroke="#00adff" stroke-width="1.35"/>
<polyline points="386.1,63.8 385.9,64.0" stroke="#00acff" stroke-width="1.35"/>
<polyline points="385.9,64.0 385.7,64.3" stroke="#00abff" stroke-width="1.35"/>
<polyline points="385.7,64.3 385.4,64.5" stroke="#00a9ff" stroke-width="1.35"/>
<polyline points="385.4,64.5 385.2,64.7" stroke="#00a8ff" stroke-width="1.34"/>
<polyline points="385.2,64.7 385.0,64.9" stroke="#00a6ff" stroke-width="1.34"/>
<polyline points="385.0,64.9 384.8,65.2" stroke="#00a5ff" stroke-width="1.34"/>
<polyline points="384.8,65.2 384.5,65.4" stroke="#00a4ff" stroke-width="1.33"/>
<polyline points="384.5,65.4 384.3,65.6" stroke="#00a2ff" stroke-width="1.33"/>
<polyline points="384.3,65.6 384.1,65.9" stroke="#00a1ff" stroke-width="1.33"/>
<polyline points="384.1,65.9 383.9,66.1" stroke="#00a0ff" stroke-width="1.33"/>
<polyline points="383.9,66.1 383.7,66.3" stroke="#009eff" stroke-width="1.32"/>
<polyline points="383.7,66.3 383.4,66.5 383.2,66.8" stroke="#009dff" stroke-width="1.32"/>
<polyline points="383.2,66.8 383.0,67.0 382.8,67.2" stroke="#009cff" stroke-width="1.32"/>
<polyline points="382.8,67.2 382.6,67.5 382.4,67.7" stroke="#009bff" stroke-width="1.32"/>
<polyline points="382.4,67.7 382.2,68.0 382.0,68.2" stroke="#009aff" stroke-width="1.31"/>
<polyline points="382.0,68.2 381.8,68.4 381.6,68.7" stroke="#0099ff" stroke-width="1.31"/>
<polyline points="381.6,68.7 381.4,68.9 381.2,69.1" stroke="#0098ff" stroke-width="1.31"/>
<polyline points="381.2,69.1 381.0,69.4 380.8,69.6" stroke="#0097ff" stroke-width="1.31"/>
<polyline points="380.8,69.6 380.6,69.9 380.4,70.1" stroke="#0096ff" stroke-width="1.31"/>
<polyline points="380.4,70.1 380.2,70.4 380.0,70.6" stroke="#0095ff" stroke-width="1.3"/>
<polyline points="380.0,70.6 379.8,70.8 379.6,71.1" stroke="#0094ff" stroke-width="1.3"/>
<polyline points="379.6,71.1 379.4,71.3 379.2,71.6" stroke="#0093ff" stroke-width="1.3"/>
<polyline points="379.2,71.6 379.1,71.8 378.9,72.1" stroke="#0092ff" stroke-width="1.3"/>
<polyline points="378.9,72.1 378.7,72.3 378.5,72.6" stroke="#0091ff" stroke-width="1.3"/>
<polyline points="378.5,72.6 378.3,72.8 378.2,73.1" stroke="#0090ff" stroke-width="1.29"/>
<polyline points="378.2,73.1 378.0,73.3 377.8,73.6" stroke="#008fff" stroke-width="1.29"/>
<polyline points="377.8,73.6 377.6,73.9 377.5,74.1" stroke="#008eff" stroke-width="1.29"/>
<polyline points="377.5,74.1 377.3,74.4 377.1,74.6" stroke="#008dff" stroke-width="1.29"/>
<polyline points="377.1,74.6 377.0,74.9" stroke="#008cff" stroke-width="1.29"/>
<polyline points="377.0,74.9 376.8,75.1 376.6,75.4" stroke="#008bff" stroke-width="1.28"/>
<polyline points="376.6,75.4 376.5,75.7 376.3,75.9" stroke="#008aff" stroke-width="1.28"/>
<polyline points="376.3,75.9 376.1,76.2 376.0,76.5" stroke="#0089ff" stroke-width="1.28"/>
<polyline points="376.0,76.5 375.8,76.7" stroke="#0088ff" stroke-width="1.28"/>
<polyline points="375.8,76.7 375.7,77.0 375.5,77.3" stroke="#0087ff" stroke-width="1.28"/>
<polyline points="375.5,77.3 375.3,77.5" stroke="#0086ff" stroke-width="1.27"/>
<polyline points="375.3,77.5 375.2,77.8 375.0,78.1" stroke="#0085ff" stroke-width="1.27"/>
<polyline points="375.0,78.1 374.9,78.3" stroke="#0084ff" stroke-width="1.27"/>
<polyline points="374.9,78.3 374.7,78.6 374.6,78.9" stroke="#0083ff" stroke-width="1.27"/>
<polyline points="374.6,78.9 374.4,79.2" stroke="#0082ff" stroke-width="1.27"/>
<polyline points="374.4,79.2 374.3,79.4 374.1,79.7" stroke="#0081ff" stroke-width="1.26"/>
<polyline points="374.1,79.7 374.0,80.0" stroke="#0080ff" stroke-width="1.26"/>
<polyline points="374.0,80.0 373.9,80.3 373.7,80.5" stroke="#007fff" stroke-width="1.26"/>
<polyline points="373.7,80.5 373.6,80.8" stroke="#007eff" stroke-width="1.26"/>
<polyline points="373.6,80.8 373.4,81.1 373.3,81.4" stroke="#007dff" stroke-width="1.26"/>
<polyline points="373.3,81.4 373.2,81.7" stroke="#007cff" stroke-width="1.25"/>
<polyline points="373.2,81.7 373.0,81.9 372.9,82.2" stroke="#007bff" stroke-width="1.25"/>
<polyline points="372.9,82.2 372.8,82.5" stroke="#007aff" stroke-width="1.25"/>
<polyline points="372.8,82.5 372.6,82.8 372.5,83.1" stroke="#0079ff" stroke-width="1.25"/>
<polyline points="372.5,83.1 372.4,83.4" stroke="#0078ff" stroke-width="1.25"/>
<polyline points="372.4,83.4 372.3,83.7 372.1,84.0" stroke="#0077ff" stroke-width="1.25"/>
<polyline points="372.1,84.0 372.0,84.3" stroke="#0076ff" stroke-width="1.24"/>
<polyline points="372.0,84.3 371.9,84.5" stroke="#0075ff" stroke-width="1.24"/>
<polyline points="371.9,84.5 371.8,84.8 371.6,85.1" stroke="#0074ff" stroke-width="1.24"/>
<polyline points="371.6,85.1 371.5,85.4" stroke="#0073ff" stroke-width="1.24"/>
<polyline points="371.5,85.4 371.4,85.7 371.3,86.0" stroke="#0072ff" stroke-width="1.24"/>
<polyline points="371.3,86.0 371.2,86.3" stroke="#0071ff" stroke-width="1.23"/>
<polyline points="371.2,86.3 371.1,86.6 370.9,86.9" stroke="#0070ff" stroke-width="1.23"/>
<polyline points="370.9,86.9 370.8,87.2" stroke="#006fff" stroke-width="1.23"/>
<polyline points="370.8,87.2 370.7,87.5 370.6,87.8" stroke="#006eff" stroke-width="1.23"/>
<polyline points="370.6,87.8 370.5,88.2" stroke="#006dff" stroke-width="1.23"/>
<polyline points="370.5,88.2 370.4,88.5 370.3,88.8" stroke="#006cff" stroke-width="1.22"/>
<polyline points="370.3,88.8 370.2,89.1" stroke="#006bff" stroke-width="1.22"/>
<polyline points="370.2,89.1 370.1,89.4 370.0,89.7" stroke="#006aff" stroke-width="1.22"/>
<polyline points="370.0,89.7 369.9,90.0" stroke="#0069ff" stroke-width="1.22"/>
<polyline points="369.9,90.0 369.8,90.3 369.7,90.7" stroke="#0068ff" stroke-width="1.22"/>
<polyline points="369.7,90.7 369.6,91.0" stroke="#0067ff" stroke-width="1.21"/>
<polyline points="369.6,91.0 369.5,91.3" stroke="#0066ff" stroke-width="1.21"/>
<polyline points="369.5,91.3 369.4,91.6 369.3,91.9" stroke="#0065ff" stroke-width="1.21"/>
<polyline points="369.3,91.9 369.3,92.3" stroke="#0064ff" stroke-width="1.21"/>
<polyline points="369.3,92.3 369.2,92.6 369.1,92.9" stroke="#0063ff" stroke-width="1.21"/>
<polyline points="369.1,92.9 369.0,93.2" stroke="#0062ff" stroke-width="1.21"/>
<polyline points="369.0,93.2 368.9,93.6 368.8,93.9" stroke="#0061ff" stroke-width="1.2"/>
<polyline points="368.8,93.9 368.7,94.2" stroke="#0060ff" stroke-width="1.2"/>
<polyline points="368.7,94.2 368.7,94.6 368.6,94.9" stroke="#005fff" stroke-width="1.2"/>
<polyline points="368.6,94.9 368.5,95.2" stroke="#005eff" stroke-width="1.2"/>
<polyline points="368.5,95.2 368.4,95.6 368.4,95.9" stroke="#005dff" stroke-width="1.2"/>
<polyline points="368.4,95.9 368.3,96.3" stroke="#005cff" stroke-width="1.19"/>
<polyline points="368.3,96.3 368.2,96.6 368.2,96.9" stroke="#005bff" stroke-width="1.19"/>
<polyline points="368.2,96.9 368.1,97.3" stroke="#005aff" stroke-width="1.19"/>
<polyline points="368.1,97.3 368.0,97.6 368.0,98.0" stroke="#0059ff" stroke-width="1.19"/>
<polyline points="368.0,98.0 367.9,98.3" stroke="#0058ff" stroke-width="1.19"/>
<polyline points="367.9,98.3 367.9,98.7 367.8,99.0" stroke="#0057ff" stroke-width="1.19"/>
<polyline points="367.8,99.0 367.7,99.4" stroke="#0056ff" stroke-width="1.18"/>
<polyline points="367.7,99.4 367.7,99.7" stroke="#0055ff" stroke-width="1.18"/>
<polyline points="367.7,99.7 367.6,100.1 367.6,100.5" stroke="#0054ff" stroke-width="1.18"/>
<polyline points="367.6,100.5 367.5,100.8" stroke="#0053ff" stroke-width="1.18"/>
<polyline points="367.5,100.8 367.5,101.2 367.4,101.6" stroke="#0052ff" stroke-width="1.18"/>
<polyline points="367.4,101.6 367.4,101.9" stroke="#0051ff" stroke-width="1.18"/>
<polyline points="367.4,101.9 367.3,102.3 367.3,102.7" stroke="#0050ff" stroke-width="1.17"/>
<polyline points="367.3,102.7 367.3,103.0" stroke="#004fff" stroke-width="1.17"/>
<polyline points="367.3,103.0 367.2,103.4 367.2,103.8" stroke="#004eff" stroke-width="1.17"/>
<polyline points="367.2,103.8 367.2,104.2" stroke="#004dff" stroke-width="1.17"/>
<polyline points="367.2,104.2 367.1,104.5 367.1,104.9" stroke="#004cff" stroke-width="1.17"/>
<polyline points="367.1,104.9 367.1,105.3" stroke="#004bff" stroke-width="1.17"/>
<polyline points="367.1,105.3 367.0,105.7 367.0,106.1" stroke="#004aff" stroke-width="1.16"/>
<polyline points="367.0,106.1 367.0,106.4" stroke="#0049ff" stroke-width="1.16"/>
<polyline points="367.0,106.4 367.0,106.8 367.0,107.2" stroke="#0048ff" stroke-width="1.16"/>
<polyline points="367.0,107.2 366.9,107.6" stroke="#0047ff" stroke-width="1.16"/>
<polyline points="366.9,107.6 366.9,108.0 366.9,108.4" stroke="#0046ff" stroke-width="1.16"/>
<polyline points="366.9,108.4 366.9,108.8" stroke="#0045ff" stroke-width="1.15"/>
<polyline points="366.9,108.8 366.9,109.2" stroke="#0044ff" stroke-width="1.15"/>
<polyline points="366.9,109.2 366.9,109.6 366.9,110.0" stroke="#0043ff" stroke-width="1.15"/>
<polyline points="366.9,110.0 366.9,110.4" stroke="#0042ff" stroke-width="1.15"/>
<polyline points="366.9,110.4 366.9,110.8 366.9,111.3" stroke="#0041ff" stroke-width="1.15"/>
<polyline points="366.9,111.3 366.9,111.7" stroke="#0040ff" stroke-width="1.15"/>
<polyline points="366.9,111.7 366.9,112.1 366.9,112.5" stroke="#003fff" stroke-width="1.15"/>
<polyline points="366.9,112.5 366.9,112.9" stroke="#003eff" stroke-width="1.14"/>
<polyline points="366.9,112.9 366.9,113.3 367.0,113.8" stroke="#003dff" stroke-width="1.14"/>
<polyline points="367.0,113.8 367.0,114.2" stroke="#003cff" stroke-width="1.14"/>
<polyline points="367.0,114.2 367.0,114.6 367.0,115.1" stroke="#003bff" stroke-width="1.14"/>
<polyline points="367.0,115.1 367.0,115.5" stroke="#003aff" stroke-width="1.14"/>
<polyline points="367.0,115.5 367.1,115.9 367.1,116.4" stroke="#0039ff" stroke-width="1.14"/>
<polyline points="367.1,116.4 367.1,116.8" stroke="#0038ff" stroke-width="1.13"/>
<polyline points="367.1,116.8 367.2,117.2" stroke="#0037ff" stroke-width="1.13"/>
<polyline points="367.2,117.2 367.2,117.7" stroke="#0035ff" stroke-width="1.13"/>
<polyline points="367.2,117.7 367.3,118.1" stroke="#0034ff" stroke-width="1.13"/>
<polyline points="367.3,118.1 367.3,118.6" stroke="#0032ff" stroke-width="1.12"/>
<polyline points="367.3,118.6 367.3,119.0" stroke="#0031ff" stroke-width="1.12"/>
<polyline points="367.3,119.0 367.4,119.5" stroke="#002fff" stroke-width="1.12"/>
<polyline points="367.4,119.5 367.4,119.9" stroke="#002eff" stroke-width="1.12"/>
<polyline points="367.4,119.9 367.5,120.4" stroke="#002cff" stroke-width="1.12"/>
<polyline points="367.5,120.4 367.6,120.9" stroke="#002bff" stroke-width="1.11"/>
<polyline points="367.6,120.9 367.6,121.3" stroke="#0029ff" stroke-width="1.11"/>
<polyline points="367.6,121.3 367.7,121.8" stroke="#0028ff" stroke-width="1.11"/>
<polyline points="367.7,121.8 367.8,122.3" stroke="#0026ff" stroke-width="1.11"/>
<polyline points="367.8,122.3 367.8,122.7" stroke="#0024ff" stroke-width="1.1"/>
<polyline points="367.8,122.7 367.9,123.2" stroke="#0023ff" stroke-width="1.1"/>
<polyline points="367.9,123.2 368.0,123.7" stroke="#0021ff" stroke-width="1.1"/>
<polyline points="368.0,123.7 368.0,124.2" stroke="#0020ff" stroke-width="1.1"/>
<polyline points="368.0,124.2 368.1,124.7" stroke="#001eff" stroke-width="1.09"/>
<polyline points="368.1,124.7 368.2,125.1" stroke="#001dff" stroke-width="1.09"/>
<polyline points="368.2,125.1 368.3,125.6" stroke="#001bff" stroke-width="1.09"/>
<polyline points="368.3,125.6 368.4,126.1" stroke="#001aff" stroke-width="1.09"/>
<polyline points="368.4,126.1 368.5,126.6" stroke="#0018ff" stroke-width="1.09"/>
<polyline points="368.5,126.6 368.6,127.1" stroke="#0017ff" stroke-width="1.08"/>
<polyline points="368.6,127.1 368.7,127.6" stroke="#0015ff" stroke-width="1.08"/>
<polyline points="368.7,127.6 368.8,128.1" stroke="#0014ff" stroke-width="1.08"/>
<polyline points="368.8,128.1 368.9,128.6" stroke="#0012ff" stroke-width="1.08"/>
<polyline points="368.9,128.6 369.0,129.1" stroke="#0011ff" stroke-width="1.08"/>
<polyline points="369.0,129.1 369.1,129.6" stroke="#000fff" stroke-width="1.07"/>
<polyline points="369.1,129.6 369.3,130.2" stroke="#000eff" stroke-width="1.07"/>
<polyline points="369.3,130.2 369.4,130.7" stroke="#000cff" stroke-width="1.07"/>
<polyline points="369.4,130.7 369.5,131.2" stroke="#000aff" stroke-width="1.07"/>
<polyline points="369.5,131.2 369.6,131.7" stroke="#0009ff" stroke-width="1.06"/>
<polyline points="369.6,131.7 369.8,132.2" stroke="#0007ff" stroke-width="1.06"/>
<polyline points="369.8,132.2 369.9,132.8" stroke="#0006ff" stroke-width="1.06"/>
<polyline points="369.9,132.8 370.1,133.3" stroke="#0004ff" stroke-width="1.06"/>
<polyline points="370.1,133.3 370.2,133.8" stroke="#0003ff" stroke-width="1.06"/>
<polyline points="370.2,133.8 370.4,134.4" stroke="#0001ff" stroke-width="1.05"/>
<polyline points="370.4,134.4 370.5,134.9" stroke="#0000ff" stroke-width="1.05"/>
<polyline points="370.5,134.9 370.7,135.5" stroke="#0000fd" stroke-width="1.05"/>
<polyline points="370.7,135.5 370.8,136.0" stroke="#0000fc" stroke-width="1.05"/>
<polyline points="370.8,136.0 371.0,136.5" stroke="#0000fa" stroke-width="1.05"/>
<polyline points="371.0,136.5 371.2,137.1" stroke="#0000f8" stroke-width="1.04"/>
<polyline points="371.2,137.1 371.4,137.7" stroke="#0000f6" stroke-width="1.04"/>
<polyline points="371.4,137.7 371.5,138.2" stroke="#0000f3" stroke-width="1.04"/>
<polyline points="371.5,138.2 371.7,138.8" stroke="#0000f1" stroke-width="1.04"/>
<polyline points="371.7,138.8 371.9,139.3" stroke="#0000ef" stroke-width="1.03"/>
<polyline points="371.9,139.3 372.1,139.9" stroke="#0000ec" stroke-width="1.03"/>
<polyline points="372.1,139.9 372.3,140.5" stroke="#0000ea" stroke-width="1.03"/>
<polyline points="372.3,140.5 372.5,141.1" stroke="#0000e8" stroke-width="1.02"/>
<polyline points="372.5,141.1 372.7,141.6" stroke="#0000e5" stroke-width="1.02"/>
<polyline points="372.7,141.6 373.0,142.2" stroke="#0000e3" stroke-width="1.02"/>
<polyline points="373.0,142.2 373.2,142.8" stroke="#0000e0" stroke-width="1.02"/>
<polyline points="373.2,142.8 373.4,143.4" stroke="#0000de" stroke-width="1.01"/>
<polyline points="373.4,143.4 373.6,144.0" stroke="#0000dc" stroke-width="1.01"/>
<polyline points="373.6,144.0 373.9,144.6" stroke="#0000d9" stroke-width="1.01"/>
<polyline points="373.9,144.6 374.1,145.2" stroke="#0000d7" stroke-width="1.01"/>
<polyline points="374.1,145.2 374.4,145.8" stroke="#0000d5" stroke-width="1.0"/>
<polyline points="374.4,145.8 374.6,146.4" stroke="#0000d2" stroke-width="1.0"/>
<polyline points="374.6,146.4 374.9,147.0" stroke="#0000d0" stroke-width="1.0"/>
<polyline points="374.9,147.0 375.2,147.6" stroke="#0000cd" stroke-width="1.0"/>
<polyline points="375.2,147.6 375.4,148.2" stroke="#0000cb" stroke-width="0.99"/>
<polyline points="375.4,148.2 375.7,148.9" stroke="#0000c9" stroke-width="0.99"/>
<polyline points="375.7,148.9 376.0,149.5" stroke="#0000c6" stroke-width="0.99"/>
<polyline points="376.0,149.5 376.3,150.1" stroke="#0000c4" stroke-width="0.99"/>
<polyline points="376.3,150.1 376.6,150.8" stroke="#0000c1" stroke-width="0.99"/>
<polyline points="376.6,150.8 376.9,151.4" stroke="#0000bf" stroke-width="0.98"/>
<polyline points="376.9,151.4 377.2,152.0" stroke="#0000bd" stroke-width="0.98"/>
<polyline points="377.2,152.0 377.5,152.7" stroke="#0000b9" stroke-width="0.98"/>
<polyline points="377.5,152.7 377.8,153.3" stroke="#0101b6" stroke-width="0.98"/>
<polyline points="377.8,153.3 378.1,154.0" stroke="#0101b3" stroke-width="0.98"/>
<polyline points="378.1,154.0 378.5,154.6" stroke="#0202b0" stroke-width="0.97"/>
<polyline points="378.5,154.6 378.8,155.3" stroke="#0303ad" stroke-width="0.97"/>
<polyline points="378.8,155.3 379.2,155.9" stroke="#0303ab" stroke-width="0.97"/>
<polyline points="379.2,155.9 379.5,156.6" stroke="#0404a9" stroke-width="0.97"/>
<polyline points="379.5,156.6 379.9,157.3" stroke="#0404a6" stroke-width="0.97"/>
<polyline points="379.9,157.3 380.3,157.9" stroke="#0505a4" stroke-width="0.97"/>
<polyline points="380.3,157.9 380.7,158.6" stroke="#0505a2" stroke-width="0.97"/>
<polyline points="380.7,158.6 381.0,159.3" stroke="#0606a0" stroke-width="0.97"/>
<polyline points="381.0,159.3 381.4,160.0" stroke="#06069e" stroke-width="0.96"/>
<polyline points="381.4,160.0 381.8,160.7" stroke="#07079b" stroke-width="0.96"/>
<polyline points="381.8,160.7 382.2,161.4" stroke="#070799" stroke-width="0.96"/>
<polyline points="382.2,161.4 382.7,162.1" stroke="#080897" stroke-width="0.96"/>
<polyline points="382.7,162.1 383.1,162.8" stroke="#080895" stroke-width="0.96"/>
<polyline points="383.1,162.8 383.5,163.5" stroke="#090992" stroke-width="0.96"/>
<polyline points="383.5,163.5 384.0,164.2" stroke="#090990" stroke-width="0.96"/>
<polyline points="384.0,164.2 384.4,164.9" stroke="#0a0a8e" stroke-width="0.96"/>
<polyline points="384.4,164.9 384.9,165.6" stroke="#0a0a8c" stroke-width="0.96"/>
<polyline points="384.9,165.6 385.4,166.3" stroke="#0b0b8a" stroke-width="0.96"/>
<polyline points="385.4,166.3 385.8,167.0" stroke="#0b0b87" stroke-width="0.96"/>
<polyline points="385.8,167.0 386.3,167.7" stroke="#0c0c85" stroke-width="0.96"/>
<polyline points="386.3,167.7 386.8,168.5" stroke="#0c0c83" stroke-width="0.95"/>
<polyline points="386.8,168.5 387.3,169.2" stroke="#0d0d81" stroke-width="0.95"/>
<polyline points="387.3,169.2 387.8,169.9" stroke="#0d0d7e" stroke-width="0.95"/>
<polyline points="387.8,169.9 388.4,170.7" stroke="#0e0e7c" stroke-width="0.95"/>
<polyline points="388.4,170.7 388.9,171.4" stroke="#0e0e7a" stroke-width="0.95"/>
<polyline points="388.9,171.4 389.5,172.2" stroke="#0f0f78" stroke-width="0.95"/>
<polyline points="389.5,172.2 390.0,172.9" stroke="#0f0f76" stroke-width="0.95"/>
<polyline points="390.0,172.9 390.6,173.7" stroke="#101073" stroke-width="0.95"/>
<polyline points="390.6,173.7 391.1,174.4" stroke="#101071" stroke-width="0.95"/>
<polyline points="391.1,174.4 391.7,175.2" stroke="#11116f" stroke-width="0.95"/>
<polyline points="391.7,175.2 392.3,175.9" stroke="#11116d" stroke-width="0.95"/>
<polyline points="392.3,175.9 392.9,176.7 393.6,177.5 394.2,178.2 394.8,179.0 395.5,179.8 396.2,180.6 396.8,181.3 397.5,182.1 398.2,182.9 398.9,183.7 399.7,184.5 400.4,185.3 401.2,186.1 401.9,186.9 402.7,187.7 403.5,188.5 404.3,189.3 405.1,190.1 406.0,190.9 406.8,191.7 407.7,192.5 408.5,193.4 409.4,194.2 410.3,195.0 411.2,195.8 412.2,196.6 413.1,197.4 414.1,198.3 415.1,199.1 416.1,199.9 417.1,200.7 418.1,201.5 419.2,202.3 420.2,203.1 421.3,204.0 422.4,204.8 423.5,205.6 424.6,206.4 425.8,207.2 426.9,208.0 428.1,208.8 429.3,209.6 430.5,210.4 431.7,211.2 433.0,211.9 434.2,212.7 435.5,213.5 436.8,214.3 438.1,215.0 439.5,215.8 440.8,216.5 442.2,217.3 443.6,218.0 445.0,218.7 446.4,219.4 447.8,220.1 449.3,220.8 450.7,221.5 452.2,222.2 453.7,222.9 455.3,223.5 456.8,224.2 458.4,224.8 459.9,225.4 461.5,226.0 463.1,226.6 464.8,227.2 466.4,227.8 468.0,228.3 469.7,228.8 471.4,229.3 473.1,229.8 474.8,230.3 476.5,230.8 478.3,231.2 480.0,231.6 481.8,232.0 483.6,232.4 485.3,232.7 487.1,233.1 488.9,233.4 490.8,233.6 492.6,233.9 494.4,234.1 496.3,234.3 498.1,234.5" stroke="#12126c" stroke-width="0.95"/>
</g>
<polyline points="466.39,201.40 467.88,201.87 469.40,202.32 470.93,202.77 472.47,203.20 474.04,203.62 475.61,204.02 477.20,204.41 478.81,204.78 480.43,205.14 482.06,205.48 483.71,205.80 485.37,206.10 487.04,206.39 488.72,206.66 490.42,206.90 492.12,207.13 493.84,207.33 495.56,207.51 497.30,207.67 499.04,207.81 500.79,207.92 502.54,208.00 504.31,208.07 506.07,208.10 507.85,208.11 509.62,208.09 511.40,208.05 513.18,207.97 514.95,207.87 516.73,207.74 518.51,207.58 520.28,207.38 522.05,207.16 523.82,206.90 525.57,206.61 527.33,206.29 529.07,205.94 530.80,205.55 532.52,205.13 534.23,204.67 535.92,204.18 537.60,203.66 539.27,203.10 540.91,202.50 542.54,201.87 544.14,201.20 545.72,200.50 547.28,199.76 548.82,198.99 550.33,198.18 551.81,197.33 553.26,196.45 554.69,195.54 556.08,194.59 557.44,193.60 558.76,192.58 560.05,191.53 561.30,190.44 562.52,189.33 563.70,188.17 564.83,186.99 565.93,185.77 566.99,184.53 568.00,183.25 568.97,181.95 569.89,180.62 570.77,179.26 571.60,177.87 572.39,176.46 573.13,175.02 573.82,173.56 574.46,172.08" fill="none" stroke="#5a5a5a" stroke-width="0.9"/>
<g fill="none" stroke-linecap="round" stroke-linejoin="round">
<polyline points="574.5,172.1 575.1,170.6 575.6,169.1 576.1,167.5 576.5,166.0 576.9,164.4 577.3,162.8 577.6,161.2" stroke="#11116c" stroke-width="0.95"/>
<polyline points="577.6,161.2 577.8,159.6 578.0,157.9 578.2,156.3 578.3,154.6 578.3,153.0 578.3,151.3 578.3,149.6" stroke="#11116d" stroke-width="0.95"/>
<polyline points="578.3,149.6 578.2,147.9 578.0,146.3 577.8,144.6 577.6,142.9 577.3,141.2 577.0,139.5 576.6,137.8" stroke="#11116e" stroke-width="0.95"/>
<polyline points="576.6,137.8 576.2,136.1 575.8,134.5 575.3,132.8 574.8,131.1 574.2,129.5 573.6,127.8 572.9,126.2" stroke="#11116f" stroke-width="0.95"/>
<polyline points="572.9,126.2 572.2,124.6 571.5,122.9 570.8,121.3" stroke="#111170" stroke-width="0.95"/>
<polyline points="570.8,121.3 570.0,119.7 569.2,118.2 568.3,116.6 567.4,115.0" stroke="#101070" stroke-width="0.95"/>
<polyline points="567.4,115.0 566.5,113.5 565.6,112.0 564.6,110.5 563.6,109.0 562.6,107.5 561.6,106.1 560.6,104.7" stroke="#101071" stroke-width="0.95"/>
<polyline points="560.6,104.7 559.5,103.2 558.4,101.8 557.3,100.5 556.1,99.1 555.0,97.8 553.8,96.5 552.6,95.2" stroke="#101072" stroke-width="0.95"/>
<polyline points="552.6,95.2 551.5,93.9 550.2,92.6 549.0,91.4 547.8,90.2 546.6,89.0 545.3,87.9 544.1,86.7" stroke="#101073" stroke-width="0.95"/>
<polyline points="544.1,86.7 542.8,85.6 541.5,84.5 540.3,83.4 539.0,82.3 537.7,81.3 536.4,80.3 535.1,79.3" stroke="#101074" stroke-width="0.95"/>
<polyline points="535.1,79.3 533.8,78.3 532.5,77.3 531.2,76.4 529.9,75.5 528.6,74.6 527.3,73.7 526.1,72.9" stroke="#0f0f75" stroke-width="0.95"/>
<polyline points="526.1,72.9 524.8,72.0 523.5,71.2 522.2,70.4 520.9,69.6 519.6,68.9 518.3,68.1 517.1,67.4 515.8,66.7" stroke="#0f0f76" stroke-width="0.95"/>
<polyline points="515.8,66.7 514.5,66.0 513.3,65.4 512.0,64.7 510.8,64.1 509.5,63.5 508.3,62.9 507.1,62.3" stroke="#0f0f77" stroke-width="0.95"/>
<polyline points="507.1,62.3 505.8,61.7 504.6,61.2 503.4,60.6 502.2,60.1 501.0,59.6 499.8,59.1 498.7,58.6" stroke="#0f0f78" stroke-width="0.95"/>
<polyline points="498.7,58.6 497.5,58.2 496.3,57.7" stroke="#0f0f79" stroke-width="0.95"/>
<polyline points="496.3,57.7 495.2,57.3" stroke="#0e0e7a" stroke-width="0.95"/>
<polyline points="495.2,57.3 494.0,56.9" stroke="#0e0e7b" stroke-width="0.95"/>
<polyline points="494.0,56.9 492.9,56.5" stroke="#0e0e7d" stroke-width="0.95"/>
<polyline points="492.9,56.5 491.8,56.1" stroke="#0d0d7f" stroke-width="0.95"/>
<polyline points="491.8,56.1 490.7,55.7" stroke="#0d0d80" stroke-width="0.95"/>
<polyline points="490.7,55.7 489.5,55.3" stroke="#0c0c82" stroke-width="0.95"/>
<polyline points="489.5,55.3 488.4,55.0" stroke="#0c0c84" stroke-width="0.95"/>
<polyline points="488.4,55.0 487.3,54.6" stroke="#0c0c85" stroke-width="0.96"/>
<polyline points="487.3,54.6 486.3,54.3" stroke="#0b0b87" stroke-width="0.96"/>
<polyline points="486.3,54.3 485.2,54.0" stroke="#0b0b89" stroke-width="0.96"/>
<polyline points="485.2,54.0 484.1,53.6" stroke="#0b0b8a" stroke-width="0.96"/>
<polyline points="484.1,53.6 483.1,53.3" stroke="#0a0a8c" stroke-width="0.96"/>
<polyline points="483.1,53.3 482.0,53.1" stroke="#0a0a8e" stroke-width="0.96"/>
<polyline points="482.0,53.1 481.0,52.8" stroke="#09098f" stroke-width="0.96"/>
<polyline points="481.0,52.8 480.0,52.5" stroke="#090991" stroke-width="0.96"/>
<polyline points="480.0,52.5 478.9,52.3" stroke="#090993" stroke-width="0.96"/>
<polyline points="478.9,52.3 477.9,52.0" stroke="#080895" stroke-width="0.96"/>
<polyline points="477.9,52.0 476.9,51.8" stroke="#080897" stroke-width="0.96"/>
<polyline points="476.9,51.8 475.9,51.5" stroke="#07079a" stroke-width="0.96"/>
<polyline points="475.9,51.5 474.9,51.3" stroke="#07079c" stroke-width="0.96"/>
<polyline points="474.9,51.3 474.0,51.1" stroke="#06069f" stroke-width="0.97"/>
<polyline points="474.0,51.1 473.0,50.9" stroke="#0505a1" stroke-width="0.97"/>
<polyline points="473.0,50.9 472.0,50.7" stroke="#0505a4" stroke-width="0.97"/>
<polyline points="472.0,50.7 471.1,50.5" stroke="#0404a6" stroke-width="0.97"/>
<polyline points="471.1,50.5 470.2,50.4" stroke="#0404a9" stroke-width="0.97"/>
<polyline points="470.2,50.4 469.2,50.2" stroke="#0303ab" stroke-width="0.97"/>
<polyline points="469.2,50.2 468.3,50.0" stroke="#0303ae" stroke-width="0.97"/>
<polyline points="468.3,50.0 467.4,49.9" stroke="#0202b0" stroke-width="0.97"/>
<polyline points="467.4,49.9 466.5,49.7" stroke="#0101b3" stroke-width="0.98"/>
<polyline points="466.5,49.7 465.6,49.6" stroke="#0101b5" stroke-width="0.98"/>
<polyline points="465.6,49.6 464.7,49.5" stroke="#0000b8" stroke-width="0.98"/>
<polyline points="464.7,49.5 463.8,49.3" stroke="#0000ba" stroke-width="0.98"/>
<polyline points="463.8,49.3 463.0,49.2" stroke="#0000bf" stroke-width="0.98"/>
<polyline points="463.0,49.2 462.1,49.1" stroke="#0000c4" stroke-width="0.99"/>
<polyline points="462.1,49.1 461.2,49.0" stroke="#0000c9" stroke-width="0.99"/>
<polyline points="461.2,49.0 460.4,48.9" stroke="#0000ce" stroke-width="1.0"/>
<polyline points="460.4,48.9 459.6,48.8" stroke="#0000d3" stroke-width="1.0"/>
<polyline points="459.6,48.8 458.7,48.8" stroke="#0000d8" stroke-width="1.01"/>
<polyline points="458.7,48.8 457.9,48.7" stroke="#0000dd" stroke-width="1.01"/>
<polyline points="457.9,48.7 457.1,48.6" stroke="#0000e2" stroke-width="1.02"/>
<polyline points="457.1,48.6 456.3,48.6" stroke="#0000e8" stroke-width="1.02"/>
<polyline points="456.3,48.6 455.5,48.5" stroke="#0000ed" stroke-width="1.03"/>
<polyline points="455.5,48.5 454.7,48.4" stroke="#0000f2" stroke-width="1.04"/>
<polyline points="454.7,48.4 453.9,48.4" stroke="#0000f7" stroke-width="1.04"/>
<polyline points="453.9,48.4 453.1,48.4" stroke="#0000fc" stroke-width="1.05"/>
<polyline points="453.1,48.4 452.4,48.3" stroke="#0002ff" stroke-width="1.06"/>
<polyline points="452.4,48.3 451.6,48.3" stroke="#0009ff" stroke-width="1.07"/>
<polyline points="451.6,48.3 450.9,48.3" stroke="#0012ff" stroke-width="1.08"/>
<polyline points="450.9,48.3 450.1,48.2" stroke="#001cff" stroke-width="1.09"/>
<polyline points="450.1,48.2 449.4,48.2" stroke="#0025ff" stroke-width="1.1"/>
<polyline points="449.4,48.2 448.7,48.2" stroke="#002eff" stroke-width="1.12"/>
<polyline points="448.7,48.2 447.9,48.2" stroke="#0037ff" stroke-width="1.13"/>
<polyline points="447.9,48.2 447.2,48.2" stroke="#0040ff" stroke-width="1.15"/>
<polyline points="447.2,48.2 446.5,48.2" stroke="#0049ff" stroke-width="1.16"/>
<polyline points="446.5,48.2 445.8,48.2" stroke="#0053ff" stroke-width="1.18"/>
<polyline points="445.8,48.2 445.1,48.2" stroke="#005cff" stroke-width="1.19"/>
<polyline points="445.1,48.2 444.4,48.2" stroke="#0065ff" stroke-width="1.21"/>
<polyline points="444.4,48.2 443.8,48.3" stroke="#006eff" stroke-width="1.23"/>
<polyline points="443.8,48.3 443.1,48.3" stroke="#0076ff" stroke-width="1.24"/>
<polyline points="443.1,48.3 442.4,48.3" stroke="#007fff" stroke-width="1.26"/>
<polyline points="442.4,48.3 441.8,48.3" stroke="#0088ff" stroke-width="1.28"/>
<polyline points="441.8,48.3 441.1,48.4" stroke="#0090ff" stroke-width="1.29"/>
<polyline points="441.1,48.4 440.5,48.4" stroke="#0099ff" stroke-width="1.31"/>
<polyline points="440.5,48.4 439.8,48.4" stroke="#00a2ff" stroke-width="1.33"/>
<polyline points="439.8,48.4 439.2,48.5" stroke="#00abff" stroke-width="1.35"/>
<polyline points="439.2,48.5 438.6,48.5" stroke="#00b3ff" stroke-width="1.37"/>
<polyline points="438.6,48.5 438.0,48.6" stroke="#00bcff" stroke-width="1.39"/>
<polyline points="438.0,48.6 437.3,48.6" stroke="#00c5ff" stroke-width="1.41"/>
<polyline points="437.3,48.6 436.7,48.7" stroke="#00ceff" stroke-width="1.43"/>
<polyline points="436.7,48.7 436.1,48.7" stroke="#00d6ff" stroke-width="1.45"/>
<polyline points="436.1,48.7 435.5,48.8" stroke="#00ddff" stroke-width="1.46"/>
<polyline points="435.5,48.8 434.9,48.9" stroke="#00e1ff" stroke-width="1.47"/>
<polyline points="434.9,48.9 434.4,48.9" stroke="#00e5ff" stroke-width="1.48"/>
<polyline points="434.4,48.9 433.8,49.0" stroke="#00e9ff" stroke-width="1.49"/>
<polyline points="433.8,49.0 433.2,49.1" stroke="#00edff" stroke-width="1.5"/>
<polyline points="433.2,49.1 432.6,49.2" stroke="#00f1ff" stroke-width="1.51"/>
<polyline points="432.6,49.2 432.1,49.2" stroke="#00f5ff" stroke-width="1.52"/>
<polyline points="432.1,49.2 431.5,49.3" stroke="#00f9ff" stroke-width="1.53"/>
<polyline points="431.5,49.3 431.0,49.4" stroke="#00fdff" stroke-width="1.54"/>
<polyline points="431.0,49.4 430.4,49.5" stroke="#03fffb" stroke-width="1.55"/>
<polyline points="430.4,49.5 429.9,49.6" stroke="#05fff9" stroke-width="1.56"/>
<polyline points="429.9,49.6 429.3,49.7" stroke="#07fff7" stroke-width="1.56"/>
<polyline points="429.3,49.7 428.8,49.8" stroke="#08fff6" stroke-width="1.56"/>
<polyline points="428.8,49.8 428.3,49.8" stroke="#09fff5" stroke-width="1.57"/>
<polyline points="428.3,49.8 427.8,49.9" stroke="#0afff4" stroke-width="1.57"/>
<polyline points="427.8,49.9 427.2,50.0" stroke="#0cfff2" stroke-width="1.57"/>
<polyline points="427.2,50.0 426.7,50.1" stroke="#0dfff1" stroke-width="1.58"/>
<polyline points="426.7,50.1 426.2,50.2" stroke="#0efff0" stroke-width="1.58"/>
<polyline points="426.2,50.2 425.7,50.4" stroke="#0fffef" stroke-width="1.58"/>
<polyline points="425.7,50.4 425.2,50.5" stroke="#11ffed" stroke-width="1.59"/>
<polyline points="425.2,50.5 424.7,50.6" stroke="#12ffec" stroke-width="1.59"/>
<polyline points="424.7,50.6 424.3,50.7" stroke="#13ffeb" stroke-width="1.59"/>
<polyline points="424.3,50.7 423.8,50.8" stroke="#15ffe9" stroke-width="1.6"/>
<polyline points="423.8,50.8 423.3,50.9" stroke="#16ffe8" stroke-width="1.6"/>
<polyline points="423.3,50.9 422.8,51.0" stroke="#17ffe7" stroke-width="1.6"/>
<polyline points="422.8,51.0 422.4,51.1" stroke="#18ffe6" stroke-width="1.61"/>
<polyline points="422.4,51.1 421.9,51.3" stroke="#22ffdc" stroke-width="1.63"/>
<polyline points="421.9,51.3 421.4,51.4" stroke="#32ffcc" stroke-width="1.67"/>
<polyline points="421.4,51.4 421.0,51.5" stroke="#43ffbb" stroke-width="1.72"/>
<polyline points="421.0,51.5 420.5,51.6" stroke="#55ffa9" stroke-width="1.77"/>
<polyline points="420.5,51.6 420.1,51.7" stroke="#65ff99" stroke-width="1.82"/>
<polyline points="420.1,51.7 419.6,51.9" stroke="#77ff87" stroke-width="1.87"/>
<polyline points="419.6,51.9 419.2,52.0" stroke="#89ff75" stroke-width="1.92"/>
<polyline points="419.2,52.0 418.8,52.1" stroke="#9eff60" stroke-width="1.98"/>
<polyline points="418.8,52.1 418.3,52.3" stroke="#b2ff4c" stroke-width="2.05"/>
<polyline points="418.3,52.3 417.9,52.4" stroke="#c6ff38" stroke-width="2.11"/>
<polyline points="417.9,52.4 417.5,52.5" stroke="#dbff23" stroke-width="2.18"/>
<polyline points="417.5,52.5 417.1,52.7" stroke="#efff0f" stroke-width="2.24"/>
<polyline points="417.1,52.7 416.7,52.8" stroke="#fffd00" stroke-width="2.3"/>
<polyline points="416.7,52.8 416.3,52.9" stroke="#fff000" stroke-width="2.34"/>
<polyline points="416.3,52.9 415.9,53.1" stroke="#ffe400" stroke-width="2.38"/>
<polyline points="415.9,53.1 415.4,53.2" stroke="#ffd700" stroke-width="2.43"/>
<polyline points="415.4,53.2 415.0,53.4" stroke="#ffca00" stroke-width="2.47"/>
<polyline points="415.0,53.4 414.7,53.5" stroke="#ffbd00" stroke-width="2.52"/>
<polyline points="414.7,53.5 414.3,53.6" stroke="#ffb100" stroke-width="2.57"/>
<polyline points="414.3,53.6 413.9,53.8" stroke="#ffa400" stroke-width="2.61"/>
<polyline points="413.9,53.8 413.5,53.9" stroke="#ff9600" stroke-width="2.66"/>
<polyline points="413.5,53.9 413.1,54.1" stroke="#ff8700" stroke-width="2.72"/>
<polyline points="413.1,54.1 412.7,54.2" stroke="#ff7700" stroke-width="2.78"/>
<polyline points="412.7,54.2 412.4,54.4" stroke="#ff6800" stroke-width="2.84"/>
<polyline points="412.4,54.4 412.0,54.5" stroke="#ff5900" stroke-width="2.89"/>
<polyline points="412.0,54.5 411.6,54.7" stroke="#ff4900" stroke-width="2.95"/>
<polyline points="411.6,54.7 411.3,54.8" stroke="#ff3a00" stroke-width="3.01"/>
<polyline points="411.3,54.8 410.9,55.0" stroke="#ff2b00" stroke-width="3.08"/>
<polyline points="410.9,55.0 410.5,55.1" stroke="#ff2100" stroke-width="3.11"/>
<polyline points="410.5,55.1 410.2,55.3" stroke="#ff1e00" stroke-width="3.13"/>
<polyline points="410.2,55.3 409.8,55.4" stroke="#ff1b00" stroke-width="3.14"/>
<polyline points="409.8,55.4 409.5,55.6" stroke="#ff1700" stroke-width="3.15"/>
<polyline points="409.5,55.6 409.1,55.7" stroke="#ff1400" stroke-width="3.17"/>
<polyline points="409.1,55.7 408.8,55.9" stroke="#ff1100" stroke-width="3.18"/>
<polyline points="408.8,55.9 408.5,56.1" stroke="#ff0d00" stroke-width="3.2"/>
<polyline points="408.5,56.1 408.1,56.2" stroke="#ff0a00" stroke-width="3.21"/>
<polyline points="408.1,56.2 407.8,56.4" stroke="#ff0600" stroke-width="3.22"/>
<polyline points="407.8,56.4 407.5,56.5" stroke="#ff0300" stroke-width="3.24"/>
<polyline points="407.5,56.5 407.1,56.7" stroke="#ff0000" stroke-width="3.25"/>
<polyline points="407.1,56.7 406.8,56.9" stroke="#fb0000" stroke-width="3.27"/>
<polyline points="406.8,56.9 406.5,57.0" stroke="#f60000" stroke-width="3.29"/>
<polyline points="406.5,57.0 406.2,57.2" stroke="#ef0000" stroke-width="3.32"/>
<polyline points="406.2,57.2 405.8,57.3" stroke="#e80000" stroke-width="3.34"/>
<polyline points="405.8,57.3 405.5,57.5" stroke="#e20000" stroke-width="3.37"/>
<polyline points="405.5,57.5 405.2,57.7" stroke="#db0000" stroke-width="3.4"/>
<polyline points="405.2,57.7 404.9,57.8" stroke="#d40000" stroke-width="3.43"/>
<polyline points="404.9,57.8 404.6,58.0" stroke="#cd0000" stroke-width="3.46"/>
<polyline points="404.6,58.0 404.3,58.2" stroke="#c60000" stroke-width="3.49"/>
<polyline points="404.3,58.2 404.0,58.3" stroke="#c00000" stroke-width="3.52"/>
<polyline points="404.0,58.3 403.7,58.5" stroke="#b90000" stroke-width="3.55"/>
<polyline points="403.7,58.5 403.4,58.7" stroke="#b20000" stroke-width="3.58"/>
<polyline points="403.4,58.7 403.1,58.8" stroke="#ab0000" stroke-width="3.6"/>
<polyline points="403.1,58.8 402.8,59.0" stroke="#a60000" stroke-width="3.63"/>
<polyline points="402.8,59.0 402.5,59.2" stroke="#a20000" stroke-width="3.65"/>
<polyline points="402.5,59.2 402.3,59.4" stroke="#9e0000" stroke-width="3.66"/>
<polyline points="402.3,59.4 402.0,59.5" stroke="#9a0000" stroke-width="3.68"/>
<polyline points="402.0,59.5 401.7,59.7" stroke="#950000" stroke-width="3.7"/>
<polyline points="401.7,59.7 401.4,59.9" stroke="#910000" stroke-width="3.72"/>
<polyline points="401.4,59.9 401.1,60.0" stroke="#8d0000" stroke-width="3.74"/>
<polyline points="401.1,60.0 400.9,60.2" stroke="#890000" stroke-width="3.75"/>
<polyline points="400.9,60.2 400.6,60.4" stroke="#850000" stroke-width="3.77"/>
<polyline points="400.6,60.4 400.3,60.6" stroke="#810000" stroke-width="3.79"/>
<polyline points="400.3,60.6 400.1,60.7" stroke="#800000" stroke-width="3.79"/>
<polyline points="400.1,60.7 399.8,60.9" stroke="#830000" stroke-width="3.78"/>
<polyline points="399.8,60.9 399.5,61.1" stroke="#850000" stroke-width="3.77"/>
<polyline points="399.5,61.1 399.3,61.3" stroke="#880000" stroke-width="3.76"/>
<polyline points="399.3,61.3 399.0,61.5" stroke="#8a0000" stroke-width="3.75"/>
<polyline points="399.0,61.5 398.8,61.6" stroke="#8d0000" stroke-width="3.74"/>
<polyline points="398.8,61.6 398.5,61.8" stroke="#900000" stroke-width="3.73"/>
<polyline points="398.5,61.8 398.2,62.0" stroke="#920000" stroke-width="3.71"/>
<polyline points="398.2,62.0 398.0,62.2" stroke="#950000" stroke-width="3.7"/>
<polyline points="398.0,62.2 397.8,62.3" stroke="#970000" stroke-width="3.69"/>
<polyline points="397.8,62.3 397.5,62.5" stroke="#9a0000" stroke-width="3.68"/>
<polyline points="397.5,62.5 397.3,62.7" stroke="#9c0000" stroke-width="3.67"/>
<polyline points="397.3,62.7 397.0,62.9" stroke="#a20000" stroke-width="3.64"/>
<polyline points="397.0,62.9 396.8,63.1" stroke="#ab0000" stroke-width="3.6"/>
<polyline points="396.8,63.1 396.5,63.3" stroke="#b50000" stroke-width="3.56"/>
<polyline points="396.5,63.3 396.3,63.4" stroke="#be0000" stroke-width="3.52"/>
<polyline points="396.3,63.4 396.1,63.6" stroke="#c70000" stroke-width="3.49"/>
<polyline points="396.1,63.6 395.8,63.8" stroke="#d00000" stroke-width="3.45"/>
<polyline points="395.8,63.8 395.6,64.0" stroke="#d90000" stroke-width="3.41"/>
<polyline points="395.6,64.0 395.4,64.2" stroke="#e20000" stroke-width="3.37"/>
<polyline points="395.4,64.2 395.2,64.4" stroke="#ec0000" stroke-width="3.33"/>
<polyline points="395.2,64.4 394.9,64.5" stroke="#f50000" stroke-width="3.29"/>
<polyline points="394.9,64.5 394.7,64.7" stroke="#fd0000" stroke-width="3.26"/>
<polyline points="394.7,64.7 394.5,64.9" stroke="#ff0700" stroke-width="3.22"/>
<polyline points="394.5,64.9 394.3,65.1" stroke="#ff0f00" stroke-width="3.19"/>
<polyline points="394.3,65.1 394.1,65.3" stroke="#ff1700" stroke-width="3.16"/>
<polyline points="394.1,65.3 393.8,65.5" stroke="#ff1f00" stroke-width="3.12"/>
<polyline points="393.8,65.5 393.6,65.7" stroke="#ff2700" stroke-width="3.09"/>
<polyline points="393.6,65.7 393.4,65.8" stroke="#ff2f00" stroke-width="3.06"/>
<polyline points="393.4,65.8 393.2,66.0" stroke="#ff3800" stroke-width="3.02"/>
<polyline points="393.2,66.0 393.0,66.2" stroke="#ff4000" stroke-width="2.99"/>
<polyline points="393.0,66.2 392.8,66.4" stroke="#ff4800" stroke-width="2.96"/>
<polyline points="392.8,66.4 392.6,66.6" stroke="#ff5400" stroke-width="2.91"/>
<polyline points="392.6,66.6 392.4,66.8" stroke="#ff6300" stroke-width="2.86"/>
<polyline points="392.4,66.8 392.2,67.0" stroke="#ff7200" stroke-width="2.8"/>
<polyline points="392.2,67.0 392.0,67.2" stroke="#ff8200" stroke-width="2.74"/>
<polyline points="392.0,67.2 391.8,67.4" stroke="#ff9100" stroke-width="2.68"/>
<polyline points="391.8,67.4 391.6,67.6" stroke="#ffa000" stroke-width="2.63"/>
<polyline points="391.6,67.6 391.4,67.7" stroke="#ffaf00" stroke-width="2.57"/>
<polyline points="391.4,67.7 391.2,67.9" stroke="#ffbf00" stroke-width="2.51"/>
<polyline points="391.2,67.9 391.0,68.1" stroke="#ffcd00" stroke-width="2.46"/>
<polyline points="391.0,68.1 390.8,68.3" stroke="#ffdb00" stroke-width="2.41"/>
<polyline points="390.8,68.3 390.6,68.5" stroke="#ffe900" stroke-width="2.37"/>
<polyline points="390.6,68.5 390.4,68.7" stroke="#fff700" stroke-width="2.32"/>
<polyline points="390.4,68.7 390.3,68.9" stroke="#f7ff07" stroke-width="2.27"/>
<polyline points="390.3,68.9 390.1,69.1" stroke="#e9ff15" stroke-width="2.22"/>
<polyline points="390.1,69.1 389.9,69.3" stroke="#dbff23" stroke-width="2.18"/>
<polyline points="389.9,69.3 389.7,69.5" stroke="#cdff31" stroke-width="2.13"/>
<polyline points="389.7,69.5 389.5,69.7" stroke="#c2ff3c" stroke-width="2.1"/>
<polyline points="389.5,69.7 389.4,69.9" stroke="#baff44" stroke-width="2.07"/>
<polyline points="389.4,69.9 389.2,70.1" stroke="#b2ff4c" stroke-width="2.05"/>
<polyline points="389.2,70.1 389.0,70.3" stroke="#aaff54" stroke-width="2.02"/>
<polyline points="389.0,70.3 388.8,70.5" stroke="#a2ff5c" stroke-width="2.0"/>
<polyline points="388.8,70.5 388.7,70.7" stroke="#9aff64" stroke-width="1.97"/>
<polyline points="388.7,70.7 388.5,70.9" stroke="#92ff6c" stroke-width="1.95"/>
<polyline points="388.5,70.9 388.3,71.1" stroke="#8aff74" stroke-width="1.92"/>
<polyline points="388.3,71.1 388.1,71.3" stroke="#82ff7c" stroke-width="1.9"/>
<polyline points="388.1,71.3 388.0,71.5" stroke="#7aff84" stroke-width="1.88"/>
<polyline points="388.0,71.5 387.8,71.7" stroke="#72ff8c" stroke-width="1.85"/>
<polyline points="387.8,71.7 387.6,71.9" stroke="#6aff94" stroke-width="1.83"/>
<polyline points="387.6,71.9 387.5,72.1" stroke="#62ff9c" stroke-width="1.81"/>
<polyline points="387.5,72.1 387.3,72.3" stroke="#5affa4" stroke-width="1.78"/>
<polyline points="387.3,72.3 387.2,72.5" stroke="#55ffa9" stroke-width="1.77"/>
<polyline points="387.2,72.5 387.0,72.7" stroke="#52ffac" stroke-width="1.76"/>
<polyline points="387.0,72.7 386.8,72.9" stroke="#50ffae" stroke-width="1.75"/>
<polyline points="386.8,72.9 386.7,73.1" stroke="#4dffb1" stroke-width="1.75"/>
<polyline points="386.7,73.1 386.5,73.3" stroke="#4bffb3" stroke-width="1.74"/>
<polyline points="386.5,73.3 386.4,73.5" stroke="#48ffb6" stroke-width="1.73"/>
<polyline points="386.4,73.5 386.2,73.7" stroke="#46ffb8" stroke-width="1.73"/>
<polyline points="386.2,73.7 386.1,73.9" stroke="#43ffbb" stroke-width="1.72"/>
<polyline points="386.1,73.9 385.9,74.1" stroke="#41ffbd" stroke-width="1.71"/>
<polyline points="385.9,74.1 385.8,74.3" stroke="#3effc0" stroke-width="1.71"/>
<polyline points="385.8,74.3 385.6,74.5" stroke="#3bffc3" stroke-width="1.7"/>
<polyline points="385.6,74.5 385.5,74.7" stroke="#39ffc5" stroke-width="1.69"/>
<polyline points="385.5,74.7 385.3,74.9" stroke="#36ffc8" stroke-width="1.69"/>
<polyline points="385.3,74.9 385.2,75.1" stroke="#34ffca" stroke-width="1.68"/>
<polyline points="385.2,75.1 385.1,75.3" stroke="#31ffcd" stroke-width="1.67"/>
<polyline points="385.1,75.3 384.9,75.5" stroke="#2fffcf" stroke-width="1.66"/>
<polyline points="384.9,75.5 384.8,75.7" stroke="#2cffd2" stroke-width="1.66"/>
<polyline points="384.8,75.7 384.6,76.0" stroke="#2affd4" stroke-width="1.65"/>
<polyline points="384.6,76.0 384.5,76.2" stroke="#27ffd7" stroke-width="1.64"/>
<polyline points="384.5,76.2 384.4,76.4" stroke="#24ffda" stroke-width="1.64"/>
<polyline points="384.4,76.4 384.2,76.6" stroke="#22ffdc" stroke-width="1.63"/>
<polyline points="384.2,76.6 384.1,76.8" stroke="#1fffdf" stroke-width="1.62"/>
<polyline points="384.1,76.8 384.0,77.0" stroke="#1dffe1" stroke-width="1.62"/>
<polyline points="384.0,77.0 383.8,77.2" stroke="#1affe4" stroke-width="1.61"/>
<polyline points="383.8,77.2 383.7,77.4 383.6,77.6 383.4,77.8 383.3,78.1 383.2,78.3 383.1,78.5 382.9,78.7 382.8,78.9 382.7,79.1 382.6,79.3 382.5,79.6 382.3,79.8 382.2,80.0 382.1,80.2 382.0,80.4 381.9,80.7 381.8,80.9 381.7,81.1 381.6,81.3 381.5,81.5 381.3,81.8 381.2,82.0 381.1,82.2 381.0,82.4 380.9,82.6 380.8,82.9 380.7,83.1 380.6,83.3 380.5,83.6 380.4,83.8 380.3,84.0 380.2,84.2 380.1,84.5 380.1,84.7 380.0,84.9 379.9,85.1 379.8,85.4 379.7,85.6 379.6,85.8 379.5,86.1 379.4,86.3 379.3,86.5" stroke="#19ffe5" stroke-width="1.61"/>
<polyline points="379.3,86.5 379.3,86.8" stroke="#1bffe3" stroke-width="1.61"/>
<polyline points="379.3,86.8 379.2,87.0" stroke="#20ffde" stroke-width="1.62"/>
<polyline points="379.2,87.0 379.1,87.3" stroke="#24ffda" stroke-width="1.64"/>
<polyline points="379.1,87.3 379.0,87.5" stroke="#28ffd6" stroke-width="1.65"/>
<polyline points="379.0,87.5 378.9,87.7" stroke="#2dffd1" stroke-width="1.66"/>
<polyline points="378.9,87.7 378.9,88.0" stroke="#31ffcd" stroke-width="1.67"/>
<polyline points="378.9,88.0 378.8,88.2" stroke="#35ffc9" stroke-width="1.68"/>
<polyline points="378.8,88.2 378.7,88.4" stroke="#3affc4" stroke-width="1.69"/>
<polyline points="378.7,88.4 378.6,88.7" stroke="#3effc0" stroke-width="1.71"/>
<polyline points="378.6,88.7 378.6,88.9" stroke="#43ffbb" stroke-width="1.72"/>
<polyline points="378.6,88.9 378.5,89.2" stroke="#47ffb7" stroke-width="1.73"/>
<polyline points="378.5,89.2 378.4,89.4" stroke="#4bffb3" stroke-width="1.74"/>
<polyline points="378.4,89.4 378.4,89.6" stroke="#50ffae" stroke-width="1.75"/>
<polyline points="378.4,89.6 378.3,89.9" stroke="#54ffaa" stroke-width="1.77"/>
<polyline points="378.3,89.9 378.2,90.1" stroke="#5affa4" stroke-width="1.78"/>
<polyline points="378.2,90.1 378.2,90.4" stroke="#62ff9c" stroke-width="1.81"/>
<polyline points="378.2,90.4 378.1,90.6" stroke="#69ff95" stroke-width="1.83"/>
<polyline points="378.1,90.6 378.0,90.9" stroke="#71ff8d" stroke-width="1.85"/>
<polyline points="378.0,90.9 378.0,91.1" stroke="#79ff85" stroke-width="1.87"/>
<polyline points="378.0,91.1 377.9,91.4" stroke="#80ff7e" stroke-width="1.89"/>
<polyline points="377.9,91.4 377.8,91.6" stroke="#88ff76" stroke-width="1.92"/>
<polyline points="377.8,91.6 377.8,91.9" stroke="#90ff6e" stroke-width="1.94"/>
<polyline points="377.8,91.9 377.7,92.1" stroke="#97ff67" stroke-width="1.96"/>
<polyline points="377.7,92.1 377.7,92.4" stroke="#9fff5f" stroke-width="1.99"/>
<polyline points="377.7,92.4 377.6,92.6" stroke="#a7ff57" stroke-width="2.01"/>
<polyline points="377.6,92.6 377.6,92.9" stroke="#aeff50" stroke-width="2.03"/>
<polyline points="377.6,92.9 377.5,93.1" stroke="#b8ff46" stroke-width="2.06"/>
<polyline points="377.5,93.1 377.4,93.4" stroke="#c4ff3a" stroke-width="2.1"/>
<polyline points="377.4,93.4 377.4,93.6" stroke="#d0ff2e" stroke-width="2.14"/>
<polyline points="377.4,93.6 377.3,93.9" stroke="#dcff22" stroke-width="2.18"/>
<polyline points="377.3,93.9 377.3,94.2" stroke="#e9ff15" stroke-width="2.22"/>
<polyline points="377.3,94.2 377.2,94.4" stroke="#f5ff09" stroke-width="2.26"/>
<polyline points="377.2,94.4 377.2,94.7" stroke="#fffc00" stroke-width="2.3"/>
<polyline points="377.2,94.7 377.2,94.9" stroke="#fff000" stroke-width="2.34"/>
<polyline points="377.2,94.9 377.1,95.2" stroke="#ffe400" stroke-width="2.38"/>
<polyline points="377.1,95.2 377.1,95.5" stroke="#ffd800" stroke-width="2.43"/>
<polyline points="377.1,95.5 377.0,95.7" stroke="#ffcc00" stroke-width="2.47"/>
<polyline points="377.0,95.7 377.0,96.0" stroke="#ffc000" stroke-width="2.51"/>
<polyline points="377.0,96.0 376.9,96.2" stroke="#ffb400" stroke-width="2.55"/>
<polyline points="376.9,96.2 376.9,96.5" stroke="#ffa700" stroke-width="2.6"/>
<polyline points="376.9,96.5 376.9,96.8" stroke="#ff9b00" stroke-width="2.64"/>
<polyline points="376.9,96.8 376.8,97.0" stroke="#ff8f00" stroke-width="2.69"/>
<polyline points="376.8,97.0 376.8,97.3" stroke="#ff8600" stroke-width="2.72"/>
<polyline points="376.8,97.3 376.8,97.6" stroke="#ff7e00" stroke-width="2.75"/>
<polyline points="376.8,97.6 376.7,97.9" stroke="#ff7700" stroke-width="2.78"/>
<polyline points="376.7,97.9 376.7,98.1" stroke="#ff7000" stroke-width="2.8"/>
<polyline points="376.7,98.1 376.7,98.4" stroke="#ff6900" stroke-width="2.83"/>
<polyline points="376.7,98.4 376.6,98.7" stroke="#ff6200" stroke-width="2.86"/>
<polyline points="376.6,98.7 376.6,99.0" stroke="#ff5b00" stroke-width="2.89"/>
<polyline points="376.6,99.0 376.6,99.2" stroke="#ff5400" stroke-width="2.91"/>
<polyline points="376.6,99.2 376.6,99.5" stroke="#ff4d00" stroke-width="2.94"/>
<polyline points="376.6,99.5 376.5,99.8" stroke="#ff4500" stroke-width="2.97"/>
<polyline points="376.5,99.8 376.5,100.1" stroke="#ff3e00" stroke-width="3.0"/>
<polyline points="376.5,100.1 376.5,100.3" stroke="#ff3700" stroke-width="3.03"/>
<polyline points="376.5,100.3 376.5,100.6" stroke="#ff3000" stroke-width="3.06"/>
<polyline points="376.5,100.6 376.5,100.9" stroke="#ff2900" stroke-width="3.08"/>
<polyline points="376.5,100.9 376.5,101.2" stroke="#ff2200" stroke-width="3.11"/>
<polyline points="376.5,101.2 376.4,101.5" stroke="#ff1b00" stroke-width="3.14"/>
<polyline points="376.4,101.5 376.4,101.8" stroke="#ff1300" stroke-width="3.17"/>
<polyline points="376.4,101.8 376.4,102.0" stroke="#ff0c00" stroke-width="3.2"/>
<polyline points="376.4,102.0 376.4,102.3" stroke="#ff0500" stroke-width="3.23"/>
<polyline points="376.4,102.3 376.4,102.6" stroke="#fd0000" stroke-width="3.26"/>
<polyline points="376.4,102.6 376.4,102.9" stroke="#fa0000" stroke-width="3.27"/>
<polyline points="376.4,102.9 376.4,103.2" stroke="#fb0000" stroke-width="3.26"/>
<polyline points="376.4,103.2 376.4,103.5" stroke="#fd0000" stroke-width="3.26"/>
<polyline points="376.4,103.5 376.4,103.8" stroke="#fe0000" stroke-width="3.25"/>
<polyline points="376.4,103.8 376.4,104.1" stroke="#ff0000" stroke-width="3.25"/>
<polyline points="376.4,104.1 376.4,104.4" stroke="#ff0100" stroke-width="3.24"/>
<polyline points="376.4,104.4 376.4,104.7" stroke="#ff0300" stroke-width="3.24"/>
<polyline points="376.4,104.7 376.4,105.0" stroke="#ff0400" stroke-width="3.23"/>
<polyline points="376.4,105.0 376.4,105.3" stroke="#ff0500" stroke-width="3.23"/>
<polyline points="376.4,105.3 376.4,105.6" stroke="#ff0700" stroke-width="3.22"/>
<polyline points="376.4,105.6 376.4,105.9" stroke="#ff0800" stroke-width="3.22"/>
<polyline points="376.4,105.9 376.4,106.2" stroke="#ff0900" stroke-width="3.21"/>
<polyline points="376.4,106.2 376.4,106.5" stroke="#ff0a00" stroke-width="3.21"/>
<polyline points="376.4,106.5 376.4,106.8" stroke="#ff0c00" stroke-width="3.2"/>
<polyline points="376.4,106.8 376.4,107.1" stroke="#ff0d00" stroke-width="3.2"/>
<polyline points="376.4,107.1 376.5,107.4" stroke="#ff0e00" stroke-width="3.19"/>
<polyline points="376.5,107.4 376.5,107.7" stroke="#ff1200" stroke-width="3.18"/>
<polyline points="376.5,107.7 376.5,108.0" stroke="#ff1800" stroke-width="3.15"/>
<polyline points="376.5,108.0 376.5,108.3" stroke="#ff1f00" stroke-width="3.12"/>
<polyline points="376.5,108.3 376.5,108.7" stroke="#ff2500" stroke-width="3.1"/>
<polyline points="376.5,108.7 376.6,109.0" stroke="#ff2b00" stroke-width="3.07"/>
<polyline points="376.6,109.0 376.6,109.3" stroke="#ff3200" stroke-width="3.05"/>
<polyline points="376.6,109.3 376.6,109.6" stroke="#ff3800" stroke-width="3.02"/>
<polyline points="376.6,109.6 376.6,109.9" stroke="#ff3f00" stroke-width="3.0"/>
<polyline points="376.6,109.9 376.7,110.3" stroke="#ff4500" stroke-width="2.97"/>
<polyline points="376.7,110.3 376.7,110.6" stroke="#ff4b00" stroke-width="2.95"/>
<polyline points="376.7,110.6 376.7,110.9" stroke="#ff5200" stroke-width="2.92"/>
<polyline points="376.7,110.9 376.8,111.2" stroke="#ff5800" stroke-width="2.9"/>
<polyline points="376.8,111.2 376.8,111.6" stroke="#ff5e00" stroke-width="2.87"/>
<polyline points="376.8,111.6 376.9,111.9" stroke="#ff6500" stroke-width="2.85"/>
<polyline points="376.9,111.9 376.9,112.2" stroke="#ff6b00" stroke-width="2.82"/>
<polyline points="376.9,112.2 377.0,112.5" stroke="#ff7200" stroke-width="2.8"/>
<polyline points="377.0,112.5 377.0,112.9" stroke="#ff7800" stroke-width="2.78"/>
<polyline points="377.0,112.9 377.1,113.2" stroke="#ff7e00" stroke-width="2.75"/>
<polyline points="377.1,113.2 377.1,113.6" stroke="#ff8300" stroke-width="2.73"/>
<polyline points="377.1,113.6 377.2,113.9" stroke="#ff8900" stroke-width="2.71"/>
<polyline points="377.2,113.9 377.2,114.2" stroke="#ff8f00" stroke-width="2.69"/>
<polyline points="377.2,114.2 377.3,114.6" stroke="#ff9500" stroke-width="2.67"/>
<polyline points="377.3,114.6 377.3,114.9" stroke="#ff9b00" stroke-width="2.65"/>
<polyline points="377.3,114.9 377.4,115.3" stroke="#ffa100" stroke-width="2.62"/>
<polyline points="377.4,115.3 377.5,115.6" stroke="#ffa600" stroke-width="2.6"/>
<polyline points="377.5,115.6 377.5,116.0" stroke="#ffac00" stroke-width="2.58"/>
<polyline points="377.5,116.0 377.6,116.3" stroke="#ffb200" stroke-width="2.56"/>
<polyline points="377.6,116.3 377.7,116.7" stroke="#ffb800" stroke-width="2.54"/>
<polyline points="377.7,116.7 377.7,117.0" stroke="#ffbe00" stroke-width="2.52"/>
<polyline points="377.7,117.0 377.8,117.4" stroke="#ffc300" stroke-width="2.5"/>
<polyline points="377.8,117.4 377.9,117.7" stroke="#ffc900" stroke-width="2.48"/>
<polyline points="377.9,117.7 378.0,118.1" stroke="#ffcd00" stroke-width="2.46"/>
<polyline points="378.0,118.1 378.0,118.5" stroke="#ffd200" stroke-width="2.45"/>
<polyline points="378.0,118.5 378.1,118.8" stroke="#ffd600" stroke-width="2.43"/>
<polyline points="378.1,118.8 378.2,119.2" stroke="#ffdb00" stroke-width="2.42"/>
<polyline points="378.2,119.2 378.3,119.6" stroke="#ffdf00" stroke-width="2.4"/>
<polyline points="378.3,119.6 378.4,119.9" stroke="#ffe400" stroke-width="2.38"/>
<polyline points="378.4,119.9 378.5,120.3" stroke="#ffe800" stroke-width="2.37"/>
<polyline points="378.5,120.3 378.6,120.7" stroke="#ffed00" stroke-width="2.35"/>
<polyline points="378.6,120.7 378.7,121.0" stroke="#fff100" stroke-width="2.34"/>
<polyline points="378.7,121.0 378.8,121.4" stroke="#fff600" stroke-width="2.32"/>
<polyline points="378.8,121.4 378.9,121.8" stroke="#fffb00" stroke-width="2.31"/>
<polyline points="378.9,121.8 379.0,122.2" stroke="#feff00" stroke-width="2.29"/>
<polyline points="379.0,122.2 379.1,122.6" stroke="#f9ff05" stroke-width="2.28"/>
<polyline points="379.1,122.6 379.2,122.9" stroke="#f5ff09" stroke-width="2.26"/>
<polyline points="379.2,122.9 379.4,123.3" stroke="#f0ff0e" stroke-width="2.25"/>
<polyline points="379.4,123.3 379.5,123.7" stroke="#ecff12" stroke-width="2.23"/>
<polyline points="379.5,123.7 379.6,124.1" stroke="#e7ff17" stroke-width="2.22"/>
<polyline points="379.6,124.1 379.7,124.5" stroke="#e1ff1d" stroke-width="2.19"/>
<polyline points="379.7,124.5 379.9,124.9" stroke="#d8ff26" stroke-width="2.17"/>
<polyline points="379.9,124.9 380.0,125.3" stroke="#cfff2f" stroke-width="2.14"/>
<polyline points="380.0,125.3 380.1,125.7" stroke="#c6ff38" stroke-width="2.11"/>
<polyline points="380.1,125.7 380.3,126.1" stroke="#beff40" stroke-width="2.08"/>
<polyline points="380.3,126.1 380.4,126.5" stroke="#b5ff49" stroke-width="2.05"/>
<polyline points="380.4,126.5 380.5,126.9" stroke="#acff52" stroke-width="2.03"/>
<polyline points="380.5,126.9 380.7,127.3" stroke="#a3ff5b" stroke-width="2.0"/>
<polyline points="380.7,127.3 380.8,127.7" stroke="#9bff63" stroke-width="1.97"/>
<polyline points="380.8,127.7 381.0,128.1" stroke="#92ff6c" stroke-width="1.95"/>
<polyline points="381.0,128.1 381.2,128.6" stroke="#89ff75" stroke-width="1.92"/>
<polyline points="381.2,128.6 381.3,129.0" stroke="#80ff7e" stroke-width="1.89"/>
<polyline points="381.3,129.0 381.5,129.4" stroke="#78ff86" stroke-width="1.87"/>
<polyline points="381.5,129.4 381.7,129.8" stroke="#6fff8f" stroke-width="1.84"/>
<polyline points="381.7,129.8 381.8,130.2" stroke="#66ff98" stroke-width="1.82"/>
<polyline points="381.8,130.2 382.0,130.7" stroke="#5effa0" stroke-width="1.79"/>
<polyline points="382.0,130.7 382.2,131.1" stroke="#55ffa9" stroke-width="1.77"/>
<polyline points="382.2,131.1 382.4,131.5" stroke="#4dffb1" stroke-width="1.75"/>
<polyline points="382.4,131.5 382.6,132.0" stroke="#44ffba" stroke-width="1.72"/>
<polyline points="382.6,132.0 382.7,132.4" stroke="#3cffc2" stroke-width="1.7"/>
<polyline points="382.7,132.4 382.9,132.8" stroke="#33ffcb" stroke-width="1.68"/>
<polyline points="382.9,132.8 383.1,133.3" stroke="#2bffd3" stroke-width="1.65"/>
<polyline points="383.1,133.3 383.3,133.7" stroke="#22ffdc" stroke-width="1.63"/>
<polyline points="383.3,133.7 383.5,134.2" stroke="#1affe4" stroke-width="1.61"/>
<polyline points="383.5,134.2 383.8,134.6" stroke="#11ffed" stroke-width="1.59"/>
<polyline points="383.8,134.6 384.0,135.1" stroke="#09fff5" stroke-width="1.57"/>
<polyline points="384.0,135.1 384.2,135.5" stroke="#00fbff" stroke-width="1.54"/>
<polyline points="384.2,135.5 384.4,136.0" stroke="#00ebff" stroke-width="1.5"/>
<polyline points="384.4,136.0 384.7,136.4" stroke="#00dbff" stroke-width="1.46"/>
<polyline points="384.7,136.4 384.9,136.9" stroke="#00caff" stroke-width="1.42"/>
<polyline points="384.9,136.9 385.1,137.4" stroke="#00baff" stroke-width="1.38"/>
<polyline points="385.1,137.4 385.4,137.8" stroke="#00aaff" stroke-width="1.35"/>
<polyline points="385.4,137.8 385.6,138.3" stroke="#009aff" stroke-width="1.31"/>
<polyline points="385.6,138.3 385.9,138.8" stroke="#0089ff" stroke-width="1.28"/>
<polyline points="385.9,138.8 386.1,139.3" stroke="#0079ff" stroke-width="1.25"/>
<polyline points="386.1,139.3 386.4,139.7" stroke="#0069ff" stroke-width="1.22"/>
<polyline points="386.4,139.7 386.7,140.2" stroke="#005aff" stroke-width="1.19"/>
<polyline points="386.7,140.2 386.9,140.7" stroke="#004fff" stroke-width="1.17"/>
<polyline points="386.9,140.7 387.2,141.2" stroke="#0043ff" stroke-width="1.15"/>
<polyline points="387.2,141.2 387.5,141.7" stroke="#0037ff" stroke-width="1.13"/>
<polyline points="387.5,141.7 387.8,142.2" stroke="#002bff" stroke-width="1.11"/>
<polyline points="387.8,142.2 388.1,142.7" stroke="#001fff" stroke-width="1.1"/>
<polyline points="388.1,142.7 388.4,143.2" stroke="#0013ff" stroke-width="1.08"/>
<polyline points="388.4,143.2 388.7,143.7" stroke="#0007ff" stroke-width="1.06"/>
<polyline points="388.7,143.7 389.0,144.2" stroke="#0000fa" stroke-width="1.05"/>
<polyline points="389.0,144.2 389.3,144.7" stroke="#0000ee" stroke-width="1.03"/>
<polyline points="389.3,144.7 389.6,145.2" stroke="#0000e2" stroke-width="1.02"/>
<polyline points="389.6,145.2 390.0,145.7" stroke="#0000d7" stroke-width="1.01"/>
<polyline points="390.0,145.7 390.3,146.2" stroke="#0000cf" stroke-width="1.0"/>
<polyline points="390.3,146.2 390.7,146.7" stroke="#0000cb" stroke-width="0.99"/>
<polyline points="390.7,146.7 391.0,147.2" stroke="#0000c8" stroke-width="0.99"/>
<polyline points="391.0,147.2 391.4,147.8" stroke="#0000c4" stroke-width="0.99"/>
<polyline points="391.4,147.8 391.7,148.3" stroke="#0000c1" stroke-width="0.99"/>
<polyline points="391.7,148.3 392.1,148.8" stroke="#0000bd" stroke-width="0.98"/>
<polyline points="392.1,148.8 392.5,149.3" stroke="#0000b8" stroke-width="0.98"/>
<polyline points="392.5,149.3 392.8,149.9" stroke="#0101b3" stroke-width="0.98"/>
<polyline points="392.8,149.9 393.2,150.4" stroke="#0202af" stroke-width="0.97"/>
<polyline points="393.2,150.4 393.6,151.0" stroke="#0303aa" stroke-width="0.97"/>
<polyline points="393.6,151.0 394.0,151.5" stroke="#0505a5" stroke-width="0.97"/>
<polyline points="394.0,151.5 394.4,152.1" stroke="#0606a1" stroke-width="0.97"/>
<polyline points="394.4,152.1 394.9,152.6" stroke="#07079c" stroke-width="0.96"/>
<polyline points="394.9,152.6 395.3,153.2" stroke="#080897" stroke-width="0.96"/>
<polyline points="395.3,153.2 395.7,153.7" stroke="#090993" stroke-width="0.96"/>
<polyline points="395.7,153.7 396.2,154.3" stroke="#0a0a8e" stroke-width="0.96"/>
<polyline points="396.2,154.3 396.6,154.8" stroke="#0b0b89" stroke-width="0.96"/>
<polyline points="396.6,154.8 397.1,155.4" stroke="#0c0c85" stroke-width="0.95"/>
<polyline points="397.1,155.4 397.5,156.0" stroke="#0d0d80" stroke-width="0.95"/>
<polyline points="397.5,156.0 398.0,156.5" stroke="#0e0e7b" stroke-width="0.95"/>
<polyline points="398.0,156.5 398.5,157.1 399.0,157.7 399.5,158.3" stroke="#0f0f79" stroke-width="0.95"/>
<polyline points="399.5,158.3 400.0,158.8 400.5,159.4 401.0,160.0 401.6,160.6 402.1,161.2 402.6,161.8 403.2,162.4 403.8,163.0 404.4,163.6" stroke="#0f0f78" stroke-width="0.95"/>
<polyline points="404.4,163.6 405.0,164.2 405.6,164.8 406.2,165.4 406.8,166.0 407.4,166.6 408.1,167.2 408.7,167.9 409.4,168.5" stroke="#0f0f77" stroke-width="0.95"/>
<polyline points="409.4,168.5 410.1,169.1 410.8,169.7 411.5,170.4 412.2,171.0 412.9,171.6 413.7,172.3 414.4,172.9 415.2,173.5 415.9,174.2" stroke="#0f0f76" stroke-width="0.95"/>
<polyline points="415.9,174.2 416.7,174.8 417.5,175.4 418.4,176.1 419.2,176.7 420.0,177.4 420.9,178.0 421.7,178.7 422.6,179.3 423.5,179.9" stroke="#0f0f75" stroke-width="0.95"/>
<polyline points="423.5,179.9 424.4,180.6" stroke="#0f0f74" stroke-width="0.95"/>
<polyline points="424.4,180.6 425.4,181.2 426.3,181.9 427.3,182.5 428.2,183.2 429.2,183.8 430.2,184.5 431.2,185.1" stroke="#101074" stroke-width="0.95"/>
<polyline points="431.2,185.1 432.3,185.7 433.3,186.4 434.4,187.0 435.5,187.6 436.6,188.3 437.7,188.9 438.8,189.5 439.9,190.2 441.1,190.8" stroke="#101073" stroke-width="0.95"/>
<polyline points="441.1,190.8 442.3,191.4 443.5,192.0 444.7,192.6 445.9,193.2 447.2,193.8 448.4,194.4 449.7,195.0 451.0,195.6 452.3,196.1" stroke="#101072" stroke-width="0.95"/>
<polyline points="452.3,196.1 453.6,196.7 455.0,197.3 456.4,197.8 457.7,198.3 459.1,198.9 460.6,199.4 462.0,199.9 463.4,200.4 464.9,200.9" stroke="#101071" stroke-width="0.95"/>
<polyline points="464.9,200.9 466.4,201.4" stroke="#101070" stroke-width="0.95"/>
</g>
<polyline points="397.69,145.56 398.06,146.12 398.44,146.68 398.83,147.25 399.22,147.82 399.63,148.39 400.04,148.98 400.46,149.56 400.89,150.15 401.33,150.75 401.77,151.35 402.23,151.95 402.70,152.56 403.17,153.18 403.66,153.79 404.16,154.42 404.66,155.05 405.18,155.68 405.71,156.32 406.25,156.96 406.80,157.61 407.36,158.26 407.93,158.92 408.52,159.58 409.12,160.24 409.73,160.91 410.35,161.59 410.98,162.27 411.63,162.95 412.29,163.64 412.96,164.33 413.65,165.03 414.35,165.73 415.06,166.43 415.79,167.14 416.54,167.86 417.29,168.57 418.07,169.29 418.86,170.02 419.66,170.75 420.48,171.48 421.31,172.21 422.17,172.95 423.03,173.69 423.92,174.43 424.82,175.18 425.74,175.93 426.67,176.67 427.63,177.43 428.60,178.18 429.59,178.94 430.59,179.69 431.62,180.45 432.66,181.21 433.72,181.96 434.81,182.72 435.91,183.48 437.03,184.24 438.17,184.99 439.32,185.75 440.50,186.50 441.70,187.25 442.92,188.00 444.16,188.74 445.42,189.48 446.70,190.22 447.99,190.95 449.31,191.67 450.65,192.40 452.01,193.11 453.39,193.82 454.79,194.52 456.21,195.21 457.65,195.89 459.11,196.56 460.59,197.23 462.09,197.88 463.60,198.52 465.14,199.15 466.69,199.76 468.26,200.36 469.85,200.94 471.46,201.51 473.08,202.06 474.72,202.60 476.38,203.11 478.05,203.61 479.73,204.08 481.43,204.54 483.14,204.97 484.86,205.38 486.59,205.76 488.33,206.12 490.09,206.45 491.85,206.76 493.61,207.04 495.39,207.28 497.16,207.50 498.94,207.69 500.73,207.84 502.51,207.96 504.29,208.05 506.07,208.10 507.85,208.12 509.62,208.09 511.39,208.03 513.14,207.94 514.89,207.80 516.62,207.62 518.34,207.41 520.05,207.15 521.74,206.85 523.41,206.51 525.06,206.12 526.69,205.70 528.29,205.22 529.87,204.71 531.41,204.15 532.93,203.55 534.42,202.90 535.88,202.21 537.30,201.47 538.68,200.69 540.03,199.87 541.33,199.01 542.59,198.10 543.82,197.15 544.99,196.16 546.12,195.12 547.21,194.05 548.24,192.94 549.23,191.79 550.16,190.60 551.05,189.38 551.88,188.12 552.66,186.82 553.38,185.50 554.05,184.14 554.67,182.75 555.23,181.33 555.74,179.89" fill="none" stroke="#5a5a5a" stroke-width="0.9"/>
<g fill="none" stroke-linecap="round" stroke-linejoin="round">
<polyline points="555.7,179.9 556.2,178.4 556.6,176.9 556.9,175.4 557.2,173.9 557.4,172.3 557.6,170.7 557.7,169.1 557.8,167.5 557.8,165.9 557.7,164.3 557.6,162.6 557.5,161.0 557.3,159.3 557.0,157.7 556.7,156.0 556.4,154.3 556.0,152.7 555.6,151.0 555.1,149.3 554.6,147.7 554.0,146.0 553.4,144.4 552.7,142.7 552.1,141.1 551.3,139.5 550.6,137.9 549.8,136.3 549.0,134.7 548.1,133.1 547.3,131.5 546.4,130.0 545.4,128.5 544.5,126.9 543.5,125.5 542.5,124.0 541.5,122.5 540.4,121.1 539.4,119.7 538.3,118.3 537.2,116.9 536.1,115.5 535.0,114.2 533.8,112.9 532.7,111.6 531.5,110.3 530.4,109.1 529.2,107.8 528.0,106.6 526.8,105.5 525.6,104.3 524.5,103.2 523.3,102.0 522.1,100.9 520.9,99.9 519.7,98.8 518.5,97.8 517.3,96.8 516.1,95.8 514.9,94.8 513.7,93.9" stroke="#12126c" stroke-width="0.95"/>
<polyline points="513.7,93.9 512.5,93.0 511.3,92.1" stroke="#11116c" stroke-width="0.95"/>
<polyline points="511.3,92.1 510.1,91.2" stroke="#11116d" stroke-width="0.95"/>
<polyline points="510.1,91.2 508.9,90.3 507.7,89.5" stroke="#11116e" stroke-width="0.95"/>
<polyline points="507.7,89.5 506.5,88.7 505.4,87.9" stroke="#11116f" stroke-width="0.95"/>
<polyline points="505.4,87.9 504.2,87.1" stroke="#101070" stroke-width="0.95"/>
<polyline points="504.2,87.1 503.1,86.3 501.9,85.6" stroke="#101071" stroke-width="0.95"/>
<polyline points="501.9,85.6 500.8,84.9 499.6,84.1" stroke="#101072" stroke-width="0.95"/>
<polyline points="499.6,84.1 498.5,83.5" stroke="#101073" stroke-width="0.95"/>
<polyline points="498.5,83.5 497.4,82.8 496.3,82.1" stroke="#101074" stroke-width="0.95"/>
<polyline points="496.3,82.1 495.2,81.5" stroke="#0f0f75" stroke-width="0.95"/>
<polyline points="495.2,81.5 494.1,80.9 493.0,80.3" stroke="#0f0f76" stroke-width="0.95"/>
<polyline points="493.0,80.3 491.9,79.7 490.8,79.1" stroke="#0f0f77" stroke-width="0.95"/>
<polyline points="490.8,79.1 489.8,78.5" stroke="#0f0f78" stroke-width="0.95"/>
<polyline points="489.8,78.5 488.7,78.0" stroke="#0f0f79" stroke-width="0.95"/>
<polyline points="488.7,78.0 487.7,77.4" stroke="#0e0e7b" stroke-width="0.95"/>
<polyline points="487.7,77.4 486.6,76.9" stroke="#0d0d7f" stroke-width="0.95"/>
<polyline points="486.6,76.9 485.6,76.4" stroke="#0c0c82" stroke-width="0.95"/>
<polyline points="485.6,76.4 484.6,75.9" stroke="#0c0c86" stroke-width="0.96"/>
<polyline points="484.6,75.9 483.6,75.5" stroke="#0b0b8a" stroke-width="0.96"/>
<polyline points="483.6,75.5 482.6,75.0" stroke="#0a0a8e" stroke-width="0.96"/>
<polyline points="482.6,75.0 481.6,74.6" stroke="#090992" stroke-width="0.96"/>
<polyline points="481.6,74.6 480.6,74.1" stroke="#080895" stroke-width="0.96"/>
<polyline points="480.6,74.1 479.6,73.7" stroke="#070799" stroke-width="0.96"/>
<polyline points="479.6,73.7 478.7,73.3" stroke="#06069d" stroke-width="0.96"/>
<polyline points="478.7,73.3 477.7,72.9" stroke="#0606a1" stroke-width="0.97"/>
<polyline points="477.7,72.9 476.8,72.5" stroke="#0505a5" stroke-width="0.97"/>
<polyline points="476.8,72.5 475.8,72.1" stroke="#0404a8" stroke-width="0.97"/>
<polyline points="475.8,72.1 474.9,71.8" stroke="#0303ac" stroke-width="0.97"/>
<polyline points="474.9,71.8 474.0,71.4" stroke="#0101b3" stroke-width="0.98"/>
<polyline points="474.0,71.4 473.1,71.1" stroke="#0000bd" stroke-width="0.98"/>
<polyline points="473.1,71.1 472.2,70.7" stroke="#0000c5" stroke-width="0.99"/>
<polyline points="472.2,70.7 471.3,70.4" stroke="#0000cd" stroke-width="1.0"/>
<polyline points="471.3,70.4 470.4,70.1" stroke="#0000d4" stroke-width="1.0"/>
<polyline points="470.4,70.1 469.6,69.8" stroke="#0000dc" stroke-width="1.01"/>
<polyline points="469.6,69.8 468.7,69.5" stroke="#0000e4" stroke-width="1.02"/>
<polyline points="468.7,69.5 467.8,69.2" stroke="#0000eb" stroke-width="1.03"/>
<polyline points="467.8,69.2 467.0,69.0" stroke="#0000f3" stroke-width="1.04"/>
<polyline points="467.0,69.0 466.2,68.7" stroke="#0000fb" stroke-width="1.05"/>
<polyline points="466.2,68.7 465.3,68.4" stroke="#0003ff" stroke-width="1.06"/>
<polyline points="465.3,68.4 464.5,68.2" stroke="#000bff" stroke-width="1.07"/>
<polyline points="464.5,68.2 463.7,68.0" stroke="#0018ff" stroke-width="1.08"/>
<polyline points="463.7,68.0 462.9,67.7" stroke="#0029ff" stroke-width="1.11"/>
<polyline points="462.9,67.7 462.1,67.5" stroke="#003bff" stroke-width="1.14"/>
<polyline points="462.1,67.5 461.4,67.3" stroke="#004cff" stroke-width="1.17"/>
<polyline points="461.4,67.3 460.6,67.1" stroke="#005dff" stroke-width="1.2"/>
<polyline points="460.6,67.1 459.8,66.9" stroke="#006fff" stroke-width="1.23"/>
<polyline points="459.8,66.9 459.1,66.7" stroke="#0080ff" stroke-width="1.26"/>
<polyline points="459.1,66.7 458.3,66.5" stroke="#0092ff" stroke-width="1.3"/>
<polyline points="458.3,66.5 457.6,66.3" stroke="#00a3ff" stroke-width="1.33"/>
<polyline points="457.6,66.3 456.8,66.2" stroke="#00b5ff" stroke-width="1.37"/>
<polyline points="456.8,66.2 456.1,66.0" stroke="#00c6ff" stroke-width="1.41"/>
<polyline points="456.1,66.0 455.4,65.8" stroke="#00d8ff" stroke-width="1.45"/>
<polyline points="455.4,65.8 454.7,65.7" stroke="#00e9ff" stroke-width="1.49"/>
<polyline points="454.7,65.7 454.0,65.5" stroke="#00fbff" stroke-width="1.53"/>
<polyline points="454.0,65.5 453.3,65.4" stroke="#0bfff3" stroke-width="1.57"/>
<polyline points="453.3,65.4 452.6,65.3" stroke="#17ffe7" stroke-width="1.6"/>
<polyline points="452.6,65.3 452.0,65.1" stroke="#24ffda" stroke-width="1.64"/>
<polyline points="452.0,65.1 451.3,65.0" stroke="#30ffce" stroke-width="1.67"/>
<polyline points="451.3,65.0 450.6,64.9" stroke="#3cffc2" stroke-width="1.7"/>
<polyline points="450.6,64.9 450.0,64.8" stroke="#49ffb5" stroke-width="1.74"/>
<polyline points="450.0,64.8 449.3,64.7" stroke="#55ffa9" stroke-width="1.77"/>
<polyline points="449.3,64.7 448.7,64.6" stroke="#61ff9d" stroke-width="1.8"/>
<polyline points="448.7,64.6 448.0,64.5" stroke="#6eff90" stroke-width="1.84"/>
<polyline points="448.0,64.5 447.4,64.4" stroke="#7aff84" stroke-width="1.88"/>
<polyline points="447.4,64.4 446.8,64.3" stroke="#87ff77" stroke-width="1.91"/>
<polyline points="446.8,64.3 446.2,64.2" stroke="#93ff6b" stroke-width="1.95"/>
<polyline points="446.2,64.2 445.6,64.1" stroke="#9fff5f" stroke-width="1.99"/>
<polyline points="445.6,64.1 445.0,64.1" stroke="#acff52" stroke-width="2.03"/>
<polyline points="445.0,64.1 444.4,64.0" stroke="#b5ff49" stroke-width="2.05"/>
<polyline points="444.4,64.0 443.8,63.9" stroke="#bbff43" stroke-width="2.07"/>
<polyline points="443.8,63.9 443.2,63.9" stroke="#c1ff3d" stroke-width="2.09"/>
<polyline points="443.2,63.9 442.7,63.8" stroke="#c7ff37" stroke-width="2.11"/>
<polyline points="442.7,63.8 442.1,63.8" stroke="#cdff31" stroke-width="2.13"/>
<polyline points="442.1,63.8 441.5,63.7" stroke="#d3ff2b" stroke-width="2.15"/>
<polyline points="441.5,63.7 441.0,63.7" stroke="#d9ff25" stroke-width="2.17"/>
<polyline points="441.0,63.7 440.4,63.6" stroke="#dfff1f" stroke-width="2.19"/>
<polyline points="440.4,63.6 439.9,63.6" stroke="#e5ff19" stroke-width="2.21"/>
<polyline points="439.9,63.6 439.3,63.5" stroke="#ebff13" stroke-width="2.23"/>
<polyline points="439.3,63.5 438.8,63.5" stroke="#f0ff0e" stroke-width="2.25"/>
<polyline points="438.8,63.5 438.3,63.5" stroke="#f6ff08" stroke-width="2.27"/>
<polyline points="438.3,63.5 437.8,63.5" stroke="#feff00" stroke-width="2.29"/>
<polyline points="437.8,63.5 437.3,63.4" stroke="#fff500" stroke-width="2.32"/>
<polyline points="437.3,63.4 436.7,63.4" stroke="#ffec00" stroke-width="2.36"/>
<polyline points="436.7,63.4 436.2,63.4" stroke="#ffe200" stroke-width="2.39"/>
<polyline points="436.2,63.4 435.7,63.4" stroke="#ffd900" stroke-width="2.42"/>
<polyline points="435.7,63.4 435.3,63.4" stroke="#ffd000" stroke-width="2.46"/>
<polyline points="435.3,63.4 434.8,63.4" stroke="#ffc600" stroke-width="2.49"/>
<polyline points="434.8,63.4 434.3,63.4" stroke="#ffbd00" stroke-width="2.52"/>
<polyline points="434.3,63.4 433.8,63.4" stroke="#ffb300" stroke-width="2.56"/>
<polyline points="433.8,63.4 433.3,63.4" stroke="#ffaa00" stroke-width="2.59"/>
<polyline points="433.3,63.4 432.9,63.4" stroke="#ffa000" stroke-width="2.63"/>
<polyline points="432.9,63.4 432.4,63.4" stroke="#ff9700" stroke-width="2.66"/>
<polyline points="432.4,63.4 431.9,63.4" stroke="#ff8d00" stroke-width="2.7"/>
<polyline points="431.9,63.4 431.5,63.4" stroke="#ff8400" stroke-width="2.73"/>
<polyline points="431.5,63.4 431.0,63.4" stroke="#ff7b00" stroke-width="2.76"/>
<polyline points="431.0,63.4 430.6,63.4" stroke="#ff7400" stroke-width="2.79"/>
<polyline points="430.6,63.4 430.2,63.5" stroke="#ff6d00" stroke-width="2.82"/>
<polyline points="430.2,63.5 429.7,63.5" stroke="#ff6500" stroke-width="2.85"/>
<polyline points="429.7,63.5 429.3,63.5" stroke="#ff5e00" stroke-width="2.87"/>
<polyline points="429.3,63.5 428.9,63.5" stroke="#ff5700" stroke-width="2.9"/>
<polyline points="428.9,63.5 428.5,63.5" stroke="#ff5000" stroke-width="2.93"/>
<polyline points="428.5,63.5 428.0,63.6" stroke="#ff4800" stroke-width="2.96"/>
<polyline points="428.0,63.6 427.6,63.6" stroke="#ff4100" stroke-width="2.99"/>
<polyline points="427.6,63.6 427.2,63.6" stroke="#ff3a00" stroke-width="3.02"/>
<polyline points="427.2,63.6 426.8,63.7" stroke="#ff3300" stroke-width="3.04"/>
<polyline points="426.8,63.7 426.4,63.7" stroke="#ff2b00" stroke-width="3.07"/>
<polyline points="426.4,63.7 426.0,63.7" stroke="#ff2400" stroke-width="3.1"/>
<polyline points="426.0,63.7 425.6,63.8" stroke="#ff1d00" stroke-width="3.13"/>
<polyline points="425.6,63.8 425.2,63.8" stroke="#ff1800" stroke-width="3.15"/>
<polyline points="425.2,63.8 424.8,63.9" stroke="#ff1700" stroke-width="3.16"/>
<polyline points="424.8,63.9 424.5,63.9" stroke="#ff1600" stroke-width="3.16"/>
<polyline points="424.5,63.9 424.1,64.0" stroke="#ff1500" stroke-width="3.17"/>
<polyline points="424.1,64.0 423.7,64.0" stroke="#ff1300" stroke-width="3.17"/>
<polyline points="423.7,64.0 423.3,64.1" stroke="#ff1200" stroke-width="3.18"/>
<polyline points="423.3,64.1 423.0,64.1" stroke="#ff1100" stroke-width="3.18"/>
<polyline points="423.0,64.1 422.6,64.2" stroke="#ff0f00" stroke-width="3.19"/>
<polyline points="422.6,64.2 422.3,64.2" stroke="#ff0e00" stroke-width="3.19"/>
<polyline points="422.3,64.2 421.9,64.3" stroke="#ff0d00" stroke-width="3.2"/>
<polyline points="421.9,64.3 421.5,64.3" stroke="#ff0c00" stroke-width="3.2"/>
<polyline points="421.5,64.3 421.2,64.4" stroke="#ff0a00" stroke-width="3.21"/>
<polyline points="421.2,64.4 420.9,64.4" stroke="#ff0900" stroke-width="3.21"/>
<polyline points="420.9,64.4 420.5,64.5" stroke="#ff0800" stroke-width="3.22"/>
<polyline points="420.5,64.5 420.2,64.6" stroke="#ff0700" stroke-width="3.22"/>
<polyline points="420.2,64.6 419.8,64.6" stroke="#ff0500" stroke-width="3.23"/>
<polyline points="419.8,64.6 419.5,64.7" stroke="#ff0400" stroke-width="3.23"/>
<polyline points="419.5,64.7 419.2,64.8" stroke="#ff0300" stroke-width="3.24"/>
<polyline points="419.2,64.8 418.8,64.8" stroke="#ff0100" stroke-width="3.24"/>
<polyline points="418.8,64.8 418.5,64.9" stroke="#ff0000" stroke-width="3.25"/>
<polyline points="418.5,64.9 418.2,65.0" stroke="#fe0000" stroke-width="3.25"/>
<polyline points="418.2,65.0 417.9,65.0" stroke="#fd0000" stroke-width="3.26"/>
<polyline points="417.9,65.0 417.6,65.1" stroke="#fb0000" stroke-width="3.26"/>
<polyline points="417.6,65.1 417.3,65.2" stroke="#fa0000" stroke-width="3.27"/>
<polyline points="417.3,65.2 416.9,65.2" stroke="#f80000" stroke-width="3.28"/>
<polyline points="416.9,65.2 416.6,65.3" stroke="#f50000" stroke-width="3.29"/>
<polyline points="416.6,65.3 416.3,65.4" stroke="#f20000" stroke-width="3.3"/>
<polyline points="416.3,65.4 416.0,65.5" stroke="#ef0000" stroke-width="3.31"/>
<polyline points="416.0,65.5 415.7,65.5" stroke="#ed0000" stroke-width="3.33"/>
<polyline points="415.7,65.5 415.4,65.6" stroke="#ea0000" stroke-width="3.34"/>
<polyline points="415.4,65.6 415.2,65.7" stroke="#e70000" stroke-width="3.35"/>
<polyline points="415.2,65.7 414.9,65.8" stroke="#e40000" stroke-width="3.36"/>
<polyline points="414.9,65.8 414.6,65.9" stroke="#e10000" stroke-width="3.37"/>
<polyline points="414.6,65.9 414.3,65.9" stroke="#de0000" stroke-width="3.39"/>
<polyline points="414.3,65.9 414.0,66.0" stroke="#dc0000" stroke-width="3.4"/>
<polyline points="414.0,66.0 413.7,66.1" stroke="#d90000" stroke-width="3.41"/>
<polyline points="413.7,66.1 413.5,66.2" stroke="#d60000" stroke-width="3.42"/>
<polyline points="413.5,66.2 413.2,66.3" stroke="#d30000" stroke-width="3.43"/>
<polyline points="413.2,66.3 412.9,66.4" stroke="#d00000" stroke-width="3.45"/>
<polyline points="412.9,66.4 412.6,66.4" stroke="#cd0000" stroke-width="3.46"/>
<polyline points="412.6,66.4 412.4,66.5" stroke="#cb0000" stroke-width="3.47"/>
<polyline points="412.4,66.5 412.1,66.6" stroke="#c80000" stroke-width="3.48"/>
<polyline points="412.1,66.6 411.8,66.7" stroke="#c50000" stroke-width="3.49"/>
<polyline points="411.8,66.7 411.6,66.8" stroke="#c10000" stroke-width="3.51"/>
<polyline points="411.6,66.8 411.3,66.9" stroke="#be0000" stroke-width="3.52"/>
<polyline points="411.3,66.9 411.1,67.0" stroke="#ba0000" stroke-width="3.54"/>
<polyline points="411.1,67.0 410.8,67.1" stroke="#b70000" stroke-width="3.55"/>
<polyline points="410.8,67.1 410.6,67.2" stroke="#b40000" stroke-width="3.57"/>
<polyline points="410.6,67.2 410.3,67.3" stroke="#b00000" stroke-width="3.58"/>
<polyline points="410.3,67.3 410.1,67.3" stroke="#ad0000" stroke-width="3.6"/>
<polyline points="410.1,67.3 409.8,67.4" stroke="#aa0000" stroke-width="3.61"/>
<polyline points="409.8,67.4 409.6,67.5" stroke="#a60000" stroke-width="3.63"/>
<polyline points="409.6,67.5 409.3,67.6" stroke="#a30000" stroke-width="3.64"/>
<polyline points="409.3,67.6 409.1,67.7" stroke="#9f0000" stroke-width="3.66"/>
<polyline points="409.1,67.7 408.9,67.8" stroke="#9c0000" stroke-width="3.67"/>
<polyline points="408.9,67.8 408.6,67.9" stroke="#990000" stroke-width="3.69"/>
<polyline points="408.6,67.9 408.4,68.0" stroke="#950000" stroke-width="3.7"/>
<polyline points="408.4,68.0 408.2,68.1" stroke="#920000" stroke-width="3.72"/>
<polyline points="408.2,68.1 407.9,68.2" stroke="#8e0000" stroke-width="3.73"/>
<polyline points="407.9,68.2 407.7,68.3" stroke="#8b0000" stroke-width="3.75"/>
<polyline points="407.7,68.3 407.5,68.4 407.2,68.5" stroke="#890000" stroke-width="3.76"/>
<polyline points="407.2,68.5 407.0,68.6 406.8,68.7" stroke="#880000" stroke-width="3.76"/>
<polyline points="406.8,68.7 406.6,68.8 406.4,68.9" stroke="#870000" stroke-width="3.76"/>
<polyline points="406.4,68.9 406.1,69.0 405.9,69.1 405.7,69.2" stroke="#860000" stroke-width="3.77"/>
<polyline points="405.7,69.2 405.5,69.3 405.3,69.4" stroke="#850000" stroke-width="3.77"/>
<polyline points="405.3,69.4 405.1,69.5 404.9,69.6" stroke="#840000" stroke-width="3.78"/>
<polyline points="404.9,69.6 404.7,69.8 404.5,69.9 404.3,70.0" stroke="#830000" stroke-width="3.78"/>
<polyline points="404.3,70.0 404.1,70.1 403.9,70.2" stroke="#820000" stroke-width="3.79"/>
<polyline points="403.9,70.2 403.7,70.3 403.5,70.4" stroke="#810000" stroke-width="3.79"/>
<polyline points="403.5,70.4 403.3,70.5 403.1,70.6 402.9,70.7" stroke="#800000" stroke-width="3.79"/>
<polyline points="402.9,70.7 402.7,70.8 402.5,70.9" stroke="#7f0000" stroke-width="3.8"/>
<polyline points="402.5,70.9 402.4,71.1 402.2,71.2 402.0,71.3" stroke="#800000" stroke-width="3.8"/>
<polyline points="402.0,71.3 401.8,71.4 401.6,71.5" stroke="#810000" stroke-width="3.79"/>
<polyline points="401.6,71.5 401.5,71.6 401.3,71.7" stroke="#820000" stroke-width="3.79"/>
<polyline points="401.3,71.7 401.1,71.9 400.9,72.0 400.7,72.1" stroke="#830000" stroke-width="3.78"/>
<polyline points="400.7,72.1 400.6,72.2 400.4,72.3" stroke="#840000" stroke-width="3.78"/>
<polyline points="400.4,72.3 400.2,72.4 400.1,72.5" stroke="#850000" stroke-width="3.77"/>
<polyline points="400.1,72.5 399.9,72.7 399.7,72.8 399.6,72.9" stroke="#860000" stroke-width="3.77"/>
<polyline points="399.6,72.9 399.4,73.0 399.2,73.1" stroke="#870000" stroke-width="3.76"/>
<polyline points="399.2,73.1 399.1,73.3 398.9,73.4" stroke="#880000" stroke-width="3.76"/>
<polyline points="398.9,73.4 398.8,73.5 398.6,73.6" stroke="#890000" stroke-width="3.76"/>
<polyline points="398.6,73.6 398.4,73.7" stroke="#8a0000" stroke-width="3.75"/>
<polyline points="398.4,73.7 398.3,73.9" stroke="#8d0000" stroke-width="3.74"/>
<polyline points="398.3,73.9 398.1,74.0" stroke="#8f0000" stroke-width="3.73"/>
<polyline points="398.1,74.0 398.0,74.1" stroke="#910000" stroke-width="3.72"/>
<polyline points="398.0,74.1 397.8,74.2" stroke="#930000" stroke-width="3.71"/>
<polyline points="397.8,74.2 397.7,74.3" stroke="#960000" stroke-width="3.7"/>
<polyline points="397.7,74.3 397.5,74.5" stroke="#980000" stroke-width="3.69"/>
<polyline points="397.5,74.5 397.4,74.6" stroke="#9a0000" stroke-width="3.68"/>
<polyline points="397.4,74.6 397.2,74.7" stroke="#9c0000" stroke-width="3.67"/>
<polyline points="397.2,74.7 397.1,74.8" stroke="#9f0000" stroke-width="3.66"/>
<polyline points="397.1,74.8 396.9,75.0" stroke="#a10000" stroke-width="3.65"/>
<polyline points="396.9,75.0 396.8,75.1" stroke="#a30000" stroke-width="3.64"/>
<polyline points="396.8,75.1 396.6,75.2" stroke="#a60000" stroke-width="3.63"/>
<polyline points="396.6,75.2 396.5,75.3" stroke="#a80000" stroke-width="3.62"/>
<polyline points="396.5,75.3 396.4,75.5" stroke="#aa0000" stroke-width="3.61"/>
<polyline points="396.4,75.5 396.2,75.6" stroke="#ac0000" stroke-width="3.6"/>
<polyline points="396.2,75.6 396.1,75.7" stroke="#af0000" stroke-width="3.59"/>
<polyline points="396.1,75.7 395.9,75.8" stroke="#b10000" stroke-width="3.58"/>
<polyline points="395.9,75.8 395.8,76.0" stroke="#b40000" stroke-width="3.57"/>
<polyline points="395.8,76.0 395.7,76.1" stroke="#b80000" stroke-width="3.55"/>
<polyline points="395.7,76.1 395.5,76.2" stroke="#bc0000" stroke-width="3.53"/>
<polyline points="395.5,76.2 395.4,76.3" stroke="#c00000" stroke-width="3.52"/>
<polyline points="395.4,76.3 395.3,76.5" stroke="#c40000" stroke-width="3.5"/>
<polyline points="395.3,76.5 395.1,76.6" stroke="#c80000" stroke-width="3.48"/>
<polyline points="395.1,76.6 395.0,76.7" stroke="#cc0000" stroke-width="3.46"/>
<polyline points="395.0,76.7 394.9,76.9" stroke="#d00000" stroke-width="3.45"/>
<polyline points="394.9,76.9 394.7,77.0" stroke="#d40000" stroke-width="3.43"/>
<polyline points="394.7,77.0 394.6,77.1" stroke="#d80000" stroke-width="3.41"/>
<polyline points="394.6,77.1 394.5,77.2" stroke="#dc0000" stroke-width="3.4"/>
<polyline points="394.5,77.2 394.3,77.4" stroke="#e00000" stroke-width="3.38"/>
<polyline points="394.3,77.4 394.2,77.5" stroke="#e40000" stroke-width="3.36"/>
<polyline points="394.2,77.5 394.1,77.6" stroke="#e80000" stroke-width="3.35"/>
<polyline points="394.1,77.6 394.0,77.8" stroke="#ec0000" stroke-width="3.33"/>
<polyline points="394.0,77.8 393.8,77.9" stroke="#ef0000" stroke-width="3.31"/>
<polyline points="393.8,77.9 393.7,78.0" stroke="#f30000" stroke-width="3.3"/>
<polyline points="393.7,78.0 393.6,78.2" stroke="#f70000" stroke-width="3.28"/>
<polyline points="393.6,78.2 393.5,78.3" stroke="#fb0000" stroke-width="3.27"/>
<polyline points="393.5,78.3 393.4,78.4" stroke="#fe0000" stroke-width="3.25"/>
<polyline points="393.4,78.4 393.2,78.6" stroke="#ff0200" stroke-width="3.24"/>
<polyline points="393.2,78.6 393.1,78.7" stroke="#ff0500" stroke-width="3.23"/>
<polyline points="393.1,78.7 393.0,78.8" stroke="#ff0800" stroke-width="3.22"/>
<polyline points="393.0,78.8 392.9,79.0" stroke="#ff0b00" stroke-width="3.2"/>
<polyline points="392.9,79.0 392.8,79.1" stroke="#ff0e00" stroke-width="3.19"/>
<polyline points="392.8,79.1 392.6,79.2" stroke="#ff1100" stroke-width="3.18"/>
<polyline points="392.6,79.2 392.5,79.4" stroke="#ff1400" stroke-width="3.17"/>
<polyline points="392.5,79.4 392.4,79.5" stroke="#ff1700" stroke-width="3.15"/>
<polyline points="392.4,79.5 392.3,79.7" stroke="#ff1b00" stroke-width="3.14"/>
<polyline points="392.3,79.7 392.2,79.8" stroke="#ff1e00" stroke-width="3.13"/>
<polyline points="392.2,79.8 392.1,79.9" stroke="#ff2100" stroke-width="3.12"/>
<polyline points="392.1,79.9 392.0,80.1" stroke="#ff2400" stroke-width="3.1"/>
<polyline points="392.0,80.1 391.9,80.2" stroke="#ff2700" stroke-width="3.09"/>
<polyline points="391.9,80.2 391.7,80.3" stroke="#ff2a00" stroke-width="3.08"/>
<polyline points="391.7,80.3 391.6,80.5" stroke="#ff2d00" stroke-width="3.07"/>
<polyline points="391.6,80.5 391.5,80.6" stroke="#ff3000" stroke-width="3.06"/>
<polyline points="391.5,80.6 391.4,80.8" stroke="#ff3300" stroke-width="3.04"/>
<polyline points="391.4,80.8 391.3,80.9" stroke="#ff3600" stroke-width="3.03"/>
<polyline points="391.3,80.9 391.2,81.0" stroke="#ff3a00" stroke-width="3.02"/>
<polyline points="391.2,81.0 391.1,81.2" stroke="#ff3d00" stroke-width="3.0"/>
<polyline points="391.1,81.2 391.0,81.3" stroke="#ff4100" stroke-width="2.99"/>
<polyline points="391.0,81.3 390.9,81.5" stroke="#ff4500" stroke-width="2.97"/>
<polyline points="390.9,81.5 390.8,81.6" stroke="#ff4900" stroke-width="2.96"/>
<polyline points="390.8,81.6 390.7,81.8" stroke="#ff4d00" stroke-width="2.94"/>
<polyline points="390.7,81.8 390.6,81.9" stroke="#ff5000" stroke-width="2.93"/>
<polyline points="390.6,81.9 390.5,82.0" stroke="#ff5400" stroke-width="2.91"/>
<polyline points="390.5,82.0 390.4,82.2" stroke="#ff5800" stroke-width="2.9"/>
<polyline points="390.4,82.2 390.3,82.3" stroke="#ff5c00" stroke-width="2.88"/>
<polyline points="390.3,82.3 390.2,82.5" stroke="#ff6000" stroke-width="2.87"/>
<polyline points="390.2,82.5 390.1,82.6" stroke="#ff6400" stroke-width="2.85"/>
<polyline points="390.1,82.6 390.0,82.8" stroke="#ff6700" stroke-width="2.84"/>
<polyline points="390.0,82.8 389.9,82.9" stroke="#ff6b00" stroke-width="2.82"/>
<polyline points="389.9,82.9 389.8,83.1" stroke="#ff6f00" stroke-width="2.81"/>
<polyline points="389.8,83.1 389.7,83.2" stroke="#ff7300" stroke-width="2.79"/>
<polyline points="389.7,83.2 389.6,83.4" stroke="#ff7500" stroke-width="2.79"/>
<polyline points="389.6,83.4 389.5,83.5 389.4,83.7" stroke="#ff7600" stroke-width="2.78"/>
<polyline points="389.4,83.7 389.3,83.8 389.2,84.0" stroke="#ff7700" stroke-width="2.78"/>
<polyline points="389.2,84.0 389.2,84.1 389.1,84.3" stroke="#ff7800" stroke-width="2.78"/>
<polyline points="389.1,84.3 389.0,84.4" stroke="#ff7900" stroke-width="2.77"/>
<polyline points="389.0,84.4 388.9,84.6 388.8,84.7" stroke="#ff7a00" stroke-width="2.77"/>
<polyline points="388.8,84.7 388.7,84.9 388.6,85.0" stroke="#ff7b00" stroke-width="2.76"/>
<polyline points="388.6,85.0 388.5,85.2 388.5,85.3" stroke="#ff7c00" stroke-width="2.76"/>
<polyline points="388.5,85.3 388.4,85.5" stroke="#ff7d00" stroke-width="2.76"/>
<polyline points="388.4,85.5 388.3,85.7 388.2,85.8" stroke="#ff7e00" stroke-width="2.75"/>
<polyline points="388.2,85.8 388.1,86.0" stroke="#ff7f00" stroke-width="2.75"/>
<polyline points="388.1,86.0 388.0,86.1" stroke="#ff7e00" stroke-width="2.75"/>
<polyline points="388.0,86.1 388.0,86.3" stroke="#ff7b00" stroke-width="2.76"/>
<polyline points="388.0,86.3 387.9,86.4" stroke="#ff7800" stroke-width="2.78"/>
<polyline points="387.9,86.4 387.8,86.6" stroke="#ff7500" stroke-width="2.79"/>
<polyline points="387.8,86.6 387.7,86.8" stroke="#ff7200" stroke-width="2.8"/>
<polyline points="387.7,86.8 387.6,86.9" stroke="#ff6f00" stroke-width="2.81"/>
<polyline points="387.6,86.9 387.6,87.1" stroke="#ff6d00" stroke-width="2.82"/>
<polyline points="387.6,87.1 387.5,87.2" stroke="#ff6a00" stroke-width="2.83"/>
<polyline points="387.5,87.2 387.4,87.4" stroke="#ff6700" stroke-width="2.84"/>
<polyline points="387.4,87.4 387.3,87.6" stroke="#ff6400" stroke-width="2.85"/>
<polyline points="387.3,87.6 387.3,87.7" stroke="#ff6100" stroke-width="2.86"/>
<polyline points="387.3,87.7 387.2,87.9" stroke="#ff5e00" stroke-width="2.87"/>
<polyline points="387.2,87.9 387.1,88.1" stroke="#ff5c00" stroke-width="2.88"/>
<polyline points="387.1,88.1 387.0,88.2" stroke="#ff5900" stroke-width="2.89"/>
<polyline points="387.0,88.2 387.0,88.4" stroke="#ff5600" stroke-width="2.91"/>
<polyline points="387.0,88.4 386.9,88.6" stroke="#ff5300" stroke-width="2.92"/>
<polyline points="386.9,88.6 386.8,88.7" stroke="#ff5000" stroke-width="2.93"/>
<polyline points="386.8,88.7 386.8,88.9" stroke="#ff4d00" stroke-width="2.94"/>
<polyline points="386.8,88.9 386.7,89.1" stroke="#ff4a00" stroke-width="2.95"/>
<polyline points="386.7,89.1 386.6,89.2" stroke="#ff4600" stroke-width="2.97"/>
<polyline points="386.6,89.2 386.5,89.4" stroke="#ff4100" stroke-width="2.99"/>
<polyline points="386.5,89.4 386.5,89.6" stroke="#ff3d00" stroke-width="3.0"/>
<polyline points="386.5,89.6 386.4,89.8" stroke="#ff3900" stroke-width="3.02"/>
<polyline points="386.4,89.8 386.3,89.9" stroke="#ff3500" stroke-width="3.04"/>
<polyline points="386.3,89.9 386.3,90.1" stroke="#ff3000" stroke-width="3.05"/>
<polyline points="386.3,90.1 386.2,90.3" stroke="#ff2c00" stroke-width="3.07"/>
<polyline points="386.2,90.3 386.2,90.4" stroke="#ff2800" stroke-width="3.09"/>
<polyline points="386.2,90.4 386.1,90.6" stroke="#ff2400" stroke-width="3.1"/>
<polyline points="386.1,90.6 386.0,90.8" stroke="#ff1f00" stroke-width="3.12"/>
<polyline points="386.0,90.8 386.0,91.0" stroke="#ff1b00" stroke-width="3.14"/>
<polyline points="386.0,91.0 385.9,91.1" stroke="#ff1700" stroke-width="3.16"/>
<polyline points="385.9,91.1 385.8,91.3" stroke="#ff1300" stroke-width="3.17"/>
<polyline points="385.8,91.3 385.8,91.5" stroke="#ff0e00" stroke-width="3.19"/>
<polyline points="385.8,91.5 385.7,91.7" stroke="#ff0a00" stroke-width="3.21"/>
<polyline points="385.7,91.7 385.7,91.9" stroke="#ff0600" stroke-width="3.23"/>
<polyline points="385.7,91.9 385.6,92.0" stroke="#ff0200" stroke-width="3.24"/>
<polyline points="385.6,92.0 385.6,92.2" stroke="#fc0000" stroke-width="3.26"/>
<polyline points="385.6,92.2 385.5,92.4" stroke="#f80000" stroke-width="3.28"/>
<polyline points="385.5,92.4 385.4,92.6" stroke="#f40000" stroke-width="3.3"/>
<polyline points="385.4,92.6 385.4,92.8" stroke="#f00000" stroke-width="3.31"/>
<polyline points="385.4,92.8 385.3,93.0" stroke="#eb0000" stroke-width="3.33"/>
<polyline points="385.3,93.0 385.3,93.1" stroke="#e70000" stroke-width="3.35"/>
<polyline points="385.3,93.1 385.2,93.3" stroke="#e40000" stroke-width="3.36"/>
<polyline points="385.2,93.3 385.2,93.5" stroke="#e30000" stroke-width="3.37"/>
<polyline points="385.2,93.5 385.1,93.7" stroke="#e20000" stroke-width="3.37"/>
<polyline points="385.1,93.7 385.1,93.9" stroke="#e00000" stroke-width="3.38"/>
<polyline points="385.1,93.9 385.0,94.1" stroke="#df0000" stroke-width="3.38"/>
<polyline points="385.0,94.1 385.0,94.3" stroke="#de0000" stroke-width="3.39"/>
<polyline points="385.0,94.3 384.9,94.5" stroke="#dc0000" stroke-width="3.39"/>
<polyline points="384.9,94.5 384.9,94.7" stroke="#db0000" stroke-width="3.4"/>
<polyline points="384.9,94.7 384.8,94.9" stroke="#da0000" stroke-width="3.41"/>
<polyline points="384.8,94.9 384.8,95.1" stroke="#d80000" stroke-width="3.41"/>
<polyline points="384.8,95.1 384.8,95.2" stroke="#d70000" stroke-width="3.42"/>
<polyline points="384.8,95.2 384.7,95.4" stroke="#d60000" stroke-width="3.42"/>
<polyline points="384.7,95.4 384.7,95.6" stroke="#d40000" stroke-width="3.43"/>
<polyline points="384.7,95.6 384.6,95.8" stroke="#d30000" stroke-width="3.43"/>
<polyline points="384.6,95.8 384.6,96.0" stroke="#d20000" stroke-width="3.44"/>
<polyline points="384.6,96.0 384.5,96.2" stroke="#d00000" stroke-width="3.45"/>
<polyline points="384.5,96.2 384.5,96.4" stroke="#cf0000" stroke-width="3.45"/>
<polyline points="384.5,96.4 384.5,96.6" stroke="#ce0000" stroke-width="3.46"/>
<polyline points="384.5,96.6 384.4,96.8" stroke="#cc0000" stroke-width="3.46"/>
<polyline points="384.4,96.8 384.4,97.0" stroke="#cb0000" stroke-width="3.47"/>
<polyline points="384.4,97.0 384.4,97.3" stroke="#c90000" stroke-width="3.47"/>
<polyline points="384.4,97.3 384.3,97.5" stroke="#c80000" stroke-width="3.48"/>
<polyline points="384.3,97.5 384.3,97.7" stroke="#c70000" stroke-width="3.49"/>
<polyline points="384.3,97.7 384.3,97.9" stroke="#c50000" stroke-width="3.49"/>
<polyline points="384.3,97.9 384.2,98.1" stroke="#c40000" stroke-width="3.5"/>
<polyline points="384.2,98.1 384.2,98.3" stroke="#c30000" stroke-width="3.5"/>
<polyline points="384.2,98.3 384.2,98.5" stroke="#c10000" stroke-width="3.51"/>
<polyline points="384.2,98.5 384.1,98.7" stroke="#c00000" stroke-width="3.51"/>
<polyline points="384.1,98.7 384.1,98.9" stroke="#bf0000" stroke-width="3.52"/>
<polyline points="384.1,98.9 384.1,99.1" stroke="#bd0000" stroke-width="3.53"/>
<polyline points="384.1,99.1 384.0,99.4" stroke="#bc0000" stroke-width="3.53"/>
<polyline points="384.0,99.4 384.0,99.6" stroke="#bb0000" stroke-width="3.54"/>
<polyline points="384.0,99.6 384.0,99.8" stroke="#b90000" stroke-width="3.54"/>
<polyline points="384.0,99.8 384.0,100.0" stroke="#b80000" stroke-width="3.55"/>
<polyline points="384.0,100.0 383.9,100.2" stroke="#b70000" stroke-width="3.56"/>
<polyline points="383.9,100.2 383.9,100.5" stroke="#b50000" stroke-width="3.56"/>
<polyline points="383.9,100.5 383.9,100.7" stroke="#b40000" stroke-width="3.57"/>
<polyline points="383.9,100.7 383.9,100.9 383.9,101.1" stroke="#b30000" stroke-width="3.57"/>
<polyline points="383.9,101.1 383.8,101.4" stroke="#b60000" stroke-width="3.56"/>
<polyline points="383.8,101.4 383.8,101.6" stroke="#b90000" stroke-width="3.55"/>
<polyline points="383.8,101.6 383.8,101.8" stroke="#bc0000" stroke-width="3.53"/>
<polyline points="383.8,101.8 383.8,102.0" stroke="#be0000" stroke-width="3.52"/>
<polyline points="383.8,102.0 383.8,102.3" stroke="#c10000" stroke-width="3.51"/>
<polyline points="383.8,102.3 383.8,102.5" stroke="#c40000" stroke-width="3.5"/>
<polyline points="383.8,102.5 383.8,102.7" stroke="#c70000" stroke-width="3.49"/>
<polyline points="383.8,102.7 383.7,103.0" stroke="#c90000" stroke-width="3.47"/>
<polyline points="383.7,103.0 383.7,103.2" stroke="#cc0000" stroke-width="3.46"/>
<polyline points="383.7,103.2 383.7,103.5" stroke="#cf0000" stroke-width="3.45"/>
<polyline points="383.7,103.5 383.7,103.7" stroke="#d20000" stroke-width="3.44"/>
<polyline points="383.7,103.7 383.7,103.9" stroke="#d40000" stroke-width="3.43"/>
<polyline points="383.7,103.9 383.7,104.2" stroke="#d70000" stroke-width="3.42"/>
<polyline points="383.7,104.2 383.7,104.4" stroke="#da0000" stroke-width="3.4"/>
<polyline points="383.7,104.4 383.7,104.7" stroke="#dd0000" stroke-width="3.39"/>
<polyline points="383.7,104.7 383.7,104.9" stroke="#df0000" stroke-width="3.38"/>
<polyline points="383.7,104.9 383.7,105.2" stroke="#e20000" stroke-width="3.37"/>
<polyline points="383.7,105.2 383.7,105.4" stroke="#e50000" stroke-width="3.36"/>
<polyline points="383.7,105.4 383.7,105.7" stroke="#e80000" stroke-width="3.35"/>
<polyline points="383.7,105.7 383.7,105.9" stroke="#ea0000" stroke-width="3.34"/>
<polyline points="383.7,105.9 383.7,106.2" stroke="#ed0000" stroke-width="3.32"/>
<polyline points="383.7,106.2 383.7,106.4" stroke="#f00000" stroke-width="3.31"/>
<polyline points="383.7,106.4 383.7,106.7" stroke="#f30000" stroke-width="3.3"/>
<polyline points="383.7,106.7 383.7,106.9" stroke="#f50000" stroke-width="3.29"/>
<polyline points="383.7,106.9 383.8,107.2" stroke="#f80000" stroke-width="3.28"/>
<polyline points="383.8,107.2 383.8,107.5" stroke="#fd0000" stroke-width="3.26"/>
<polyline points="383.8,107.5 383.8,107.7" stroke="#ff0500" stroke-width="3.23"/>
<polyline points="383.8,107.7 383.8,108.0" stroke="#ff0d00" stroke-width="3.2"/>
<polyline points="383.8,108.0 383.8,108.3" stroke="#ff1400" stroke-width="3.17"/>
<polyline points="383.8,108.3 383.8,108.5" stroke="#ff1c00" stroke-width="3.14"/>
<polyline points="383.8,108.5 383.8,108.8" stroke="#ff2300" stroke-width="3.11"/>
<polyline points="383.8,108.8 383.9,109.1" stroke="#ff2a00" stroke-width="3.08"/>
<polyline points="383.9,109.1 383.9,109.4" stroke="#ff3200" stroke-width="3.05"/>
<polyline points="383.9,109.4 383.9,109.6" stroke="#ff3900" stroke-width="3.02"/>
<polyline points="383.9,109.6 383.9,109.9" stroke="#ff4000" stroke-width="2.99"/>
<polyline points="383.9,109.9 384.0,110.2" stroke="#ff4800" stroke-width="2.96"/>
<polyline points="384.0,110.2 384.0,110.5" stroke="#ff4f00" stroke-width="2.93"/>
<polyline points="384.0,110.5 384.0,110.7" stroke="#ff5600" stroke-width="2.9"/>
<polyline points="384.0,110.7 384.1,111.0" stroke="#ff5e00" stroke-width="2.87"/>
<polyline points="384.1,111.0 384.1,111.3" stroke="#ff6500" stroke-width="2.85"/>
<polyline points="384.1,111.3 384.1,111.6" stroke="#ff6d00" stroke-width="2.82"/>
<polyline points="384.1,111.6 384.2,111.9" stroke="#ff7400" stroke-width="2.79"/>
<polyline points="384.2,111.9 384.2,112.2" stroke="#ff7b00" stroke-width="2.76"/>
<polyline points="384.2,112.2 384.2,112.5" stroke="#ff8400" stroke-width="2.73"/>
<polyline points="384.2,112.5 384.3,112.8" stroke="#ff8d00" stroke-width="2.7"/>
<polyline points="384.3,112.8 384.3,113.1" stroke="#ff9700" stroke-width="2.66"/>
<polyline points="384.3,113.1 384.4,113.4" stroke="#ffa000" stroke-width="2.63"/>
<polyline points="384.4,113.4 384.4,113.7" stroke="#ffaa00" stroke-width="2.59"/>
<polyline points="384.4,113.7 384.5,114.0" stroke="#ffb300" stroke-width="2.56"/>
<polyline points="384.5,114.0 384.5,114.3" stroke="#ffbd00" stroke-width="2.52"/>
<polyline points="384.5,114.3 384.6,114.6" stroke="#ffc600" stroke-width="2.49"/>
<polyline points="384.6,114.6 384.6,114.9" stroke="#ffd000" stroke-width="2.46"/>
<polyline points="384.6,114.9 384.7,115.2" stroke="#ffd900" stroke-width="2.42"/>
<polyline points="384.7,115.2 384.8,115.6" stroke="#ffe200" stroke-width="2.39"/>
<polyline points="384.8,115.6 384.8,115.9" stroke="#ffec00" stroke-width="2.36"/>
<polyline points="384.8,115.9 384.9,116.2" stroke="#fff500" stroke-width="2.32"/>
<polyline points="384.9,116.2 385.0,116.5" stroke="#feff00" stroke-width="2.29"/>
<polyline points="385.0,116.5 385.0,116.8" stroke="#f7ff07" stroke-width="2.27"/>
<polyline points="385.0,116.8 385.1,117.2" stroke="#f3ff0b" stroke-width="2.26"/>
<polyline points="385.1,117.2 385.2,117.5" stroke="#efff0f" stroke-width="2.24"/>
<polyline points="385.2,117.5 385.3,117.8" stroke="#ebff13" stroke-width="2.23"/>
<polyline points="385.3,117.8 385.3,118.2" stroke="#e7ff17" stroke-width="2.22"/>
<polyline points="385.3,118.2 385.4,118.5" stroke="#e3ff1b" stroke-width="2.2"/>
<polyline points="385.4,118.5 385.5,118.8" stroke="#dfff1f" stroke-width="2.19"/>
<polyline points="385.5,118.8 385.6,119.2" stroke="#dbff23" stroke-width="2.18"/>
<polyline points="385.6,119.2 385.7,119.5" stroke="#d7ff27" stroke-width="2.16"/>
<polyline points="385.7,119.5 385.8,119.9" stroke="#d3ff2b" stroke-width="2.15"/>
<polyline points="385.8,119.9 385.9,120.2" stroke="#cdff31" stroke-width="2.13"/>
<polyline points="385.9,120.2 386.0,120.6" stroke="#c6ff38" stroke-width="2.11"/>
<polyline points="386.0,120.6 386.1,120.9" stroke="#c0ff3e" stroke-width="2.09"/>
<polyline points="386.1,120.9 386.2,121.3" stroke="#b9ff45" stroke-width="2.07"/>
<polyline points="386.2,121.3 386.3,121.7" stroke="#b2ff4c" stroke-width="2.05"/>
<polyline points="386.3,121.7 386.4,122.0" stroke="#abff53" stroke-width="2.02"/>
<polyline points="386.4,122.0 386.5,122.4" stroke="#a4ff5a" stroke-width="2.0"/>
<polyline points="386.5,122.4 386.6,122.8" stroke="#9eff60" stroke-width="1.98"/>
<polyline points="386.6,122.8 386.7,123.1" stroke="#97ff67" stroke-width="1.96"/>
<polyline points="386.7,123.1 386.8,123.5" stroke="#90ff6e" stroke-width="1.94"/>
<polyline points="386.8,123.5 387.0,123.9" stroke="#89ff75" stroke-width="1.92"/>
<polyline points="387.0,123.9 387.1,124.3" stroke="#82ff7c" stroke-width="1.9"/>
<polyline points="387.1,124.3 387.2,124.6" stroke="#7bff83" stroke-width="1.88"/>
<polyline points="387.2,124.6 387.3,125.0" stroke="#74ff8a" stroke-width="1.86"/>
<polyline points="387.3,125.0 387.5,125.4" stroke="#6dff91" stroke-width="1.84"/>
<polyline points="387.5,125.4 387.6,125.8" stroke="#65ff99" stroke-width="1.82"/>
<polyline points="387.6,125.8 387.8,126.2" stroke="#5effa0" stroke-width="1.8"/>
<polyline points="387.8,126.2 387.9,126.6" stroke="#57ffa7" stroke-width="1.77"/>
<polyline points="387.9,126.6 388.1,127.0" stroke="#50ffae" stroke-width="1.75"/>
<polyline points="388.1,127.0 388.2,127.4" stroke="#48ffb6" stroke-width="1.73"/>
<polyline points="388.2,127.4 388.4,127.8" stroke="#41ffbd" stroke-width="1.71"/>
<polyline points="388.4,127.8 388.5,128.2" stroke="#3affc4" stroke-width="1.69"/>
<polyline points="388.5,128.2 388.7,128.7" stroke="#32ffcc" stroke-width="1.67"/>
<polyline points="388.7,128.7 388.9,129.1" stroke="#2bffd3" stroke-width="1.66"/>
<polyline points="388.9,129.1 389.1,129.5" stroke="#24ffda" stroke-width="1.64"/>
<polyline points="389.1,129.5 389.2,129.9" stroke="#1dffe1" stroke-width="1.62"/>
<polyline points="389.2,129.9 389.4,130.4" stroke="#17ffe7" stroke-width="1.6"/>
<polyline points="389.4,130.4 389.6,130.8" stroke="#14ffea" stroke-width="1.59"/>
<polyline points="389.6,130.8 389.8,131.2" stroke="#10ffee" stroke-width="1.58"/>
<polyline points="389.8,131.2 390.0,131.7" stroke="#0cfff2" stroke-width="1.58"/>
<polyline points="390.0,131.7 390.2,132.1" stroke="#09fff5" stroke-width="1.57"/>
<polyline points="390.2,132.1 390.4,132.5" stroke="#05fff9" stroke-width="1.56"/>
<polyline points="390.4,132.5 390.6,133.0" stroke="#01fffd" stroke-width="1.55"/>
<polyline points="390.6,133.0 390.8,133.5" stroke="#00fdff" stroke-width="1.54"/>
<polyline points="390.8,133.5 391.0,133.9" stroke="#00f9ff" stroke-width="1.53"/>
<polyline points="391.0,133.9 391.3,134.4" stroke="#00f5ff" stroke-width="1.52"/>
<polyline points="391.3,134.4 391.5,134.8" stroke="#00f2ff" stroke-width="1.51"/>
<polyline points="391.5,134.8 391.7,135.3" stroke="#00eeff" stroke-width="1.5"/>
<polyline points="391.7,135.3 392.0,135.8" stroke="#00eaff" stroke-width="1.49"/>
<polyline points="392.0,135.8 392.2,136.3" stroke="#00e7ff" stroke-width="1.49"/>
<polyline points="392.2,136.3 392.5,136.7 392.7,137.2 393.0,137.7 393.3,138.2 393.5,138.7 393.8,139.2 394.1,139.7 394.4,140.2 394.7,140.7 395.0,141.3 395.3,141.8 395.6,142.3 396.0,142.8 396.3,143.4 396.6,143.9 397.0,144.5 397.3,145.0 397.7,145.6" stroke="#00e5ff" stroke-width="1.48"/>
</g>
<path d="M573.00,127.50 C573.42,128.25 574.42,129.83 575.50,132.00 C576.58,134.17 578.13,137.50 579.50,140.50 C580.87,143.50 582.47,146.42 583.70,150.00 C584.93,153.58 586.13,157.83 586.90,162.00 C587.67,166.17 588.18,170.67 588.30,175.00 C588.42,179.33 588.00,183.68 587.60,188.00 C587.20,192.32 586.85,196.10 585.90,200.90 C584.95,205.70 583.57,212.15 581.90,216.80 C580.23,221.45 577.88,225.80 575.90,228.80 C573.92,231.80 570.98,233.80 570.00,234.80" fill="none" stroke="#5a5a5a" stroke-width="0.9"/>
<polygon points="506.70,208.00 499.74,210.32 499.66,205.92" fill="#000"/>
<polygon points="500.90,233.80 493.79,235.63 494.02,231.24" fill="#000"/>
</g>
<circle cx="406.6" cy="93.7" r="2.6" fill="#f0601e"/>
<text x="388.30" y="40.90" font-size="10.4" text-anchor="start" textLength="36.52" lengthAdjust="spacingAndGlyphs" fill="#111" stroke="#111" stroke-width="0.33" style="font-style:italic;">Orbits 1-3</text>
<text x="437.60" y="60.40" font-size="10.8" text-anchor="start" textLength="12.80" lengthAdjust="spacingAndGlyphs" fill="#111" stroke="#111" stroke-width="0.35" style="font-style:italic;">4-5</text>
<text x="473.50" y="83.00" font-size="10.8" text-anchor="start" textLength="4.92" lengthAdjust="spacingAndGlyphs" fill="#111" stroke="#111" stroke-width="0.35" style="font-style:italic;">6</text>
<text x="489.30" y="154.60" font-size="7.9" text-anchor="end" textLength="47.42" lengthAdjust="spacingAndGlyphs" fill="#1a1a1a" stroke="#1a1a1a" stroke-width="0.25" style="font-style:italic;">Innermost Helios</text>
<text x="489.30" y="163.40" font-size="7.9" text-anchor="end" textLength="51.98" lengthAdjust="spacingAndGlyphs" fill="#1a1a1a" stroke="#1a1a1a" stroke-width="0.25" style="font-style:italic;">Dust Observations</text>
<line x1="353.80" y1="232.35" x2="356.30" y2="232.35" stroke="#3a3a3a" stroke-width="0.9"/>
<line x1="598.30" y1="232.35" x2="595.80" y2="232.35" stroke="#3a3a3a" stroke-width="0.9"/>
<line x1="353.80" y1="221.70" x2="358.80" y2="221.70" stroke="#3a3a3a" stroke-width="0.9"/>
<line x1="598.30" y1="221.70" x2="593.30" y2="221.70" stroke="#3a3a3a" stroke-width="0.9"/>
<line x1="353.80" y1="211.05" x2="356.30" y2="211.05" stroke="#3a3a3a" stroke-width="0.9"/>
<line x1="598.30" y1="211.05" x2="595.80" y2="211.05" stroke="#3a3a3a" stroke-width="0.9"/>
<line x1="353.80" y1="200.40" x2="356.30" y2="200.40" stroke="#3a3a3a" stroke-width="0.9"/>
<line x1="598.30" y1="200.40" x2="595.80" y2="200.40" stroke="#3a3a3a" stroke-width="0.9"/>
<line x1="353.80" y1="189.75" x2="356.30" y2="189.75" stroke="#3a3a3a" stroke-width="0.9"/>
<line x1="598.30" y1="189.75" x2="595.80" y2="189.75" stroke="#3a3a3a" stroke-width="0.9"/>
<line x1="353.80" y1="179.10" x2="358.80" y2="179.10" stroke="#3a3a3a" stroke-width="0.9"/>
<line x1="598.30" y1="179.10" x2="593.30" y2="179.10" stroke="#3a3a3a" stroke-width="0.9"/>
<line x1="353.80" y1="168.45" x2="356.30" y2="168.45" stroke="#3a3a3a" stroke-width="0.9"/>
<line x1="598.30" y1="168.45" x2="595.80" y2="168.45" stroke="#3a3a3a" stroke-width="0.9"/>
<line x1="353.80" y1="157.80" x2="356.30" y2="157.80" stroke="#3a3a3a" stroke-width="0.9"/>
<line x1="598.30" y1="157.80" x2="595.80" y2="157.80" stroke="#3a3a3a" stroke-width="0.9"/>
<line x1="353.80" y1="147.15" x2="356.30" y2="147.15" stroke="#3a3a3a" stroke-width="0.9"/>
<line x1="598.30" y1="147.15" x2="595.80" y2="147.15" stroke="#3a3a3a" stroke-width="0.9"/>
<line x1="353.80" y1="136.50" x2="358.80" y2="136.50" stroke="#3a3a3a" stroke-width="0.9"/>
<line x1="598.30" y1="136.50" x2="593.30" y2="136.50" stroke="#3a3a3a" stroke-width="0.9"/>
<line x1="353.80" y1="125.85" x2="356.30" y2="125.85" stroke="#3a3a3a" stroke-width="0.9"/>
<line x1="598.30" y1="125.85" x2="595.80" y2="125.85" stroke="#3a3a3a" stroke-width="0.9"/>
<line x1="353.80" y1="115.20" x2="356.30" y2="115.20" stroke="#3a3a3a" stroke-width="0.9"/>
<line x1="598.30" y1="115.20" x2="595.80" y2="115.20" stroke="#3a3a3a" stroke-width="0.9"/>
<line x1="353.80" y1="104.55" x2="356.30" y2="104.55" stroke="#3a3a3a" stroke-width="0.9"/>
<line x1="598.30" y1="104.55" x2="595.80" y2="104.55" stroke="#3a3a3a" stroke-width="0.9"/>
<line x1="353.80" y1="93.90" x2="358.80" y2="93.90" stroke="#3a3a3a" stroke-width="0.9"/>
<line x1="598.30" y1="93.90" x2="593.30" y2="93.90" stroke="#3a3a3a" stroke-width="0.9"/>
<line x1="353.80" y1="83.25" x2="356.30" y2="83.25" stroke="#3a3a3a" stroke-width="0.9"/>
<line x1="598.30" y1="83.25" x2="595.80" y2="83.25" stroke="#3a3a3a" stroke-width="0.9"/>
<line x1="353.80" y1="72.60" x2="356.30" y2="72.60" stroke="#3a3a3a" stroke-width="0.9"/>
<line x1="598.30" y1="72.60" x2="595.80" y2="72.60" stroke="#3a3a3a" stroke-width="0.9"/>
<line x1="353.80" y1="61.95" x2="356.30" y2="61.95" stroke="#3a3a3a" stroke-width="0.9"/>
<line x1="598.30" y1="61.95" x2="595.80" y2="61.95" stroke="#3a3a3a" stroke-width="0.9"/>
<line x1="353.80" y1="51.30" x2="358.80" y2="51.30" stroke="#3a3a3a" stroke-width="0.9"/>
<line x1="598.30" y1="51.30" x2="593.30" y2="51.30" stroke="#3a3a3a" stroke-width="0.9"/>
<line x1="364.20" y1="243.00" x2="364.20" y2="239.00" stroke="#3a3a3a" stroke-width="0.9"/>
<line x1="364.20" y1="30.45" x2="364.20" y2="34.45" stroke="#3a3a3a" stroke-width="0.9"/>
<line x1="374.85" y1="243.00" x2="374.85" y2="241.00" stroke="#3a3a3a" stroke-width="0.9"/>
<line x1="374.85" y1="30.45" x2="374.85" y2="32.45" stroke="#3a3a3a" stroke-width="0.9"/>
<line x1="385.50" y1="243.00" x2="385.50" y2="241.00" stroke="#3a3a3a" stroke-width="0.9"/>
<line x1="385.50" y1="30.45" x2="385.50" y2="32.45" stroke="#3a3a3a" stroke-width="0.9"/>
<line x1="396.15" y1="243.00" x2="396.15" y2="241.00" stroke="#3a3a3a" stroke-width="0.9"/>
<line x1="396.15" y1="30.45" x2="396.15" y2="32.45" stroke="#3a3a3a" stroke-width="0.9"/>
<line x1="406.80" y1="243.00" x2="406.80" y2="239.00" stroke="#3a3a3a" stroke-width="0.9"/>
<line x1="406.80" y1="30.45" x2="406.80" y2="34.45" stroke="#3a3a3a" stroke-width="0.9"/>
<line x1="417.45" y1="243.00" x2="417.45" y2="241.00" stroke="#3a3a3a" stroke-width="0.9"/>
<line x1="417.45" y1="30.45" x2="417.45" y2="32.45" stroke="#3a3a3a" stroke-width="0.9"/>
<line x1="428.10" y1="243.00" x2="428.10" y2="241.00" stroke="#3a3a3a" stroke-width="0.9"/>
<line x1="428.10" y1="30.45" x2="428.10" y2="32.45" stroke="#3a3a3a" stroke-width="0.9"/>
<line x1="438.75" y1="243.00" x2="438.75" y2="241.00" stroke="#3a3a3a" stroke-width="0.9"/>
<line x1="438.75" y1="30.45" x2="438.75" y2="32.45" stroke="#3a3a3a" stroke-width="0.9"/>
<line x1="449.40" y1="243.00" x2="449.40" y2="239.00" stroke="#3a3a3a" stroke-width="0.9"/>
<line x1="449.40" y1="30.45" x2="449.40" y2="34.45" stroke="#3a3a3a" stroke-width="0.9"/>
<line x1="460.05" y1="243.00" x2="460.05" y2="241.00" stroke="#3a3a3a" stroke-width="0.9"/>
<line x1="460.05" y1="30.45" x2="460.05" y2="32.45" stroke="#3a3a3a" stroke-width="0.9"/>
<line x1="470.70" y1="243.00" x2="470.70" y2="241.00" stroke="#3a3a3a" stroke-width="0.9"/>
<line x1="470.70" y1="30.45" x2="470.70" y2="32.45" stroke="#3a3a3a" stroke-width="0.9"/>
<line x1="481.35" y1="243.00" x2="481.35" y2="241.00" stroke="#3a3a3a" stroke-width="0.9"/>
<line x1="481.35" y1="30.45" x2="481.35" y2="32.45" stroke="#3a3a3a" stroke-width="0.9"/>
<line x1="492.00" y1="243.00" x2="492.00" y2="239.00" stroke="#3a3a3a" stroke-width="0.9"/>
<line x1="492.00" y1="30.45" x2="492.00" y2="34.45" stroke="#3a3a3a" stroke-width="0.9"/>
<line x1="502.65" y1="243.00" x2="502.65" y2="241.00" stroke="#3a3a3a" stroke-width="0.9"/>
<line x1="502.65" y1="30.45" x2="502.65" y2="32.45" stroke="#3a3a3a" stroke-width="0.9"/>
<line x1="513.30" y1="243.00" x2="513.30" y2="241.00" stroke="#3a3a3a" stroke-width="0.9"/>
<line x1="513.30" y1="30.45" x2="513.30" y2="32.45" stroke="#3a3a3a" stroke-width="0.9"/>
<line x1="523.95" y1="243.00" x2="523.95" y2="241.00" stroke="#3a3a3a" stroke-width="0.9"/>
<line x1="523.95" y1="30.45" x2="523.95" y2="32.45" stroke="#3a3a3a" stroke-width="0.9"/>
<line x1="534.60" y1="243.00" x2="534.60" y2="239.00" stroke="#3a3a3a" stroke-width="0.9"/>
<line x1="534.60" y1="30.45" x2="534.60" y2="34.45" stroke="#3a3a3a" stroke-width="0.9"/>
<line x1="545.25" y1="243.00" x2="545.25" y2="241.00" stroke="#3a3a3a" stroke-width="0.9"/>
<line x1="545.25" y1="30.45" x2="545.25" y2="32.45" stroke="#3a3a3a" stroke-width="0.9"/>
<line x1="555.90" y1="243.00" x2="555.90" y2="241.00" stroke="#3a3a3a" stroke-width="0.9"/>
<line x1="555.90" y1="30.45" x2="555.90" y2="32.45" stroke="#3a3a3a" stroke-width="0.9"/>
<line x1="566.55" y1="243.00" x2="566.55" y2="241.00" stroke="#3a3a3a" stroke-width="0.9"/>
<line x1="566.55" y1="30.45" x2="566.55" y2="32.45" stroke="#3a3a3a" stroke-width="0.9"/>
<line x1="577.20" y1="243.00" x2="577.20" y2="239.00" stroke="#3a3a3a" stroke-width="0.9"/>
<line x1="577.20" y1="30.45" x2="577.20" y2="34.45" stroke="#3a3a3a" stroke-width="0.9"/>
<line x1="587.85" y1="243.00" x2="587.85" y2="241.00" stroke="#3a3a3a" stroke-width="0.9"/>
<line x1="587.85" y1="30.45" x2="587.85" y2="32.45" stroke="#3a3a3a" stroke-width="0.9"/>
<rect x="353.80" y="30.45" width="244.50" height="212.55" fill="none" stroke="#3a3a3a" stroke-width="1.2"/>
<text x="349.80" y="56.50" font-size="14" text-anchor="end" textLength="16.74" lengthAdjust="spacingAndGlyphs" fill="#111" stroke="#111" stroke-width="0.45" style="">0.2</text>
<text x="349.80" y="99.10" font-size="14" text-anchor="end" textLength="6.70" lengthAdjust="spacingAndGlyphs" fill="#111" stroke="#111" stroke-width="0.45" style="">0</text>
<text x="349.80" y="141.70" font-size="14" text-anchor="end" textLength="20.74" lengthAdjust="spacingAndGlyphs" fill="#111" stroke="#111" stroke-width="0.45" style="">-0.2</text>
<text x="349.80" y="184.30" font-size="14" text-anchor="end" textLength="20.74" lengthAdjust="spacingAndGlyphs" fill="#111" stroke="#111" stroke-width="0.45" style="">-0.4</text>
<text x="349.80" y="226.90" font-size="14" text-anchor="end" textLength="20.74" lengthAdjust="spacingAndGlyphs" fill="#111" stroke="#111" stroke-width="0.45" style="">-0.6</text>
<text x="364.20" y="256.30" font-size="14" text-anchor="middle" textLength="20.74" lengthAdjust="spacingAndGlyphs" fill="#111" stroke="#111" stroke-width="0.45" style="">-0.2</text>
<text x="406.80" y="256.30" font-size="14" text-anchor="middle" textLength="6.70" lengthAdjust="spacingAndGlyphs" fill="#111" stroke="#111" stroke-width="0.45" style="">0</text>
<text x="449.40" y="256.30" font-size="14" text-anchor="middle" textLength="16.74" lengthAdjust="spacingAndGlyphs" fill="#111" stroke="#111" stroke-width="0.45" style="">0.2</text>
<text x="492.00" y="256.30" font-size="14" text-anchor="middle" textLength="16.74" lengthAdjust="spacingAndGlyphs" fill="#111" stroke="#111" stroke-width="0.45" style="">0.4</text>
<text x="534.60" y="256.30" font-size="14" text-anchor="middle" textLength="16.74" lengthAdjust="spacingAndGlyphs" fill="#111" stroke="#111" stroke-width="0.45" style="">0.6</text>
<text x="577.20" y="256.30" font-size="14" text-anchor="middle" textLength="16.74" lengthAdjust="spacingAndGlyphs" fill="#111" stroke="#111" stroke-width="0.45" style="">0.8</text>
<text x="446.60" y="272.60" font-size="14" text-anchor="start" textLength="30.77" lengthAdjust="spacingAndGlyphs" fill="#111" stroke="#111" stroke-width="0.45" style="">x (au)</text>
<g transform="translate(317.6,149.2) rotate(-90)">
<text x="0.00" y="0.00" font-size="14" text-anchor="start" textLength="30.77" lengthAdjust="spacingAndGlyphs" fill="#111" stroke="#111" stroke-width="0.45" style="">y (au)</text>
</g>
<defs><linearGradient id="jet" x1="0" y1="1" x2="0" y2="0">
<stop offset="0.00" stop-color="#00007f"/>
<stop offset="0.05" stop-color="#0000b2"/>
<stop offset="0.10" stop-color="#0000e5"/>
<stop offset="0.15" stop-color="#0019ff"/>
<stop offset="0.20" stop-color="#004cff"/>
<stop offset="0.25" stop-color="#007fff"/>
<stop offset="0.30" stop-color="#00b2ff"/>
<stop offset="0.35" stop-color="#00e5ff"/>
<stop offset="0.40" stop-color="#19ffe5"/>
<stop offset="0.45" stop-color="#4cffb2"/>
<stop offset="0.50" stop-color="#7fff7f"/>
<stop offset="0.55" stop-color="#b2ff4c"/>
<stop offset="0.60" stop-color="#e5ff19"/>
<stop offset="0.65" stop-color="#ffe500"/>
<stop offset="0.70" stop-color="#ffb200"/>
<stop offset="0.75" stop-color="#ff7f00"/>
<stop offset="0.80" stop-color="#ff4c00"/>
<stop offset="0.85" stop-color="#ff1900"/>
<stop offset="0.90" stop-color="#e50000"/>
<stop offset="0.95" stop-color="#b20000"/>
<stop offset="1.00" stop-color="#7f0000"/>
</linearGradient></defs>
<rect x="600.3" y="30.349999999999998" width="6.6" height="212.85000000000002" fill="url(#jet)" stroke="#2a2a2a" stroke-width="0.7"/>
<line x1="606.90" y1="221.75" x2="605.90" y2="221.75" stroke="#222" stroke-width="0.7"/>
<line x1="606.90" y1="200.49" x2="605.30" y2="200.49" stroke="#222" stroke-width="0.7"/>
<line x1="606.90" y1="179.24" x2="605.90" y2="179.24" stroke="#222" stroke-width="0.7"/>
<line x1="606.90" y1="157.98" x2="605.30" y2="157.98" stroke="#222" stroke-width="0.7"/>
<line x1="606.90" y1="136.72" x2="605.90" y2="136.72" stroke="#222" stroke-width="0.7"/>
<line x1="606.90" y1="115.47" x2="605.30" y2="115.47" stroke="#222" stroke-width="0.7"/>
<line x1="606.90" y1="94.22" x2="605.90" y2="94.22" stroke="#222" stroke-width="0.7"/>
<line x1="606.90" y1="72.96" x2="605.30" y2="72.96" stroke="#222" stroke-width="0.7"/>
<line x1="606.90" y1="51.71" x2="605.90" y2="51.71" stroke="#222" stroke-width="0.7"/>
<text x="609.90" y="243.60" font-size="12.2" text-anchor="start" textLength="5.97" lengthAdjust="spacingAndGlyphs" fill="#111" stroke="#111" stroke-width="0.39" style="">0</text>
<text x="609.90" y="204.89" font-size="12.2" text-anchor="start" textLength="11.94" lengthAdjust="spacingAndGlyphs" fill="#111" stroke="#111" stroke-width="0.39" style="">20</text>
<text x="609.90" y="162.38" font-size="12.2" text-anchor="start" textLength="11.94" lengthAdjust="spacingAndGlyphs" fill="#111" stroke="#111" stroke-width="0.39" style="">40</text>
<text x="609.90" y="119.87" font-size="12.2" text-anchor="start" textLength="11.94" lengthAdjust="spacingAndGlyphs" fill="#111" stroke="#111" stroke-width="0.39" style="">60</text>
<text x="609.90" y="77.36" font-size="12.2" text-anchor="start" textLength="11.94" lengthAdjust="spacingAndGlyphs" fill="#111" stroke="#111" stroke-width="0.39" style="">80</text>
<text x="609.90" y="33.75" font-size="12.2" text-anchor="start" textLength="17.91" lengthAdjust="spacingAndGlyphs" fill="#111" stroke="#111" stroke-width="0.39" style="">100</text>
<g transform="translate(634.6,171.4) rotate(-90)">
<text x="0.00" y="0.00" font-size="12" text-anchor="start" textLength="65.53" lengthAdjust="spacingAndGlyphs" fill="#111" stroke="#111" stroke-width="0.38" style="">Impact rate (hr</text>
<text x="65.73" y="-5.04" font-size="7.4399999999999995" text-anchor="start" textLength="5.56" lengthAdjust="spacingAndGlyphs" fill="#111" stroke="#111" stroke-width="0.24" style="">-1</text>
<text x="71.69" y="0.00" font-size="12" text-anchor="start" textLength="3.36" lengthAdjust="spacingAndGlyphs" fill="#111" stroke="#111" stroke-width="0.38" style="">)</text>
</g>
</svg></body></html>
